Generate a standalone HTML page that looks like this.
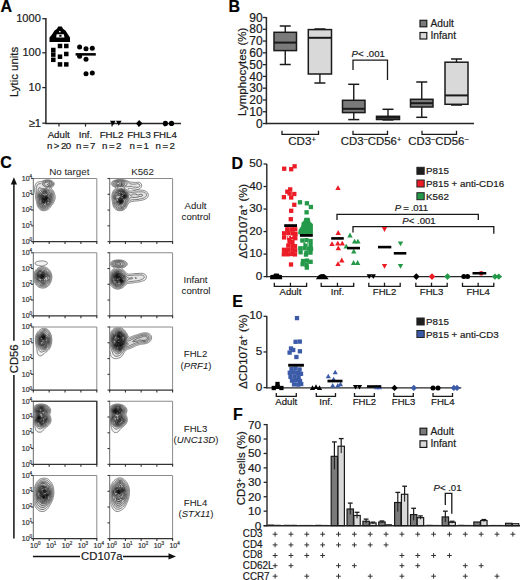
<!DOCTYPE html>
<html><head><meta charset="utf-8"><title>Figure</title>
<style>html,body{margin:0;padding:0;background:#fff;width:520px;height:580px;overflow:hidden}
svg{display:block;font-family:"Liberation Sans", sans-serif}</style></head>
<body><svg width="520" height="580" viewBox="0 0 520 580">
<rect width="520" height="580" fill="#fff"/>
<text x="0.6" y="12.4" font-size="16" text-anchor="start" font-weight="bold" stroke="#000" stroke-width="0.2" fill="#000">A</text>
<text x="228.4" y="12.3" font-size="16" text-anchor="start" font-weight="bold" stroke="#000" stroke-width="0.2" fill="#000">B</text>
<text x="0.2" y="168.4" font-size="16" text-anchor="start" font-weight="bold" stroke="#000" stroke-width="0.2" fill="#000">C</text>
<text x="231.5" y="168.5" font-size="16" text-anchor="start" font-weight="bold" stroke="#000" stroke-width="0.2" fill="#000">D</text>
<text x="232.3" y="306.5" font-size="16" text-anchor="start" font-weight="bold" stroke="#000" stroke-width="0.2" fill="#000">E</text>
<text x="233.0" y="420.0" font-size="16" text-anchor="start" font-weight="bold" stroke="#000" stroke-width="0.2" fill="#000">F</text>
<line x1="45.90" y1="18.00" x2="45.90" y2="124.10" stroke="#262626" stroke-width="1.5"/>
<line x1="45.20" y1="123.40" x2="181.00" y2="123.40" stroke="#262626" stroke-width="1.5"/>
<line x1="42.30" y1="18.70" x2="45.90" y2="18.70" stroke="#262626" stroke-width="1.3"/>
<text x="40.9" y="22.099999999999998" font-size="11.1" text-anchor="end" stroke="#1a1a1a" stroke-width="0.2" fill="#1a1a1a">1000</text>
<line x1="42.30" y1="52.80" x2="45.90" y2="52.80" stroke="#262626" stroke-width="1.3"/>
<text x="40.9" y="56.199999999999996" font-size="11.1" text-anchor="end" stroke="#1a1a1a" stroke-width="0.2" fill="#1a1a1a">100</text>
<line x1="42.30" y1="87.60" x2="45.90" y2="87.60" stroke="#262626" stroke-width="1.3"/>
<text x="40.9" y="91.0" font-size="11.1" text-anchor="end" stroke="#1a1a1a" stroke-width="0.2" fill="#1a1a1a">10</text>
<line x1="42.30" y1="123.20" x2="45.90" y2="123.20" stroke="#262626" stroke-width="1.3"/>
<text x="40.9" y="126.60000000000001" font-size="11.1" text-anchor="end" stroke="#1a1a1a" stroke-width="0.2" fill="#1a1a1a">≥1</text>
<line x1="59.00" y1="123.40" x2="59.00" y2="126.60" stroke="#262626" stroke-width="1.2"/>
<line x1="85.50" y1="123.40" x2="85.50" y2="126.60" stroke="#262626" stroke-width="1.2"/>
<line x1="112.00" y1="123.40" x2="112.00" y2="126.60" stroke="#262626" stroke-width="1.2"/>
<line x1="138.50" y1="123.40" x2="138.50" y2="126.60" stroke="#262626" stroke-width="1.2"/>
<line x1="165.00" y1="123.40" x2="165.00" y2="126.60" stroke="#262626" stroke-width="1.2"/>
<text transform="translate(17.8,72) rotate(-90)" font-size="11.4" text-anchor="middle" stroke="#1a1a1a" stroke-width="0.2" fill="#1a1a1a">Lytic units</text>
<text x="58.7" y="137.6" font-size="9.7" text-anchor="middle" stroke="#1a1a1a" stroke-width="0.2" fill="#1a1a1a">Adult</text>
<text x="58.7" y="149" font-size="9.7" text-anchor="middle" stroke="#1a1a1a" stroke-width="0.2" letter-spacing="-0.6" fill="#1a1a1a">n &gt; 20</text>
<text x="85.5" y="137.6" font-size="9.7" text-anchor="middle" stroke="#1a1a1a" stroke-width="0.2" fill="#1a1a1a">Inf.</text>
<text x="85.5" y="149" font-size="9.7" text-anchor="middle" stroke="#1a1a1a" stroke-width="0.2" letter-spacing="-0.6" fill="#1a1a1a">n = 7</text>
<text x="111.5" y="137.6" font-size="9.7" text-anchor="middle" stroke="#1a1a1a" stroke-width="0.2" fill="#1a1a1a">FHL2</text>
<text x="111.5" y="149" font-size="9.7" text-anchor="middle" stroke="#1a1a1a" stroke-width="0.2" letter-spacing="-0.6" fill="#1a1a1a">n = 2</text>
<text x="139" y="137.6" font-size="9.7" text-anchor="middle" stroke="#1a1a1a" stroke-width="0.2" fill="#1a1a1a">FHL3</text>
<text x="139" y="149" font-size="9.7" text-anchor="middle" stroke="#1a1a1a" stroke-width="0.2" letter-spacing="-0.6" fill="#1a1a1a">n = 1</text>
<text x="165" y="137.6" font-size="9.7" text-anchor="middle" stroke="#1a1a1a" stroke-width="0.2" fill="#1a1a1a">FHL4</text>
<text x="165" y="149" font-size="9.7" text-anchor="middle" stroke="#1a1a1a" stroke-width="0.2" letter-spacing="-0.6" fill="#1a1a1a">n = 2</text>
<polygon points="58.2,26.6 61.8,26.6 63.0,28.8 65.6,30.8 68.0,34.5 70,37.5 70,41.9 49.5,41.9 49.5,37.5 52.0,34.5 54.4,30.8 57.0,28.8" fill="#000"/>
<polygon points="56.6,34.3 63.9,34.3 64.4,37.4 56.2,37.4" fill="#fff"/>
<rect x="59.30" y="34.80" width="2.20" height="2.00" fill="#000" stroke="none" stroke-width="0"/>
<rect x="59.00" y="31.00" width="1.60" height="1.30" fill="#f0f0f0" stroke="none" stroke-width="0"/>
<rect x="57.75" y="43.75" width="4.50" height="4.50" fill="#000" stroke="none" stroke-width="0"/>
<rect x="64.05" y="43.75" width="4.50" height="4.50" fill="#000" stroke="none" stroke-width="0"/>
<rect x="51.05" y="47.75" width="4.50" height="4.50" fill="#000" stroke="none" stroke-width="0"/>
<rect x="51.05" y="52.35" width="4.50" height="4.50" fill="#000" stroke="none" stroke-width="0"/>
<rect x="64.05" y="51.75" width="4.50" height="4.50" fill="#000" stroke="none" stroke-width="0"/>
<rect x="57.75" y="54.45" width="4.50" height="4.50" fill="#000" stroke="none" stroke-width="0"/>
<rect x="51.05" y="57.55" width="4.50" height="4.50" fill="#000" stroke="none" stroke-width="0"/>
<rect x="57.75" y="62.15" width="4.50" height="4.50" fill="#000" stroke="none" stroke-width="0"/>
<rect x="64.05" y="62.15" width="4.50" height="4.50" fill="#000" stroke="none" stroke-width="0"/>
<circle cx="79.60" cy="47.10" r="2.5" fill="#000"/>
<circle cx="86.00" cy="48.80" r="2.5" fill="#000"/>
<circle cx="92.30" cy="48.30" r="2.5" fill="#000"/>
<circle cx="79.60" cy="56.30" r="2.5" fill="#000"/>
<circle cx="86.00" cy="59.20" r="2.5" fill="#000"/>
<circle cx="86.00" cy="73.70" r="2.5" fill="#000"/>
<circle cx="92.30" cy="73.10" r="2.5" fill="#000"/>
<rect x="75.60" y="53.10" width="20.20" height="2.50" fill="#000" stroke="none" stroke-width="0"/>
<polygon points="110.00,120.74 115.60,120.74 112.80,125.66" fill="#000"/>
<polygon points="116.00,120.74 121.60,120.74 118.80,125.66" fill="#000"/>
<polygon points="139.20,120.10 142.50,123.40 139.20,126.70 135.90,123.40" fill="#000"/>
<circle cx="165.40" cy="123.40" r="2.6" fill="#000"/>
<circle cx="171.50" cy="123.40" r="2.6" fill="#000"/>
<line x1="266.40" y1="17.00" x2="266.40" y2="124.20" stroke="#262626" stroke-width="1.5"/>
<line x1="265.70" y1="123.50" x2="474.00" y2="123.50" stroke="#262626" stroke-width="1.5"/>
<line x1="262.90" y1="17.50" x2="266.40" y2="17.50" stroke="#262626" stroke-width="1.3"/>
<text x="262.6" y="21.7" font-size="12" text-anchor="end" stroke="#1a1a1a" stroke-width="0.2" fill="#1a1a1a">90</text>
<line x1="262.90" y1="29.28" x2="266.40" y2="29.28" stroke="#262626" stroke-width="1.3"/>
<text x="262.6" y="33.480000000000004" font-size="12" text-anchor="end" stroke="#1a1a1a" stroke-width="0.2" fill="#1a1a1a">80</text>
<line x1="262.90" y1="41.06" x2="266.40" y2="41.06" stroke="#262626" stroke-width="1.3"/>
<text x="262.6" y="45.260000000000005" font-size="12" text-anchor="end" stroke="#1a1a1a" stroke-width="0.2" fill="#1a1a1a">70</text>
<line x1="262.90" y1="52.84" x2="266.40" y2="52.84" stroke="#262626" stroke-width="1.3"/>
<text x="262.6" y="57.04" font-size="12" text-anchor="end" stroke="#1a1a1a" stroke-width="0.2" fill="#1a1a1a">60</text>
<line x1="262.90" y1="64.62" x2="266.40" y2="64.62" stroke="#262626" stroke-width="1.3"/>
<text x="262.6" y="68.82000000000001" font-size="12" text-anchor="end" stroke="#1a1a1a" stroke-width="0.2" fill="#1a1a1a">50</text>
<line x1="262.90" y1="76.40" x2="266.40" y2="76.40" stroke="#262626" stroke-width="1.3"/>
<text x="262.6" y="80.60000000000001" font-size="12" text-anchor="end" stroke="#1a1a1a" stroke-width="0.2" fill="#1a1a1a">40</text>
<line x1="262.90" y1="88.18" x2="266.40" y2="88.18" stroke="#262626" stroke-width="1.3"/>
<text x="262.6" y="92.38" font-size="12" text-anchor="end" stroke="#1a1a1a" stroke-width="0.2" fill="#1a1a1a">30</text>
<line x1="262.90" y1="99.96" x2="266.40" y2="99.96" stroke="#262626" stroke-width="1.3"/>
<text x="262.6" y="104.16" font-size="12" text-anchor="end" stroke="#1a1a1a" stroke-width="0.2" fill="#1a1a1a">20</text>
<line x1="262.90" y1="111.74" x2="266.40" y2="111.74" stroke="#262626" stroke-width="1.3"/>
<text x="262.6" y="115.94" font-size="12" text-anchor="end" stroke="#1a1a1a" stroke-width="0.2" fill="#1a1a1a">10</text>
<line x1="262.90" y1="123.52" x2="266.40" y2="123.52" stroke="#262626" stroke-width="1.3"/>
<text x="262.6" y="127.72" font-size="12" text-anchor="end" stroke="#1a1a1a" stroke-width="0.2" fill="#1a1a1a">0</text>
<text transform="translate(246.3,71.8) rotate(-90)" font-size="11.5" text-anchor="middle" stroke="#1a1a1a" stroke-width="0.2" fill="#1a1a1a">Lymphocytes (%)</text>
<line x1="285.25" y1="26.00" x2="285.25" y2="32.30" stroke="#1a1a1a" stroke-width="1.4"/>
<line x1="285.25" y1="50.60" x2="285.25" y2="64.50" stroke="#1a1a1a" stroke-width="1.4"/>
<line x1="279.75" y1="26.00" x2="290.75" y2="26.00" stroke="#1a1a1a" stroke-width="1.5"/>
<line x1="279.75" y1="64.50" x2="290.75" y2="64.50" stroke="#1a1a1a" stroke-width="1.5"/>
<rect x="274.00" y="32.30" width="22.50" height="18.30" fill="#7a7a7a" stroke="#1a1a1a" stroke-width="1.5"/>
<line x1="274.00" y1="42.60" x2="296.50" y2="42.60" stroke="#1a1a1a" stroke-width="2.0"/>
<line x1="319.90" y1="29.00" x2="319.90" y2="29.60" stroke="#1a1a1a" stroke-width="1.4"/>
<line x1="319.90" y1="74.00" x2="319.90" y2="83.00" stroke="#1a1a1a" stroke-width="1.4"/>
<line x1="314.40" y1="29.00" x2="325.40" y2="29.00" stroke="#1a1a1a" stroke-width="1.5"/>
<line x1="314.40" y1="83.00" x2="325.40" y2="83.00" stroke="#1a1a1a" stroke-width="1.5"/>
<rect x="308.30" y="29.60" width="23.20" height="44.40" fill="#d9d9d9" stroke="#1a1a1a" stroke-width="1.5"/>
<line x1="308.30" y1="37.80" x2="331.50" y2="37.80" stroke="#1a1a1a" stroke-width="2.0"/>
<line x1="353.75" y1="84.30" x2="353.75" y2="100.30" stroke="#1a1a1a" stroke-width="1.4"/>
<line x1="353.75" y1="112.60" x2="353.75" y2="119.60" stroke="#1a1a1a" stroke-width="1.4"/>
<line x1="348.25" y1="84.30" x2="359.25" y2="84.30" stroke="#1a1a1a" stroke-width="1.5"/>
<line x1="348.25" y1="119.60" x2="359.25" y2="119.60" stroke="#1a1a1a" stroke-width="1.5"/>
<rect x="342.50" y="100.30" width="22.50" height="12.30" fill="#7a7a7a" stroke="#1a1a1a" stroke-width="1.5"/>
<line x1="342.50" y1="108.80" x2="365.00" y2="108.80" stroke="#1a1a1a" stroke-width="2.0"/>
<line x1="388.00" y1="109.30" x2="388.00" y2="116.30" stroke="#1a1a1a" stroke-width="1.4"/>
<line x1="388.00" y1="119.50" x2="388.00" y2="119.90" stroke="#1a1a1a" stroke-width="1.4"/>
<line x1="382.50" y1="109.30" x2="393.50" y2="109.30" stroke="#1a1a1a" stroke-width="1.5"/>
<line x1="382.50" y1="119.90" x2="393.50" y2="119.90" stroke="#1a1a1a" stroke-width="1.5"/>
<rect x="376.50" y="116.30" width="23.00" height="3.20" fill="#d9d9d9" stroke="#1a1a1a" stroke-width="1.5"/>
<line x1="376.50" y1="117.80" x2="399.50" y2="117.80" stroke="#1a1a1a" stroke-width="2.0"/>
<line x1="421.75" y1="82.00" x2="421.75" y2="99.30" stroke="#1a1a1a" stroke-width="1.4"/>
<line x1="421.75" y1="107.00" x2="421.75" y2="117.30" stroke="#1a1a1a" stroke-width="1.4"/>
<line x1="416.25" y1="82.00" x2="427.25" y2="82.00" stroke="#1a1a1a" stroke-width="1.5"/>
<line x1="416.25" y1="117.30" x2="427.25" y2="117.30" stroke="#1a1a1a" stroke-width="1.5"/>
<rect x="410.50" y="99.30" width="22.50" height="7.70" fill="#7a7a7a" stroke="#1a1a1a" stroke-width="1.5"/>
<line x1="410.50" y1="103.20" x2="433.00" y2="103.20" stroke="#1a1a1a" stroke-width="2.0"/>
<line x1="456.50" y1="59.00" x2="456.50" y2="62.20" stroke="#1a1a1a" stroke-width="1.4"/>
<line x1="456.50" y1="104.30" x2="456.50" y2="105.00" stroke="#1a1a1a" stroke-width="1.4"/>
<line x1="451.00" y1="59.00" x2="462.00" y2="59.00" stroke="#1a1a1a" stroke-width="1.5"/>
<line x1="451.00" y1="105.00" x2="462.00" y2="105.00" stroke="#1a1a1a" stroke-width="1.5"/>
<rect x="445.00" y="62.20" width="23.00" height="42.10" fill="#d9d9d9" stroke="#1a1a1a" stroke-width="1.5"/>
<line x1="445.00" y1="95.40" x2="468.00" y2="95.40" stroke="#1a1a1a" stroke-width="2.0"/>
<rect x="420.00" y="20.30" width="6.80" height="6.50" fill="#7a7a7a" stroke="#1a1a1a" stroke-width="1.2"/>
<text x="430.5" y="26.8" font-size="10.2" text-anchor="start" stroke="#1a1a1a" stroke-width="0.2" fill="#1a1a1a">Adult</text>
<rect x="420.00" y="32.50" width="6.80" height="6.50" fill="#d9d9d9" stroke="#1a1a1a" stroke-width="1.2"/>
<text x="430.5" y="39" font-size="10.2" text-anchor="start" stroke="#1a1a1a" stroke-width="0.2" fill="#1a1a1a">Infant</text>
<polyline points="353.00,70.00 353.00,60.20 387.50,60.20 387.50,80.00" fill="none" stroke="#1a1a1a" stroke-width="1.3"/>
<text x="351.5" y="56.9" font-size="9.6" text-anchor="start" stroke="#1a1a1a" stroke-width="0.2" fill="#1a1a1a"><tspan font-style="italic">P</tspan>&lt; .001</text>
<polyline points="282.00,130.80 282.00,134.30 318.50,134.30 318.50,130.80" fill="none" stroke="#1a1a1a" stroke-width="1.3"/>
<polyline points="353.00,130.80 353.00,134.30 387.50,134.30 387.50,130.80" fill="none" stroke="#1a1a1a" stroke-width="1.3"/>
<polyline points="422.00,130.80 422.00,134.30 456.50,134.30 456.50,130.80" fill="none" stroke="#1a1a1a" stroke-width="1.3"/>
<text x="302" y="145" font-size="11.6" text-anchor="middle" stroke="#1a1a1a" stroke-width="0.2" fill="#1a1a1a">CD3<tspan font-size="65%" baseline-shift="42%">+</tspan></text>
<text x="371" y="145" font-size="11.4" text-anchor="middle" stroke="#1a1a1a" stroke-width="0.2" fill="#1a1a1a">CD3<tspan font-size="65%" baseline-shift="42%">−</tspan>CD56<tspan font-size="65%" baseline-shift="42%">+</tspan></text>
<text x="438.5" y="145" font-size="11.4" text-anchor="middle" stroke="#1a1a1a" stroke-width="0.2" fill="#1a1a1a">CD3<tspan font-size="65%" baseline-shift="42%">−</tspan>CD56<tspan font-size="65%" baseline-shift="42%">−</tspan></text>
<path d="M33.30,178.50 H96.80 V241.60" fill="none" stroke="#8a8a8a" stroke-width="1"/>
<line x1="33.30" y1="178.00" x2="33.30" y2="242.20" stroke="#6a6a6a" stroke-width="1.0"/>
<line x1="32.80" y1="241.60" x2="97.30" y2="241.60" stroke="#333" stroke-width="1.2"/>
<line x1="31.10" y1="178.50" x2="33.30" y2="178.50" stroke="#333" stroke-width="1.1"/>
<line x1="33.30" y1="241.60" x2="33.30" y2="243.90" stroke="#333" stroke-width="1.1"/>
<text x="32.099999999999994" y="180.8" font-size="7" text-anchor="end" stroke="#333" stroke-width="0.2" fill="#333">10<tspan font-size="4.6" dy="-2.8">4</tspan></text>
<line x1="31.10" y1="194.28" x2="33.30" y2="194.28" stroke="#333" stroke-width="1.1"/>
<line x1="49.17" y1="241.60" x2="49.17" y2="243.90" stroke="#333" stroke-width="1.1"/>
<text x="32.099999999999994" y="196.57500000000002" font-size="7" text-anchor="end" stroke="#333" stroke-width="0.2" fill="#333">10<tspan font-size="4.6" dy="-2.8">3</tspan></text>
<line x1="31.10" y1="210.05" x2="33.30" y2="210.05" stroke="#333" stroke-width="1.1"/>
<line x1="65.05" y1="241.60" x2="65.05" y2="243.90" stroke="#333" stroke-width="1.1"/>
<text x="32.099999999999994" y="212.35000000000002" font-size="7" text-anchor="end" stroke="#333" stroke-width="0.2" fill="#333">10<tspan font-size="4.6" dy="-2.8">2</tspan></text>
<line x1="31.10" y1="225.82" x2="33.30" y2="225.82" stroke="#333" stroke-width="1.1"/>
<line x1="80.92" y1="241.60" x2="80.92" y2="243.90" stroke="#333" stroke-width="1.1"/>
<text x="32.099999999999994" y="228.125" font-size="7" text-anchor="end" stroke="#333" stroke-width="0.2" fill="#333">10<tspan font-size="4.6" dy="-2.8">1</tspan></text>
<line x1="31.10" y1="241.60" x2="33.30" y2="241.60" stroke="#333" stroke-width="1.1"/>
<line x1="96.80" y1="241.60" x2="96.80" y2="243.90" stroke="#333" stroke-width="1.1"/>
<text x="32.099999999999994" y="243.9" font-size="7" text-anchor="end" stroke="#333" stroke-width="0.2" fill="#333">10<tspan font-size="4.6" dy="-2.8">0</tspan></text>
<path d="M109.70,178.50 H172.60 V241.60" fill="none" stroke="#8a8a8a" stroke-width="1"/>
<line x1="109.70" y1="178.00" x2="109.70" y2="242.20" stroke="#6a6a6a" stroke-width="1.0"/>
<line x1="109.20" y1="241.60" x2="173.10" y2="241.60" stroke="#333" stroke-width="1.2"/>
<line x1="107.50" y1="178.50" x2="109.70" y2="178.50" stroke="#333" stroke-width="1.1"/>
<line x1="109.70" y1="241.60" x2="109.70" y2="243.90" stroke="#333" stroke-width="1.1"/>
<line x1="107.50" y1="194.28" x2="109.70" y2="194.28" stroke="#333" stroke-width="1.1"/>
<line x1="125.42" y1="241.60" x2="125.42" y2="243.90" stroke="#333" stroke-width="1.1"/>
<line x1="107.50" y1="210.05" x2="109.70" y2="210.05" stroke="#333" stroke-width="1.1"/>
<line x1="141.15" y1="241.60" x2="141.15" y2="243.90" stroke="#333" stroke-width="1.1"/>
<line x1="107.50" y1="225.82" x2="109.70" y2="225.82" stroke="#333" stroke-width="1.1"/>
<line x1="156.88" y1="241.60" x2="156.88" y2="243.90" stroke="#333" stroke-width="1.1"/>
<line x1="107.50" y1="241.60" x2="109.70" y2="241.60" stroke="#333" stroke-width="1.1"/>
<line x1="172.60" y1="241.60" x2="172.60" y2="243.90" stroke="#333" stroke-width="1.1"/>
<path d="M33.30,252.75 H96.80 V315.85" fill="none" stroke="#8a8a8a" stroke-width="1"/>
<line x1="33.30" y1="252.25" x2="33.30" y2="316.45" stroke="#6a6a6a" stroke-width="1.0"/>
<line x1="32.80" y1="315.85" x2="97.30" y2="315.85" stroke="#333" stroke-width="1.2"/>
<line x1="31.10" y1="252.75" x2="33.30" y2="252.75" stroke="#333" stroke-width="1.1"/>
<line x1="33.30" y1="315.85" x2="33.30" y2="318.15" stroke="#333" stroke-width="1.1"/>
<text x="32.099999999999994" y="255.05" font-size="7" text-anchor="end" stroke="#333" stroke-width="0.2" fill="#333">10<tspan font-size="4.6" dy="-2.8">4</tspan></text>
<line x1="31.10" y1="268.52" x2="33.30" y2="268.52" stroke="#333" stroke-width="1.1"/>
<line x1="49.17" y1="315.85" x2="49.17" y2="318.15" stroke="#333" stroke-width="1.1"/>
<text x="32.099999999999994" y="270.825" font-size="7" text-anchor="end" stroke="#333" stroke-width="0.2" fill="#333">10<tspan font-size="4.6" dy="-2.8">3</tspan></text>
<line x1="31.10" y1="284.30" x2="33.30" y2="284.30" stroke="#333" stroke-width="1.1"/>
<line x1="65.05" y1="315.85" x2="65.05" y2="318.15" stroke="#333" stroke-width="1.1"/>
<text x="32.099999999999994" y="286.6" font-size="7" text-anchor="end" stroke="#333" stroke-width="0.2" fill="#333">10<tspan font-size="4.6" dy="-2.8">2</tspan></text>
<line x1="31.10" y1="300.07" x2="33.30" y2="300.07" stroke="#333" stroke-width="1.1"/>
<line x1="80.92" y1="315.85" x2="80.92" y2="318.15" stroke="#333" stroke-width="1.1"/>
<text x="32.099999999999994" y="302.375" font-size="7" text-anchor="end" stroke="#333" stroke-width="0.2" fill="#333">10<tspan font-size="4.6" dy="-2.8">1</tspan></text>
<line x1="31.10" y1="315.85" x2="33.30" y2="315.85" stroke="#333" stroke-width="1.1"/>
<line x1="96.80" y1="315.85" x2="96.80" y2="318.15" stroke="#333" stroke-width="1.1"/>
<text x="32.099999999999994" y="318.15000000000003" font-size="7" text-anchor="end" stroke="#333" stroke-width="0.2" fill="#333">10<tspan font-size="4.6" dy="-2.8">0</tspan></text>
<path d="M109.70,252.75 H172.60 V315.85" fill="none" stroke="#8a8a8a" stroke-width="1"/>
<line x1="109.70" y1="252.25" x2="109.70" y2="316.45" stroke="#6a6a6a" stroke-width="1.0"/>
<line x1="109.20" y1="315.85" x2="173.10" y2="315.85" stroke="#333" stroke-width="1.2"/>
<line x1="107.50" y1="252.75" x2="109.70" y2="252.75" stroke="#333" stroke-width="1.1"/>
<line x1="109.70" y1="315.85" x2="109.70" y2="318.15" stroke="#333" stroke-width="1.1"/>
<line x1="107.50" y1="268.52" x2="109.70" y2="268.52" stroke="#333" stroke-width="1.1"/>
<line x1="125.42" y1="315.85" x2="125.42" y2="318.15" stroke="#333" stroke-width="1.1"/>
<line x1="107.50" y1="284.30" x2="109.70" y2="284.30" stroke="#333" stroke-width="1.1"/>
<line x1="141.15" y1="315.85" x2="141.15" y2="318.15" stroke="#333" stroke-width="1.1"/>
<line x1="107.50" y1="300.07" x2="109.70" y2="300.07" stroke="#333" stroke-width="1.1"/>
<line x1="156.88" y1="315.85" x2="156.88" y2="318.15" stroke="#333" stroke-width="1.1"/>
<line x1="107.50" y1="315.85" x2="109.70" y2="315.85" stroke="#333" stroke-width="1.1"/>
<line x1="172.60" y1="315.85" x2="172.60" y2="318.15" stroke="#333" stroke-width="1.1"/>
<path d="M33.30,327.00 H96.80 V390.10" fill="none" stroke="#8a8a8a" stroke-width="1"/>
<line x1="33.30" y1="326.50" x2="33.30" y2="390.70" stroke="#6a6a6a" stroke-width="1.0"/>
<line x1="32.80" y1="390.10" x2="97.30" y2="390.10" stroke="#333" stroke-width="1.2"/>
<line x1="31.10" y1="327.00" x2="33.30" y2="327.00" stroke="#333" stroke-width="1.1"/>
<line x1="33.30" y1="390.10" x2="33.30" y2="392.40" stroke="#333" stroke-width="1.1"/>
<text x="32.099999999999994" y="329.3" font-size="7" text-anchor="end" stroke="#333" stroke-width="0.2" fill="#333">10<tspan font-size="4.6" dy="-2.8">4</tspan></text>
<line x1="31.10" y1="342.77" x2="33.30" y2="342.77" stroke="#333" stroke-width="1.1"/>
<line x1="49.17" y1="390.10" x2="49.17" y2="392.40" stroke="#333" stroke-width="1.1"/>
<text x="32.099999999999994" y="345.075" font-size="7" text-anchor="end" stroke="#333" stroke-width="0.2" fill="#333">10<tspan font-size="4.6" dy="-2.8">3</tspan></text>
<line x1="31.10" y1="358.55" x2="33.30" y2="358.55" stroke="#333" stroke-width="1.1"/>
<line x1="65.05" y1="390.10" x2="65.05" y2="392.40" stroke="#333" stroke-width="1.1"/>
<text x="32.099999999999994" y="360.85" font-size="7" text-anchor="end" stroke="#333" stroke-width="0.2" fill="#333">10<tspan font-size="4.6" dy="-2.8">2</tspan></text>
<line x1="31.10" y1="374.32" x2="33.30" y2="374.32" stroke="#333" stroke-width="1.1"/>
<line x1="80.92" y1="390.10" x2="80.92" y2="392.40" stroke="#333" stroke-width="1.1"/>
<text x="32.099999999999994" y="376.625" font-size="7" text-anchor="end" stroke="#333" stroke-width="0.2" fill="#333">10<tspan font-size="4.6" dy="-2.8">1</tspan></text>
<line x1="31.10" y1="390.10" x2="33.30" y2="390.10" stroke="#333" stroke-width="1.1"/>
<line x1="96.80" y1="390.10" x2="96.80" y2="392.40" stroke="#333" stroke-width="1.1"/>
<text x="32.099999999999994" y="392.40000000000003" font-size="7" text-anchor="end" stroke="#333" stroke-width="0.2" fill="#333">10<tspan font-size="4.6" dy="-2.8">0</tspan></text>
<path d="M109.70,327.00 H172.60 V390.10" fill="none" stroke="#8a8a8a" stroke-width="1"/>
<line x1="109.70" y1="326.50" x2="109.70" y2="390.70" stroke="#6a6a6a" stroke-width="1.0"/>
<line x1="109.20" y1="390.10" x2="173.10" y2="390.10" stroke="#333" stroke-width="1.2"/>
<line x1="107.50" y1="327.00" x2="109.70" y2="327.00" stroke="#333" stroke-width="1.1"/>
<line x1="109.70" y1="390.10" x2="109.70" y2="392.40" stroke="#333" stroke-width="1.1"/>
<line x1="107.50" y1="342.77" x2="109.70" y2="342.77" stroke="#333" stroke-width="1.1"/>
<line x1="125.42" y1="390.10" x2="125.42" y2="392.40" stroke="#333" stroke-width="1.1"/>
<line x1="107.50" y1="358.55" x2="109.70" y2="358.55" stroke="#333" stroke-width="1.1"/>
<line x1="141.15" y1="390.10" x2="141.15" y2="392.40" stroke="#333" stroke-width="1.1"/>
<line x1="107.50" y1="374.32" x2="109.70" y2="374.32" stroke="#333" stroke-width="1.1"/>
<line x1="156.88" y1="390.10" x2="156.88" y2="392.40" stroke="#333" stroke-width="1.1"/>
<line x1="107.50" y1="390.10" x2="109.70" y2="390.10" stroke="#333" stroke-width="1.1"/>
<line x1="172.60" y1="390.10" x2="172.60" y2="392.40" stroke="#333" stroke-width="1.1"/>
<path d="M33.30,401.25 H96.80 V464.35" fill="none" stroke="#8a8a8a" stroke-width="1"/>
<line x1="33.30" y1="400.75" x2="33.30" y2="464.95" stroke="#6a6a6a" stroke-width="1.0"/>
<line x1="32.80" y1="464.35" x2="97.30" y2="464.35" stroke="#333" stroke-width="1.2"/>
<line x1="31.10" y1="401.25" x2="33.30" y2="401.25" stroke="#333" stroke-width="1.1"/>
<line x1="33.30" y1="464.35" x2="33.30" y2="466.65" stroke="#333" stroke-width="1.1"/>
<text x="32.099999999999994" y="403.55" font-size="7" text-anchor="end" stroke="#333" stroke-width="0.2" fill="#333">10<tspan font-size="4.6" dy="-2.8">4</tspan></text>
<line x1="31.10" y1="417.02" x2="33.30" y2="417.02" stroke="#333" stroke-width="1.1"/>
<line x1="49.17" y1="464.35" x2="49.17" y2="466.65" stroke="#333" stroke-width="1.1"/>
<text x="32.099999999999994" y="419.325" font-size="7" text-anchor="end" stroke="#333" stroke-width="0.2" fill="#333">10<tspan font-size="4.6" dy="-2.8">3</tspan></text>
<line x1="31.10" y1="432.80" x2="33.30" y2="432.80" stroke="#333" stroke-width="1.1"/>
<line x1="65.05" y1="464.35" x2="65.05" y2="466.65" stroke="#333" stroke-width="1.1"/>
<text x="32.099999999999994" y="435.1" font-size="7" text-anchor="end" stroke="#333" stroke-width="0.2" fill="#333">10<tspan font-size="4.6" dy="-2.8">2</tspan></text>
<line x1="31.10" y1="448.57" x2="33.30" y2="448.57" stroke="#333" stroke-width="1.1"/>
<line x1="80.92" y1="464.35" x2="80.92" y2="466.65" stroke="#333" stroke-width="1.1"/>
<text x="32.099999999999994" y="450.875" font-size="7" text-anchor="end" stroke="#333" stroke-width="0.2" fill="#333">10<tspan font-size="4.6" dy="-2.8">1</tspan></text>
<line x1="31.10" y1="464.35" x2="33.30" y2="464.35" stroke="#333" stroke-width="1.1"/>
<line x1="96.80" y1="464.35" x2="96.80" y2="466.65" stroke="#333" stroke-width="1.1"/>
<text x="32.099999999999994" y="466.65000000000003" font-size="7" text-anchor="end" stroke="#333" stroke-width="0.2" fill="#333">10<tspan font-size="4.6" dy="-2.8">0</tspan></text>
<path d="M33.30,401.25 H96.80 V464.35" fill="none" stroke="#2a2a2a" stroke-width="1.2"/>
<path d="M109.70,401.25 H172.60 V464.35" fill="none" stroke="#8a8a8a" stroke-width="1"/>
<line x1="109.70" y1="400.75" x2="109.70" y2="464.95" stroke="#6a6a6a" stroke-width="1.0"/>
<line x1="109.20" y1="464.35" x2="173.10" y2="464.35" stroke="#333" stroke-width="1.2"/>
<line x1="107.50" y1="401.25" x2="109.70" y2="401.25" stroke="#333" stroke-width="1.1"/>
<line x1="109.70" y1="464.35" x2="109.70" y2="466.65" stroke="#333" stroke-width="1.1"/>
<line x1="107.50" y1="417.02" x2="109.70" y2="417.02" stroke="#333" stroke-width="1.1"/>
<line x1="125.42" y1="464.35" x2="125.42" y2="466.65" stroke="#333" stroke-width="1.1"/>
<line x1="107.50" y1="432.80" x2="109.70" y2="432.80" stroke="#333" stroke-width="1.1"/>
<line x1="141.15" y1="464.35" x2="141.15" y2="466.65" stroke="#333" stroke-width="1.1"/>
<line x1="107.50" y1="448.57" x2="109.70" y2="448.57" stroke="#333" stroke-width="1.1"/>
<line x1="156.88" y1="464.35" x2="156.88" y2="466.65" stroke="#333" stroke-width="1.1"/>
<line x1="107.50" y1="464.35" x2="109.70" y2="464.35" stroke="#333" stroke-width="1.1"/>
<line x1="172.60" y1="464.35" x2="172.60" y2="466.65" stroke="#333" stroke-width="1.1"/>
<path d="M33.30,475.50 H96.80 V538.60" fill="none" stroke="#8a8a8a" stroke-width="1"/>
<line x1="33.30" y1="475.00" x2="33.30" y2="539.20" stroke="#6a6a6a" stroke-width="1.0"/>
<line x1="32.80" y1="538.60" x2="97.30" y2="538.60" stroke="#333" stroke-width="1.2"/>
<line x1="31.10" y1="475.50" x2="33.30" y2="475.50" stroke="#333" stroke-width="1.1"/>
<line x1="33.30" y1="538.60" x2="33.30" y2="540.90" stroke="#333" stroke-width="1.1"/>
<text x="32.099999999999994" y="477.8" font-size="7" text-anchor="end" stroke="#333" stroke-width="0.2" fill="#333">10<tspan font-size="4.6" dy="-2.8">4</tspan></text>
<text x="35.3" y="547.8000000000001" font-size="7" text-anchor="middle" stroke="#333" stroke-width="0.2" fill="#333">10<tspan font-size="4.6" dy="-2.8">0</tspan></text>
<line x1="31.10" y1="491.27" x2="33.30" y2="491.27" stroke="#333" stroke-width="1.1"/>
<line x1="49.17" y1="538.60" x2="49.17" y2="540.90" stroke="#333" stroke-width="1.1"/>
<text x="32.099999999999994" y="493.575" font-size="7" text-anchor="end" stroke="#333" stroke-width="0.2" fill="#333">10<tspan font-size="4.6" dy="-2.8">3</tspan></text>
<text x="51.175" y="547.8000000000001" font-size="7" text-anchor="middle" stroke="#333" stroke-width="0.2" fill="#333">10<tspan font-size="4.6" dy="-2.8">1</tspan></text>
<line x1="31.10" y1="507.05" x2="33.30" y2="507.05" stroke="#333" stroke-width="1.1"/>
<line x1="65.05" y1="538.60" x2="65.05" y2="540.90" stroke="#333" stroke-width="1.1"/>
<text x="32.099999999999994" y="509.35" font-size="7" text-anchor="end" stroke="#333" stroke-width="0.2" fill="#333">10<tspan font-size="4.6" dy="-2.8">2</tspan></text>
<text x="67.05" y="547.8000000000001" font-size="7" text-anchor="middle" stroke="#333" stroke-width="0.2" fill="#333">10<tspan font-size="4.6" dy="-2.8">2</tspan></text>
<line x1="31.10" y1="522.83" x2="33.30" y2="522.83" stroke="#333" stroke-width="1.1"/>
<line x1="80.92" y1="538.60" x2="80.92" y2="540.90" stroke="#333" stroke-width="1.1"/>
<text x="32.099999999999994" y="525.125" font-size="7" text-anchor="end" stroke="#333" stroke-width="0.2" fill="#333">10<tspan font-size="4.6" dy="-2.8">1</tspan></text>
<text x="82.925" y="547.8000000000001" font-size="7" text-anchor="middle" stroke="#333" stroke-width="0.2" fill="#333">10<tspan font-size="4.6" dy="-2.8">3</tspan></text>
<line x1="31.10" y1="538.60" x2="33.30" y2="538.60" stroke="#333" stroke-width="1.1"/>
<line x1="96.80" y1="538.60" x2="96.80" y2="540.90" stroke="#333" stroke-width="1.1"/>
<text x="32.099999999999994" y="540.9" font-size="7" text-anchor="end" stroke="#333" stroke-width="0.2" fill="#333">10<tspan font-size="4.6" dy="-2.8">0</tspan></text>
<text x="98.8" y="547.8000000000001" font-size="7" text-anchor="middle" stroke="#333" stroke-width="0.2" fill="#333">10<tspan font-size="4.6" dy="-2.8">4</tspan></text>
<path d="M109.70,475.50 H172.60 V538.60" fill="none" stroke="#8a8a8a" stroke-width="1"/>
<line x1="109.70" y1="475.00" x2="109.70" y2="539.20" stroke="#6a6a6a" stroke-width="1.0"/>
<line x1="109.20" y1="538.60" x2="173.10" y2="538.60" stroke="#333" stroke-width="1.2"/>
<line x1="107.50" y1="475.50" x2="109.70" y2="475.50" stroke="#333" stroke-width="1.1"/>
<line x1="109.70" y1="538.60" x2="109.70" y2="540.90" stroke="#333" stroke-width="1.1"/>
<text x="111.7" y="547.8000000000001" font-size="7" text-anchor="middle" stroke="#333" stroke-width="0.2" fill="#333">10<tspan font-size="4.6" dy="-2.8">0</tspan></text>
<line x1="107.50" y1="491.27" x2="109.70" y2="491.27" stroke="#333" stroke-width="1.1"/>
<line x1="125.42" y1="538.60" x2="125.42" y2="540.90" stroke="#333" stroke-width="1.1"/>
<text x="127.425" y="547.8000000000001" font-size="7" text-anchor="middle" stroke="#333" stroke-width="0.2" fill="#333">10<tspan font-size="4.6" dy="-2.8">1</tspan></text>
<line x1="107.50" y1="507.05" x2="109.70" y2="507.05" stroke="#333" stroke-width="1.1"/>
<line x1="141.15" y1="538.60" x2="141.15" y2="540.90" stroke="#333" stroke-width="1.1"/>
<text x="143.15" y="547.8000000000001" font-size="7" text-anchor="middle" stroke="#333" stroke-width="0.2" fill="#333">10<tspan font-size="4.6" dy="-2.8">2</tspan></text>
<line x1="107.50" y1="522.83" x2="109.70" y2="522.83" stroke="#333" stroke-width="1.1"/>
<line x1="156.88" y1="538.60" x2="156.88" y2="540.90" stroke="#333" stroke-width="1.1"/>
<text x="158.875" y="547.8000000000001" font-size="7" text-anchor="middle" stroke="#333" stroke-width="0.2" fill="#333">10<tspan font-size="4.6" dy="-2.8">3</tspan></text>
<line x1="107.50" y1="538.60" x2="109.70" y2="538.60" stroke="#333" stroke-width="1.1"/>
<line x1="172.60" y1="538.60" x2="172.60" y2="540.90" stroke="#333" stroke-width="1.1"/>
<text x="174.6" y="547.8000000000001" font-size="7" text-anchor="middle" stroke="#333" stroke-width="0.2" fill="#333">10<tspan font-size="4.6" dy="-2.8">4</tspan></text>
<text x="69.3" y="175.4" font-size="9.8" text-anchor="middle" fill="#1a1a1a">No target</text>
<text x="142.6" y="175.4" font-size="9.8" text-anchor="middle" fill="#1a1a1a">K562</text>
<text x="195.5" y="208.8" font-size="9.6" text-anchor="middle" stroke="#1a1a1a" stroke-width="0.05" fill="#1a1a1a">Adult</text>
<text x="196" y="220.05" font-size="9.6" text-anchor="middle" stroke="#1a1a1a" stroke-width="0.05" fill="#1a1a1a">control</text>
<text x="195.5" y="283.05" font-size="9.6" text-anchor="middle" stroke="#1a1a1a" stroke-width="0.05" fill="#1a1a1a">Infant</text>
<text x="196" y="294.3" font-size="9.6" text-anchor="middle" stroke="#1a1a1a" stroke-width="0.05" fill="#1a1a1a">control</text>
<text x="195.5" y="357.3" font-size="9.6" text-anchor="middle" stroke="#1a1a1a" stroke-width="0.05" fill="#1a1a1a">FHL2</text>
<text x="196" y="368.55" font-size="9.6" text-anchor="middle" stroke="#1a1a1a" stroke-width="0.05" fill="#1a1a1a">(<tspan font-style="italic">PRF1</tspan>)</text>
<text x="195.5" y="431.55" font-size="9.6" text-anchor="middle" stroke="#1a1a1a" stroke-width="0.05" fill="#1a1a1a">FHL3</text>
<text x="196" y="442.8" font-size="9.6" text-anchor="middle" stroke="#1a1a1a" stroke-width="0.05" fill="#1a1a1a">(<tspan font-style="italic">UNC13D</tspan>)</text>
<text x="195.5" y="505.8" font-size="9.6" text-anchor="middle" stroke="#1a1a1a" stroke-width="0.05" fill="#1a1a1a">FHL4</text>
<text x="196" y="517.05" font-size="9.6" text-anchor="middle" stroke="#1a1a1a" stroke-width="0.05" fill="#1a1a1a">(<tspan font-style="italic">STX11</tspan>)</text>
<line x1="13.90" y1="184.00" x2="13.90" y2="340.70" stroke="#111" stroke-width="1.5"/>
<line x1="13.90" y1="375.00" x2="13.90" y2="538.60" stroke="#111" stroke-width="1.5"/>
<polygon points="13.9,177.2 10.8,184.6 17,184.6" fill="#111"/>
<text transform="translate(17.9,358.8) rotate(-90)" font-size="11.3" text-anchor="middle" stroke="#1a1a1a" stroke-width="0.2" fill="#1a1a1a">CD56</text>
<line x1="32.90" y1="556.40" x2="80.00" y2="556.40" stroke="#111" stroke-width="1.5"/>
<line x1="123.00" y1="556.40" x2="170.00" y2="556.40" stroke="#111" stroke-width="1.5"/>
<polygon points="176,556.4 168.5,553.3 168.5,559.5" fill="#111"/>
<text x="101.8" y="560.1" font-size="11.3" text-anchor="middle" stroke="#1a1a1a" stroke-width="0.2" fill="#1a1a1a">CD107a</text>
<defs><clipPath id="cb00"><rect x="33.8" y="179.0" width="62.5" height="62.1"/></clipPath><clipPath id="cb01"><rect x="110.2" y="179.0" width="61.89999999999999" height="62.1"/></clipPath><clipPath id="cb10"><rect x="33.8" y="253.25" width="62.5" height="62.1"/></clipPath><clipPath id="cb11"><rect x="110.2" y="253.25" width="61.89999999999999" height="62.1"/></clipPath><clipPath id="cb20"><rect x="33.8" y="327.5" width="62.5" height="62.1"/></clipPath><clipPath id="cb21"><rect x="110.2" y="327.5" width="61.89999999999999" height="62.1"/></clipPath><clipPath id="cb30"><rect x="33.8" y="401.75" width="62.5" height="62.1"/></clipPath><clipPath id="cb31"><rect x="110.2" y="401.75" width="61.89999999999999" height="62.1"/></clipPath><clipPath id="cb40"><rect x="33.8" y="476.0" width="62.5" height="62.1"/></clipPath><clipPath id="cb41"><rect x="110.2" y="476.0" width="61.89999999999999" height="62.1"/></clipPath></defs>
<g clip-path="url(#cb00)" fill="none" stroke-width="0.8">
<path d="M45.3,210.5 L44.3,210.7 L43.3,210.7 L42.3,210.6 L41.6,210.4 L41.0,210.1 L40.3,209.8 L39.6,209.2 L39.2,208.8 L38.7,208.2 L38.3,207.6 L38.0,207.1 L37.6,206.4 L37.3,205.5 L37.1,204.8 L37.0,204.0 L36.8,203.2 L36.6,202.2 L36.5,201.5 L36.3,200.8 L36.1,199.8 L35.9,199.2 L35.7,198.2 L35.6,197.2 L35.6,196.5 L35.5,195.5 L35.4,194.5 L35.2,193.8 L35.0,192.8 L34.8,192.2 L34.6,191.2 L34.5,190.5 L34.5,189.5 L34.6,188.5 L34.6,187.8 L34.8,186.8 L35.0,186.2 L35.2,185.2 L35.5,184.5 L35.8,183.8 L36.2,183.2 L36.6,182.8 L37.3,182.3 L38.0,182.0 L38.6,181.8 L39.6,181.7 L40.6,181.6 L41.3,181.5 L42.1,181.2 L42.8,180.8 L43.6,180.5 L44.3,180.3 L45.0,180.1 L46.0,179.9 L47.0,179.8 L47.6,179.8 L48.3,179.8 L49.3,179.9 L50.2,180.2 L51.0,180.4 L51.6,180.7 L52.3,181.1 L52.9,181.5 L53.3,181.9 L53.8,182.5 L54.1,183.2 L54.2,184.2 L54.0,185.0 L53.6,185.7 L53.3,186.2 L52.6,186.8 L52.2,187.2 L51.6,187.7 L51.5,188.5 L52.0,189.1 L52.3,189.5 L52.9,190.2 L53.3,190.8 L53.6,191.4 L54.0,192.1 L54.2,192.8 L54.5,193.5 L54.7,194.2 L54.9,195.2 L55.1,195.8 L55.2,196.8 L55.2,197.8 L55.0,198.8 L54.9,199.5 L54.6,200.3 L54.3,201.2 L54.0,201.8 L53.7,202.5 L53.3,203.1 L53.0,203.7 L52.6,204.2 L52.1,204.8 L51.6,205.4 L51.3,205.9 L50.8,206.5 L50.3,207.2 L50.0,207.6 L49.5,208.2 L49.0,208.7 L48.4,209.2 L47.9,209.5 L47.3,209.8 L46.5,210.2 L45.6,210.5Z" stroke="#666" fill="#000" fill-opacity="0.05"/>
<path d="M45.3,209.6 L44.3,209.8 L43.3,209.8 L42.3,209.7 L41.6,209.4 L41.0,209.1 L40.3,208.6 L39.8,208.2 L39.3,207.6 L39.0,207.1 L38.6,206.5 L38.3,205.8 L38.0,204.8 L37.8,204.2 L37.7,203.2 L37.5,202.5 L37.4,201.5 L37.2,200.8 L37.0,199.8 L36.9,199.2 L36.8,198.2 L36.7,197.2 L36.6,196.2 L36.6,195.5 L36.6,194.5 L36.5,193.5 L36.4,192.5 L36.3,191.8 L36.2,190.8 L36.2,189.8 L36.2,188.8 L36.3,188.2 L36.5,187.2 L36.7,186.5 L37.0,185.6 L37.3,184.9 L37.6,184.5 L38.3,184.0 L39.0,183.8 L40.0,183.7 L40.8,183.5 L41.3,183.1 L41.9,182.5 L42.3,182.2 L43.0,181.7 L43.6,181.3 L44.3,181.0 L45.0,180.8 L46.0,180.6 L46.6,180.5 L47.6,180.4 L48.6,180.5 L49.3,180.6 L50.1,180.8 L51.0,181.1 L51.6,181.5 L52.1,181.8 L52.6,182.3 L53.0,182.8 L53.3,183.8 L53.3,184.2 L53.0,185.2 L52.6,185.7 L52.2,186.2 L51.6,186.7 L51.0,187.2 L50.4,187.5 L49.8,187.8 L49.6,188.5 L50.0,188.8 L50.6,189.3 L51.3,189.8 L51.6,190.2 L52.2,190.8 L52.6,191.5 L52.9,192.2 L53.2,192.8 L53.4,193.5 L53.6,194.5 L53.8,195.2 L53.9,196.2 L54.0,196.8 L54.0,197.8 L53.9,198.5 L53.7,199.5 L53.5,200.2 L53.3,200.9 L53.0,201.7 L52.6,202.4 L52.3,203.0 L52.0,203.5 L51.5,204.2 L51.0,204.8 L50.6,205.3 L50.3,205.8 L49.8,206.5 L49.3,207.1 L48.9,207.5 L48.3,208.1 L47.7,208.5 L47.1,208.8 L46.5,209.2 L45.6,209.5Z" stroke="#5a5a5a" fill="#000" fill-opacity="0.05"/>
<path d="M46.4,201.5 L46.3,201.2 L46.4,201.5Z" stroke="#5a5a5a" fill="#000" fill-opacity="0.05"/>
<path d="M48.6,187.2 L47.6,187.3 L46.6,187.4 L45.8,187.2 L45.0,186.8 L44.4,186.5 L43.9,186.2 L43.3,185.7 L42.8,185.2 L42.5,184.5 L42.6,183.6 L43.0,183.0 L43.4,182.5 L44.0,182.0 L44.6,181.7 L45.3,181.4 L46.3,181.3 L47.3,181.2 L48.0,181.1 L48.6,181.2 L49.6,181.4 L50.3,181.7 L51.0,182.0 L51.6,182.5 L52.0,182.8 L52.4,183.5 L52.3,184.5 L52.0,185.2 L51.6,185.7 L51.1,186.2 L50.6,186.5 L49.9,186.8 L49.0,187.1Z" stroke="#4e4e4e" fill="#000" fill-opacity="0.05"/>
<path d="M45.3,208.6 L44.3,208.8 L43.3,208.8 L42.3,208.7 L41.6,208.4 L41.0,208.0 L40.4,207.5 L40.0,207.0 L39.6,206.5 L39.3,205.8 L39.0,205.1 L38.7,204.2 L38.6,203.5 L38.4,202.5 L38.3,201.8 L38.1,200.8 L38.0,199.8 L37.9,199.2 L37.7,198.2 L37.6,197.2 L37.6,196.5 L37.6,195.8 L37.7,194.8 L37.7,193.8 L37.8,192.8 L37.9,191.8 L38.0,191.2 L38.1,190.2 L38.3,189.4 L38.6,188.5 L39.0,187.9 L39.6,187.7 L40.3,188.0 L41.0,188.3 L41.6,188.5 L42.6,188.6 L43.6,188.6 L44.6,188.6 L45.6,188.5 L46.6,188.7 L47.3,188.9 L48.0,189.2 L48.7,189.5 L49.4,189.8 L50.0,190.2 L50.6,190.7 L51.1,191.2 L51.6,191.8 L52.0,192.5 L52.2,193.2 L52.4,193.8 L52.6,194.8 L52.8,195.5 L52.9,196.5 L52.8,197.5 L52.7,198.5 L52.6,199.2 L52.5,200.2 L52.3,200.8 L52.0,201.6 L51.6,202.3 L51.3,203.0 L51.0,203.5 L50.5,204.2 L50.0,204.8 L49.6,205.3 L49.2,205.8 L48.6,206.5 L48.3,206.8 L47.6,207.4 L47.0,207.8 L46.3,208.2 L45.6,208.4Z" stroke="#4e4e4e" fill="#000" fill-opacity="0.05"/>
<path d="M46.8,201.5 L46.3,201.0 L45.9,201.5 L46.6,201.7Z" stroke="#4e4e4e" fill="#000" fill-opacity="0.05"/>
<path d="M49.6,186.2 L48.6,186.4 L47.6,186.5 L46.6,186.4 L46.0,186.1 L45.3,185.7 L44.6,185.2 L44.2,184.8 L43.8,184.2 L44.0,183.3 L44.4,182.8 L45.0,182.5 L46.0,182.2 L46.6,182.1 L47.6,182.0 L48.6,182.0 L49.5,182.2 L50.2,182.5 L50.7,182.8 L51.3,183.5 L51.4,184.2 L51.2,184.8 L50.7,185.5 L50.3,185.9 L49.6,186.2Z" stroke="#444" fill="#000" fill-opacity="0.05"/>
<path d="M43.6,207.9 L42.9,207.8 L42.0,207.6 L41.3,207.3 L40.9,206.8 L40.4,206.2 L40.0,205.5 L39.7,204.8 L39.5,204.2 L39.3,203.4 L39.2,202.5 L39.0,201.5 L38.9,200.8 L38.8,199.8 L38.7,198.8 L38.6,198.2 L38.4,197.2 L38.4,196.2 L38.5,195.2 L38.6,194.2 L38.7,193.5 L39.0,192.7 L39.2,191.8 L39.5,191.2 L40.0,190.5 L40.5,190.2 L41.3,190.0 L42.3,189.9 L43.0,189.8 L44.0,189.6 L45.0,189.6 L46.0,189.6 L47.0,189.8 L47.6,190.1 L48.3,190.4 L49.0,190.8 L49.5,191.2 L50.0,191.5 L50.6,192.1 L51.0,192.5 L51.3,193.2 L51.6,194.2 L51.7,194.8 L51.9,195.8 L52.0,196.8 L51.9,197.8 L51.7,198.8 L51.6,199.5 L51.5,200.5 L51.3,201.2 L51.0,202.0 L50.6,202.7 L50.3,203.2 L49.9,203.8 L49.4,204.5 L49.0,205.1 L48.5,205.5 L48.0,206.0 L47.3,206.5 L46.8,206.8 L46.2,207.2 L45.4,207.5 L44.6,207.7 L43.9,207.8Z" stroke="#444" fill="#000" fill-opacity="0.05"/>
<path d="M46.9,201.8 L47.1,201.2 L46.6,200.8 L46.0,200.9 L45.9,201.8 L46.6,202.0Z" stroke="#444" fill="#000" fill-opacity="0.05"/>
<path d="M49.6,185.2 L48.6,185.4 L48.0,185.2 L47.6,184.5 L48.1,184.2 L48.6,183.7 L49.6,183.6 L50.1,184.2 L50.0,184.9Z" stroke="#3a3a3a" fill="#000" fill-opacity="0.05"/>
<path d="M43.3,206.9 L42.3,206.8 L41.7,206.5 L41.3,206.0 L41.0,205.4 L40.6,204.7 L40.3,204.1 L40.0,203.2 L40.0,202.2 L39.9,201.5 L39.6,200.5 L39.6,199.8 L39.5,198.8 L39.3,197.8 L39.2,197.2 L39.1,196.2 L39.2,195.2 L39.3,194.4 L39.6,193.5 L40.0,193.1 L40.5,192.5 L41.0,191.9 L41.4,191.5 L42.0,191.2 L42.9,190.8 L43.6,190.6 L44.6,190.5 L45.3,190.5 L46.0,190.5 L47.0,190.8 L47.6,191.2 L48.1,191.5 L48.6,191.9 L49.3,192.3 L50.0,192.8 L50.3,193.2 L50.7,193.8 L50.9,194.8 L51.0,195.5 L51.2,196.5 L51.2,197.5 L51.0,198.4 L50.8,199.2 L50.7,200.2 L50.6,200.8 L50.4,201.8 L50.0,202.5 L49.6,203.1 L49.3,203.6 L48.9,204.2 L48.3,204.8 L47.8,205.2 L47.1,205.5 L46.5,205.8 L45.8,206.2 L45.0,206.5 L44.3,206.6 L43.5,206.8Z" stroke="#3a3a3a" fill="#000" fill-opacity="0.05"/>
<path d="M46.8,202.2 L47.3,201.8 L47.3,201.0 L46.6,200.6 L45.7,200.8 L45.4,201.5 L45.9,202.2 L46.6,202.2Z" stroke="#3a3a3a" fill="#000" fill-opacity="0.05"/>
<path d="M43.0,205.9 L42.3,205.6 L42.0,205.2 L41.6,204.5 L41.2,203.8 L41.0,202.8 L41.3,202.2 L41.3,201.2 L40.9,200.8 L40.3,200.2 L40.2,199.5 L40.1,198.5 L40.0,197.8 L39.8,196.8 L39.7,195.8 L39.9,194.8 L40.2,194.2 L40.6,193.8 L41.6,193.6 L42.0,193.2 L42.3,192.4 L42.7,191.8 L43.3,191.5 L44.3,191.2 L45.3,191.2 L46.3,191.4 L47.0,191.7 L47.4,192.2 L47.9,192.8 L48.3,193.3 L49.0,193.6 L49.6,194.0 L50.0,194.5 L50.3,195.5 L50.4,196.2 L50.4,197.2 L50.3,197.8 L50.1,198.8 L50.1,199.8 L50.0,200.8 L49.8,201.5 L49.6,202.2 L49.1,202.8 L48.6,203.5 L48.3,203.9 L47.6,204.4 L47.0,204.7 L46.0,204.8 L45.3,205.1 L44.6,205.5 L44.0,205.7 L43.3,205.8Z" stroke="#333" fill="#000" fill-opacity="0.05"/>
<path d="M46.9,202.5 L47.5,202.2 L47.8,201.5 L47.5,200.8 L47.0,200.4 L46.0,200.5 L45.4,200.8 L45.2,201.5 L45.5,202.2 L46.0,202.5 L46.9,202.5Z" stroke="#333" fill="#000" fill-opacity="0.05"/>
<path d="M43.3,204.5 L42.6,204.3 L42.1,203.8 L41.8,203.2 L42.0,202.2 L42.0,201.5 L41.8,200.8 L41.3,200.2 L41.0,199.6 L40.9,198.8 L40.7,197.8 L40.4,197.2 L40.2,196.5 L40.3,195.5 L40.6,194.9 L41.3,194.5 L42.0,194.3 L42.5,193.8 L42.8,193.2 L43.0,192.5 L43.6,191.9 L44.3,191.7 L45.3,191.8 L46.0,191.9 L46.6,192.3 L47.0,192.8 L47.1,193.8 L47.3,194.6 L48.3,194.8 L49.0,194.9 L49.4,195.5 L49.4,196.5 L49.2,197.2 L49.3,198.1 L49.5,198.8 L49.5,199.8 L49.3,200.8 L49.1,201.5 L48.6,202.1 L48.3,201.5 L48.0,200.8 L47.3,200.2 L46.6,200.1 L46.0,200.3 L45.3,200.7 L45.0,201.5 L45.2,202.5 L45.3,202.9 L44.7,203.5 L44.3,203.8 L43.6,204.4Z" stroke="#2c2c2c" fill="#000" fill-opacity="0.05"/>
<path d="M47.0,203.9 L46.2,203.8 L46.0,203.2 L46.6,203.0 L47.5,203.2 L47.1,203.8Z" stroke="#2c2c2c" fill="#000" fill-opacity="0.05"/>
<path d="M46.0,194.0 L45.0,193.9 L44.0,193.9 L43.5,193.5 L43.6,192.8 L44.3,192.3 L45.3,192.3 L46.0,192.5 L46.4,193.2 L46.2,193.8Z" stroke="#262626" fill="#000" fill-opacity="0.05"/>
<path d="M43.3,203.5 L42.6,203.3 L42.4,202.5 L42.4,201.5 L42.3,200.8 L41.9,200.2 L41.7,199.2 L41.7,198.2 L41.3,197.5 L41.0,197.0 L40.8,196.2 L41.0,195.5 L41.6,195.1 L42.6,194.8 L43.0,194.8 L43.6,195.3 L44.3,195.7 L45.0,196.0 L45.6,195.7 L46.3,195.4 L47.0,195.5 L47.8,195.8 L48.1,196.5 L48.2,197.5 L48.4,198.2 L48.7,198.8 L48.9,199.8 L48.3,200.3 L47.6,199.9 L46.6,199.9 L45.8,200.2 L45.2,200.5 L44.7,201.2 L44.8,202.2 L44.6,202.9 L44.0,203.3 L43.3,203.5Z" stroke="#262626" fill="#000" fill-opacity="0.05"/>
<path d="M44.0,202.9 L43.0,202.9 L42.7,202.2 L42.7,201.2 L42.5,200.5 L42.2,199.8 L42.1,198.8 L42.1,197.8 L41.7,197.2 L41.3,196.5 L41.3,196.1 L41.9,195.5 L42.6,195.4 L43.3,195.7 L44.0,196.0 L44.6,196.5 L45.3,196.6 L46.0,196.2 L46.6,196.1 L47.3,196.4 L47.6,197.0 L47.8,197.8 L47.8,198.8 L47.3,199.4 L46.6,199.7 L46.0,199.9 L45.3,200.2 L44.6,200.8 L44.5,201.5 L44.4,202.5 L44.0,202.9Z" stroke="#222" fill="#000" fill-opacity="0.05"/>
<path d="M43.6,202.6 L43.1,202.2 L43.0,201.2 L42.8,200.5 L42.5,199.8 L42.4,198.8 L42.5,197.8 L42.3,197.2 L42.1,196.2 L43.0,196.1 L43.6,196.3 L44.3,196.8 L44.6,197.2 L45.3,197.0 L46.0,196.6 L47.0,196.7 L47.3,197.2 L47.5,198.2 L47.3,198.8 L46.6,199.5 L46.0,199.8 L45.3,200.0 L44.6,200.4 L44.3,200.8 L44.2,201.8 L43.9,202.5Z" stroke="#1e1e1e" fill="#000" fill-opacity="0.05"/>
<path d="M43.6,201.1 L43.2,200.5 L42.8,199.8 L42.7,198.8 L42.9,197.8 L42.8,196.8 L43.6,196.8 L44.0,197.2 L44.6,197.7 L45.3,197.4 L46.0,197.0 L46.9,197.2 L47.2,197.8 L47.0,198.8 L46.6,199.2 L46.0,199.6 L45.3,199.9 L44.6,200.2 L44.0,200.7Z" stroke="#1a1a1a" fill="#000" fill-opacity="0.05"/>
<path d="M43.6,201.9 L43.6,201.3 L43.6,201.9Z" stroke="#1a1a1a" fill="#000" fill-opacity="0.05"/>
<path d="M44.0,200.2 L43.3,200.0 L43.0,199.2 L43.0,198.8 L43.3,197.9 L43.9,197.8 L44.6,198.0 L45.3,197.7 L46.0,197.3 L46.8,197.5 L47.0,198.2 L46.7,198.8 L46.3,199.2 L45.6,199.6 L44.9,199.8 L44.0,200.2Z" stroke="#161616" fill="#000" fill-opacity="0.05"/>
<path d="M44.3,199.8 L43.6,199.8 L43.2,199.2 L43.4,198.5 L44.3,198.3 L45.0,198.2 L45.6,197.7 L46.3,197.4 L46.7,197.8 L46.6,198.7 L46.1,199.2 L45.4,199.5 L44.6,199.7Z" stroke="#141414" fill="#000" fill-opacity="0.05"/>
<path d="M44.6,199.6 L43.7,199.5 L43.5,198.8 L44.3,198.6 L45.0,198.5 L45.6,198.0 L46.3,197.7 L46.5,198.5 L46.0,199.1 L45.3,199.3 L44.6,199.6Z" stroke="#121212" fill="#000" fill-opacity="0.05"/>
<path d="M45.3,199.2 L44.3,199.3 L44.0,199.0 L44.6,198.8 L45.3,198.5 L46.0,198.0 L46.3,198.5 L46.0,198.9 L45.3,199.2Z" stroke="#101010" fill="#000" fill-opacity="0.05"/>
</g>
<g clip-path="url(#cb01)" fill="none" stroke-width="0.8">
<path d="M121.7,210.6 L120.7,210.7 L119.7,210.7 L118.7,210.7 L117.9,210.5 L117.0,210.2 L116.4,209.8 L115.8,209.5 L115.4,209.1 L114.7,208.5 L114.4,208.1 L114.0,207.5 L113.6,206.8 L113.3,206.2 L113.0,205.4 L112.8,204.5 L112.7,203.8 L112.6,202.8 L112.4,201.8 L112.3,201.2 L112.1,200.2 L112.0,199.5 L111.8,198.5 L111.8,197.5 L111.8,196.5 L111.8,195.5 L112.0,194.5 L112.1,193.8 L112.4,192.9 L112.6,192.2 L112.9,191.5 L113.3,190.8 L113.7,190.3 L114.0,189.8 L114.7,189.2 L115.0,188.8 L115.7,188.2 L115.7,187.6 L115.0,187.2 L114.4,186.9 L113.7,186.5 L113.0,186.2 L112.5,185.8 L112.0,185.5 L111.5,184.8 L111.1,184.2 L111.0,183.5 L111.1,182.8 L111.5,182.2 L112.0,181.6 L112.7,181.2 L113.3,180.8 L114.0,180.5 L114.7,180.3 L115.4,180.1 L116.3,179.8 L117.0,179.7 L118.0,179.5 L118.7,179.4 L119.7,179.4 L120.7,179.4 L121.7,179.4 L122.4,179.5 L123.4,179.7 L124.0,179.8 L125.0,180.1 L125.7,180.3 L126.4,180.5 L127.2,180.8 L128.0,181.2 L128.7,181.4 L129.4,181.7 L130.0,181.9 L131.0,182.1 L131.7,182.2 L132.7,182.3 L133.7,182.3 L134.7,182.4 L135.7,182.4 L136.7,182.3 L137.7,182.2 L138.7,182.3 L139.5,182.5 L140.2,182.8 L140.7,183.2 L141.2,183.8 L141.5,184.5 L141.7,185.5 L141.5,186.5 L141.1,187.2 L140.7,187.8 L140.3,188.2 L139.7,188.7 L139.0,189.1 L138.4,189.4 L137.4,189.5 L136.4,189.3 L135.7,189.1 L134.7,189.1 L133.7,189.1 L132.7,189.0 L132.0,188.8 L131.0,188.6 L130.4,188.4 L129.4,188.4 L128.6,188.5 L128.0,188.8 L128.1,189.5 L128.6,190.2 L129.0,190.6 L129.7,191.0 L130.7,191.1 L131.7,191.0 L132.4,190.8 L133.4,190.6 L134.1,190.5 L135.0,190.4 L136.0,190.2 L136.7,190.0 L137.7,189.9 L138.7,189.9 L139.7,190.0 L140.7,190.1 L141.7,190.2 L142.4,190.2 L143.4,190.4 L144.0,190.6 L144.9,190.8 L145.6,191.2 L146.2,191.5 L146.7,191.9 L147.4,192.5 L147.7,192.9 L148.0,193.5 L148.3,194.5 L148.3,195.5 L148.0,196.5 L147.7,197.2 L147.4,197.6 L146.8,198.2 L146.4,198.5 L145.7,198.9 L145.0,199.2 L144.3,199.5 L143.4,199.8 L142.7,200.0 L142.0,200.2 L141.0,200.4 L140.4,200.5 L139.4,200.7 L138.4,200.8 L137.7,200.9 L136.7,200.9 L135.7,201.0 L134.7,201.1 L133.8,201.2 L133.0,201.3 L132.0,201.4 L131.4,201.6 L130.7,201.8 L130.0,202.2 L129.4,202.7 L128.8,203.2 L128.4,203.7 L128.0,204.2 L127.6,204.8 L127.3,205.5 L127.0,206.2 L126.6,206.8 L126.3,207.5 L125.8,208.2 L125.4,208.7 L124.9,209.2 L124.4,209.5 L123.7,209.9 L123.0,210.2 L122.0,210.5Z" stroke="#666" fill="#000" fill-opacity="0.05"/>
<path d="M120.4,209.8 L119.4,209.8 L118.7,209.8 L117.8,209.5 L117.1,209.2 L116.5,208.8 L116.0,208.5 L115.4,207.8 L115.0,207.4 L114.6,206.8 L114.3,206.2 L114.0,205.4 L113.8,204.5 L113.6,203.8 L113.5,202.8 L113.4,202.0 L113.2,201.2 L113.0,200.2 L112.9,199.5 L112.8,198.5 L112.7,197.8 L112.7,196.8 L112.7,196.2 L112.8,195.2 L113.0,194.2 L113.2,193.5 L113.4,192.8 L113.7,192.1 L114.0,191.5 L114.5,190.8 L115.0,190.2 L115.4,189.8 L116.0,189.2 L116.6,188.8 L117.1,188.5 L117.8,188.2 L118.2,187.5 L117.4,187.2 L116.7,187.0 L116.0,186.8 L115.3,186.5 L114.5,186.2 L114.0,185.8 L113.4,185.4 L112.8,184.8 L112.4,184.2 L112.2,183.5 L112.4,182.8 L112.9,182.2 L113.4,181.7 L114.0,181.3 L114.7,181.0 L115.4,180.7 L116.2,180.5 L117.0,180.3 L117.7,180.2 L118.7,180.0 L119.7,179.9 L120.7,179.9 L121.7,180.0 L122.7,180.1 L123.4,180.3 L124.2,180.5 L125.0,180.8 L125.7,181.1 L126.4,181.4 L127.0,181.8 L127.7,182.1 L128.3,182.5 L128.8,182.8 L129.4,183.2 L130.0,183.6 L130.7,183.9 L131.7,184.1 L132.7,184.1 L133.7,184.1 L134.7,184.1 L135.7,184.0 L136.5,183.8 L137.4,183.7 L138.3,183.8 L139.0,184.1 L139.5,184.5 L139.9,185.2 L139.8,186.2 L139.4,186.7 L138.7,187.1 L138.0,187.4 L137.0,187.4 L136.0,187.2 L135.4,187.1 L134.4,187.1 L133.4,187.1 L132.4,186.9 L131.7,186.6 L131.0,186.4 L130.0,186.3 L129.0,186.5 L128.4,186.6 L127.4,186.7 L126.4,186.8 L125.4,186.8 L124.7,187.0 L124.0,187.2 L123.7,187.8 L124.2,188.2 L124.8,188.5 L125.4,188.9 L126.0,189.3 L126.6,189.8 L127.0,190.2 L127.7,190.8 L128.0,191.2 L128.7,191.8 L129.1,192.2 L129.7,192.5 L130.7,192.7 L131.7,192.5 L132.4,192.4 L133.4,192.2 L134.0,192.1 L135.0,192.0 L136.0,192.0 L137.0,191.9 L138.0,191.9 L139.0,191.9 L140.0,191.9 L140.7,191.8 L141.7,191.8 L142.4,191.9 L143.4,192.0 L144.0,192.2 L144.7,192.5 L145.4,192.9 L146.0,193.5 L146.4,194.1 L146.5,194.8 L146.4,195.6 L146.0,196.3 L145.6,196.8 L145.0,197.3 L144.4,197.7 L143.7,198.0 L143.0,198.2 L142.1,198.5 L141.4,198.7 L140.7,198.8 L139.7,199.1 L139.0,199.3 L138.0,199.4 L137.0,199.5 L136.2,199.5 L135.4,199.6 L134.4,199.6 L133.4,199.7 L132.4,199.7 L131.7,199.8 L130.7,200.2 L130.1,200.5 L129.6,200.8 L129.0,201.4 L128.6,201.8 L128.0,202.5 L127.7,202.9 L127.3,203.5 L126.9,204.2 L126.6,204.8 L126.3,205.5 L126.0,206.2 L125.6,206.8 L125.2,207.5 L124.7,208.1 L124.3,208.5 L123.7,208.9 L123.0,209.3 L122.4,209.5 L121.4,209.8 L120.6,209.8Z" stroke="#5a5a5a" fill="#000" fill-opacity="0.05"/>
<path d="M122.7,186.6 L121.7,186.7 L120.7,186.7 L119.7,186.7 L118.7,186.5 L118.0,186.4 L117.0,186.3 L116.4,186.1 L115.6,185.8 L114.9,185.5 L114.4,185.1 L113.8,184.5 L113.5,183.8 L113.7,182.9 L114.0,182.4 L114.7,181.8 L115.3,181.5 L116.0,181.2 L116.7,181.0 L117.6,180.8 L118.4,180.7 L119.4,180.6 L120.4,180.6 L121.4,180.6 L122.4,180.7 L123.0,180.8 L124.0,181.2 L124.6,181.5 L125.2,181.8 L125.7,182.2 L126.4,182.7 L126.9,183.2 L127.2,183.8 L127.0,184.6 L126.4,185.2 L125.8,185.5 L125.0,185.8 L124.4,186.1 L123.7,186.3 L122.9,186.5Z" stroke="#4e4e4e" fill="#000" fill-opacity="0.05"/>
<path d="M121.4,208.9 L120.4,209.0 L119.4,208.9 L118.7,208.8 L118.0,208.5 L117.4,208.1 L116.7,207.7 L116.1,207.2 L115.7,206.6 L115.4,205.9 L115.0,205.2 L114.7,204.5 L114.5,203.8 L114.4,202.9 L114.3,202.2 L114.2,201.2 L114.0,200.4 L113.8,199.5 L113.7,198.8 L113.6,197.8 L113.5,196.8 L113.6,195.8 L113.8,195.2 L114.0,194.2 L114.2,193.5 L114.5,192.8 L114.8,192.2 L115.2,191.5 L115.6,190.8 L116.0,190.4 L116.7,189.8 L117.3,189.5 L118.0,189.2 L118.7,189.0 L119.4,188.8 L120.4,188.6 L121.4,188.5 L122.4,188.7 L123.0,188.9 L123.8,189.2 L124.5,189.5 L125.0,189.8 L125.7,190.3 L126.4,190.8 L126.7,191.2 L127.4,191.8 L127.7,192.2 L128.2,192.8 L128.7,193.5 L129.0,194.0 L129.4,194.5 L130.0,195.2 L130.7,195.4 L131.4,195.0 L132.0,194.6 L132.7,194.2 L133.4,194.0 L134.4,193.9 L135.4,194.1 L136.0,194.2 L137.0,194.5 L137.6,194.8 L138.4,195.0 L139.0,194.7 L139.7,194.4 L140.7,194.3 L141.7,194.4 L142.4,194.7 L142.6,195.5 L142.0,196.0 L141.4,196.3 L140.4,196.5 L139.7,196.5 L138.7,196.7 L138.0,197.0 L137.3,197.2 L136.4,197.3 L135.4,197.5 L134.7,197.5 L134.0,197.5 L133.0,197.3 L132.3,197.2 L131.4,197.2 L130.7,197.5 L130.3,197.8 L129.7,198.5 L129.4,198.9 L129.0,199.5 L128.6,200.2 L128.1,200.8 L127.7,201.3 L127.3,201.8 L126.8,202.5 L126.4,203.2 L126.1,203.8 L125.8,204.5 L125.5,205.2 L125.2,205.8 L124.9,206.5 L124.4,207.2 L124.0,207.6 L123.4,208.1 L122.7,208.5 L122.0,208.7 L121.4,208.9Z" stroke="#4e4e4e" fill="#000" fill-opacity="0.05"/>
<path d="M122.7,185.9 L121.7,186.1 L120.7,186.1 L119.7,185.9 L119.0,185.7 L118.0,185.7 L117.0,185.6 L116.4,185.4 L115.7,185.0 L115.2,184.5 L114.9,183.8 L115.0,182.8 L115.4,182.4 L116.0,182.0 L116.7,181.8 L117.6,181.5 L118.4,181.4 L119.4,181.4 L120.4,181.4 L121.4,181.3 L122.4,181.4 L123.0,181.6 L123.7,182.0 L124.2,182.5 L124.6,183.2 L124.8,183.8 L124.5,184.5 L124.0,185.0 L123.5,185.5 L122.8,185.8Z" stroke="#444" fill="#000" fill-opacity="0.05"/>
<path d="M122.0,207.9 L121.0,208.0 L120.0,208.0 L119.2,207.8 L118.6,207.5 L118.0,207.2 L117.4,206.8 L116.8,206.2 L116.4,205.5 L116.1,204.8 L115.7,204.2 L115.4,203.5 L115.2,202.8 L115.3,201.8 L115.4,201.2 L115.1,200.5 L114.8,199.8 L114.5,199.2 L114.4,198.5 L114.3,197.5 L114.3,196.5 L114.4,195.8 L114.7,194.8 L114.9,194.2 L115.2,193.5 L115.5,192.8 L115.7,192.2 L116.1,191.5 L116.7,190.8 L117.1,190.5 L117.7,190.1 L118.6,189.8 L119.4,189.6 L120.1,189.5 L121.0,189.4 L122.0,189.4 L122.7,189.5 L123.6,189.8 L124.3,190.2 L124.8,190.5 L125.4,190.9 L126.0,191.5 L126.4,191.8 L127.0,192.5 L127.4,193.1 L127.7,193.7 L128.0,194.4 L128.3,195.2 L128.4,196.2 L128.3,197.2 L128.2,198.2 L128.0,198.8 L127.7,199.6 L127.4,200.2 L126.9,200.8 L126.4,201.5 L126.0,202.1 L125.7,202.8 L125.4,203.5 L125.1,204.2 L124.8,204.8 L124.6,205.5 L124.2,206.2 L123.7,206.8 L123.4,207.2 L122.7,207.7 L122.0,207.9Z" stroke="#444" fill="#000" fill-opacity="0.05"/>
<path d="M123.4,199.8 L123.1,199.5 L123.4,199.8Z" stroke="#444" fill="#000" fill-opacity="0.05"/>
<path d="M122.4,185.2 L121.4,185.5 L120.4,185.3 L119.7,184.9 L119.0,184.6 L118.0,184.8 L117.4,184.8 L116.7,184.5 L116.4,183.9 L116.4,183.4 L116.7,182.8 L117.4,182.4 L118.4,182.3 L119.0,182.7 L119.7,183.2 L120.0,183.1 L120.7,182.8 L121.4,182.4 L122.4,182.3 L122.9,182.8 L123.2,183.5 L123.1,184.5 L122.7,185.0Z" stroke="#3a3a3a" fill="#000" fill-opacity="0.05"/>
<path d="M122.4,206.9 L121.4,207.0 L120.7,206.8 L120.0,206.4 L119.4,205.9 L118.7,205.7 L117.9,205.5 L117.4,204.8 L117.0,204.2 L116.7,203.5 L116.5,202.8 L116.6,201.8 L116.7,201.1 L116.9,200.2 L116.0,199.9 L115.5,199.5 L115.1,198.8 L114.9,198.2 L115.0,197.2 L115.1,196.5 L115.3,195.5 L115.6,194.8 L116.0,194.2 L116.3,193.5 L116.4,192.8 L116.7,191.9 L117.0,191.5 L117.7,190.9 L118.4,190.6 L119.0,190.5 L120.0,190.3 L121.0,190.2 L121.7,190.1 L122.7,190.1 L123.4,190.3 L124.0,190.6 L124.7,191.1 L125.2,191.5 L125.7,192.0 L126.1,192.5 L126.6,193.2 L126.9,193.8 L127.2,194.5 L127.4,195.2 L127.5,196.2 L127.4,196.8 L127.2,197.8 L127.0,198.5 L126.7,199.2 L126.3,199.8 L125.7,200.5 L125.4,201.2 L125.1,201.8 L124.9,202.5 L124.4,203.2 L124.0,203.8 L123.9,204.5 L123.7,205.3 L123.4,206.0 L122.9,206.5 L122.4,206.9Z" stroke="#3a3a3a" fill="#000" fill-opacity="0.05"/>
<path d="M124.1,200.5 L124.4,199.8 L124.2,199.2 L123.7,198.8 L123.0,198.8 L122.6,199.5 L123.0,200.2 L123.5,200.5 L124.1,200.5Z" stroke="#3a3a3a" fill="#000" fill-opacity="0.05"/>
<path d="M122.0,184.5 L121.0,184.6 L121.0,183.8 L121.5,183.5 L122.1,183.5 L122.1,184.5Z" stroke="#333" fill="#000" fill-opacity="0.05"/>
<path d="M121.4,205.2 L120.7,205.1 L120.0,204.7 L119.4,204.4 L118.4,204.3 L117.9,203.8 L117.6,203.2 L117.4,202.2 L117.4,201.7 L117.7,200.9 L118.1,200.5 L118.4,199.8 L118.2,199.2 L117.7,198.7 L117.0,199.0 L116.0,199.0 L115.6,198.5 L115.6,197.5 L115.9,196.8 L116.1,196.2 L116.4,195.5 L117.0,195.0 L118.0,195.2 L118.6,195.5 L119.4,195.6 L120.0,195.2 L120.1,194.5 L119.7,194.1 L119.0,194.2 L118.2,194.5 L117.7,194.5 L117.4,193.8 L117.2,192.8 L117.4,192.2 L118.0,191.5 L118.7,191.2 L119.4,191.0 L120.4,190.9 L121.2,190.8 L122.0,190.7 L123.0,190.7 L123.7,190.9 L124.4,191.4 L124.9,191.8 L125.4,192.4 L125.7,192.9 L126.1,193.5 L126.4,194.2 L126.7,195.0 L126.9,195.8 L126.8,196.8 L126.6,197.5 L126.4,198.2 L125.9,198.8 L125.0,199.1 L124.4,198.7 L123.7,198.4 L122.9,198.5 L122.4,199.1 L122.4,199.7 L122.7,200.3 L123.1,200.8 L123.6,201.5 L123.4,202.5 L123.0,202.9 L122.5,203.5 L122.2,204.2 L121.9,204.8 L121.4,205.2Z" stroke="#333" fill="#000" fill-opacity="0.05"/>
<path d="M121.4,204.0 L120.4,204.1 L119.7,203.8 L118.9,203.5 L118.4,203.1 L118.0,202.4 L118.0,201.5 L118.4,201.0 L118.7,200.5 L118.8,199.5 L118.7,198.8 L118.8,198.2 L119.4,197.6 L119.9,197.2 L120.4,196.7 L120.6,195.8 L120.6,194.8 L120.5,193.8 L120.0,193.4 L119.0,193.4 L118.2,193.2 L118.3,192.2 L118.9,191.8 L119.7,191.6 L120.4,191.5 L121.4,191.4 L122.3,191.2 L123.0,191.1 L123.7,191.4 L124.3,191.8 L124.7,192.3 L125.1,192.8 L125.5,193.5 L125.8,194.2 L126.1,194.8 L126.4,195.5 L126.4,196.5 L126.3,197.2 L126.0,197.8 L125.4,198.4 L124.4,198.3 L123.7,198.1 L122.8,198.2 L122.4,198.6 L122.1,199.5 L122.4,200.2 L122.8,200.8 L123.0,201.8 L122.7,202.6 L122.2,203.2 L121.7,203.7Z" stroke="#2c2c2c" fill="#000" fill-opacity="0.05"/>
<path d="M121.0,203.6 L120.2,203.5 L119.4,203.2 L118.9,202.8 L118.6,202.2 L118.7,201.3 L119.0,200.6 L119.2,199.8 L119.1,198.8 L119.5,198.2 L120.0,197.7 L120.7,197.3 L121.4,196.8 L121.5,196.2 L121.1,195.5 L121.0,194.8 L121.0,193.8 L120.7,192.8 L120.3,192.5 L121.0,192.2 L121.7,192.0 L122.4,191.7 L123.4,191.7 L124.0,192.1 L124.4,192.5 L124.7,193.2 L125.0,194.0 L125.4,194.5 L125.8,195.2 L126.0,196.1 L126.0,196.5 L125.7,197.5 L125.3,197.8 L124.4,197.9 L123.7,197.8 L122.7,197.8 L122.2,198.2 L121.9,198.8 L121.9,199.8 L122.3,200.5 L122.6,201.2 L122.5,202.2 L122.1,202.8 L121.7,203.2 L121.0,203.6Z" stroke="#262626" fill="#000" fill-opacity="0.05"/>
<path d="M125.0,197.6 L124.0,197.6 L123.4,197.4 L122.7,197.1 L122.5,196.2 L122.0,195.6 L121.4,195.2 L121.2,194.5 L121.4,193.6 L121.7,193.0 L122.3,192.5 L123.0,192.2 L123.4,192.2 L124.0,192.8 L123.5,193.5 L123.0,193.9 L122.9,194.8 L123.7,194.9 L124.4,194.6 L125.2,194.8 L125.6,195.5 L125.8,196.2 L125.7,196.8 L125.2,197.5Z" stroke="#222" fill="#000" fill-opacity="0.05"/>
<path d="M121.0,203.2 L120.2,203.2 L119.5,202.8 L119.0,202.2 L119.0,201.5 L119.2,200.8 L119.4,200.2 L119.4,199.2 L119.7,198.5 L120.4,198.0 L121.0,197.7 L121.8,197.8 L121.6,198.5 L121.5,199.5 L121.8,200.2 L122.2,200.8 L122.4,201.5 L122.2,202.2 L121.7,202.8 L121.2,203.2Z" stroke="#222" fill="#000" fill-opacity="0.05"/>
<path d="M122.0,194.9 L121.6,194.5 L121.8,193.8 L122.4,193.8 L122.4,194.5Z" stroke="#1e1e1e" fill="#000" fill-opacity="0.05"/>
<path d="M125.0,197.2 L124.0,197.3 L123.4,197.1 L123.0,196.5 L123.1,195.8 L123.7,195.2 L124.4,195.0 L125.1,195.2 L125.5,195.8 L125.4,196.8 L125.0,197.2Z" stroke="#1e1e1e" fill="#000" fill-opacity="0.05"/>
<path d="M121.0,202.9 L120.1,202.8 L119.6,202.5 L119.3,201.8 L119.4,201.2 L119.7,200.3 L119.8,199.5 L120.0,198.7 L120.7,198.4 L121.1,198.8 L121.3,199.8 L121.7,200.3 L122.0,200.9 L122.1,201.8 L121.7,202.5 L121.2,202.8Z" stroke="#1e1e1e" fill="#000" fill-opacity="0.05"/>
<path d="M125.0,196.9 L124.0,197.1 L123.4,196.6 L123.4,195.9 L123.7,195.5 L124.7,195.3 L125.2,195.8 L125.1,196.8Z" stroke="#1a1a1a" fill="#000" fill-opacity="0.05"/>
<path d="M121.4,202.5 L120.4,202.7 L119.7,202.2 L119.6,201.5 L119.8,200.8 L120.0,200.1 L120.7,199.6 L121.3,200.2 L121.7,200.6 L122.0,201.5 L121.7,202.2Z" stroke="#1a1a1a" fill="#000" fill-opacity="0.05"/>
<path d="M124.4,196.9 L123.7,196.6 L123.7,195.8 L124.1,195.5 L124.7,195.5 L125.0,196.5 L124.4,196.9Z" stroke="#161616" fill="#000" fill-opacity="0.05"/>
<path d="M121.4,202.2 L120.4,202.4 L119.9,201.8 L120.0,200.8 L120.4,200.2 L120.9,200.2 L121.4,200.5 L121.8,201.2 L121.7,201.8Z" stroke="#161616" fill="#000" fill-opacity="0.05"/>
<path d="M124.4,196.7 L123.8,196.2 L124.4,195.7 L124.8,196.2 L124.4,196.7Z" stroke="#141414" fill="#000" fill-opacity="0.05"/>
<path d="M121.0,202.2 L120.4,202.2 L120.0,201.5 L120.2,200.8 L120.7,200.4 L121.4,200.7 L121.6,201.5 L121.1,202.2Z" stroke="#141414" fill="#000" fill-opacity="0.05"/>
<path d="M121.0,202.0 L120.3,201.8 L120.4,200.9 L121.0,200.7 L121.4,201.2 L121.3,201.8Z" stroke="#121212" fill="#000" fill-opacity="0.05"/>
<path d="M121.0,201.8 L120.4,201.5 L121.0,200.9 L121.0,201.8Z" stroke="#101010" fill="#000" fill-opacity="0.05"/>
</g>
<g clip-path="url(#cb10)" fill="none" stroke-width="0.8">
<path d="M41.6,266.3 L41.0,266.0 L40.0,265.8 L39.3,265.7 L38.3,265.5 L37.6,265.3 L37.0,265.1 L36.3,264.8 L35.6,264.4 L35.1,263.8 L35.3,262.8 L35.6,262.4 L36.3,261.9 L37.0,261.6 L37.7,261.4 L38.6,261.2 L39.4,261.1 L40.3,261.0 L41.3,260.9 L42.3,260.9 L43.3,261.0 L44.1,261.1 L45.0,261.3 L45.6,261.5 L46.3,261.8 L47.0,262.3 L47.3,262.8 L47.3,263.8 L47.0,264.2 L46.3,264.6 L45.6,265.0 L45.0,265.2 L44.3,265.4 L43.3,265.7 L42.6,266.0 L41.9,266.1Z" stroke="#666" fill="#000" fill-opacity="0.05"/>
<path d="M43.3,288.1 L42.3,288.1 L41.6,288.0 L40.6,287.8 L40.0,287.6 L39.3,287.4 L38.6,287.0 L38.0,286.6 L37.3,286.1 L37.0,285.7 L36.4,285.1 L36.0,284.6 L35.6,284.1 L35.2,283.4 L34.9,282.8 L34.6,282.1 L34.3,281.2 L34.0,280.4 L33.9,279.8 L33.7,278.8 L33.5,278.1 L33.4,277.1 L33.4,276.1 L33.5,275.1 L33.6,274.3 L33.9,273.4 L34.1,272.8 L34.4,272.1 L34.8,271.4 L35.2,270.8 L35.6,270.1 L36.0,269.7 L36.6,269.1 L37.0,268.7 L37.6,268.2 L38.3,267.8 L38.9,267.4 L39.6,267.1 L40.3,266.8 L41.0,266.5 L41.8,266.4 L42.3,266.4 L43.3,266.6 L44.0,266.8 L44.9,267.1 L45.6,267.3 L46.3,267.6 L47.0,267.9 L47.6,268.3 L48.2,268.8 L48.6,269.1 L49.2,269.8 L49.6,270.3 L50.0,270.8 L50.4,271.4 L50.7,272.1 L51.0,272.8 L51.3,273.5 L51.6,274.4 L51.7,275.1 L51.8,276.1 L51.9,277.1 L51.8,278.1 L51.7,279.1 L51.5,279.8 L51.3,280.6 L51.1,281.4 L50.8,282.1 L50.5,282.8 L50.2,283.4 L49.8,284.1 L49.4,284.8 L49.0,285.2 L48.5,285.8 L48.0,286.2 L47.3,286.7 L46.7,287.1 L46.0,287.4 L45.3,287.7 L44.6,287.9 L43.6,288.1Z" stroke="#666" fill="#000" fill-opacity="0.05"/>
<path d="M44.6,286.8 L43.6,287.0 L42.6,287.0 L41.6,286.9 L40.8,286.8 L40.0,286.5 L39.3,286.2 L38.6,285.8 L38.1,285.4 L37.6,285.0 L37.1,284.4 L36.6,283.9 L36.3,283.3 L36.0,282.8 L35.6,282.1 L35.3,281.3 L35.0,280.4 L34.9,279.8 L34.6,278.8 L34.5,278.1 L34.3,277.1 L34.3,276.4 L34.3,275.6 L34.4,274.8 L34.6,273.9 L34.9,273.1 L35.2,272.4 L35.6,271.8 L36.0,271.2 L36.3,270.8 L36.9,270.1 L37.3,269.7 L38.0,269.1 L38.5,268.8 L39.2,268.4 L40.0,268.1 L40.6,267.9 L41.3,267.7 L42.3,267.7 L43.0,267.8 L44.0,267.9 L44.6,268.1 L45.5,268.4 L46.2,268.8 L46.8,269.1 L47.4,269.4 L48.0,269.9 L48.5,270.4 L49.0,271.0 L49.3,271.5 L49.7,272.1 L50.1,272.8 L50.4,273.4 L50.6,274.2 L50.9,275.1 L51.0,276.1 L51.0,276.8 L51.0,277.5 L50.9,278.4 L50.7,279.4 L50.5,280.1 L50.3,280.9 L50.0,281.8 L49.7,282.4 L49.3,283.1 L49.0,283.6 L48.6,284.1 L48.1,284.8 L47.6,285.2 L47.0,285.8 L46.4,286.1 L45.8,286.4 L45.0,286.7Z" stroke="#5a5a5a" fill="#000" fill-opacity="0.05"/>
<path d="M44.0,285.9 L43.0,286.0 L42.0,285.9 L41.0,285.8 L40.3,285.6 L39.6,285.3 L39.0,284.8 L38.5,284.4 L38.0,283.9 L37.6,283.4 L37.1,282.8 L36.7,282.1 L36.4,281.4 L36.2,280.8 L36.0,280.0 L35.7,279.1 L35.5,278.4 L35.3,277.5 L35.2,276.8 L35.2,275.8 L35.3,274.8 L35.5,274.1 L35.7,273.4 L36.0,272.8 L36.4,272.1 L36.8,271.4 L37.3,270.9 L37.7,270.4 L38.3,269.9 L39.0,269.5 L39.6,269.2 L40.3,269.0 L41.3,268.8 L42.3,268.8 L43.3,268.9 L44.0,269.1 L44.9,269.4 L45.6,269.7 L46.3,270.0 L46.8,270.4 L47.3,270.8 L47.9,271.4 L48.3,271.8 L48.7,272.4 L49.1,273.1 L49.5,273.8 L49.8,274.4 L50.0,275.1 L50.1,276.1 L50.1,277.1 L50.0,278.1 L49.9,278.8 L49.6,279.8 L49.5,280.4 L49.3,281.1 L49.0,281.8 L48.6,282.4 L48.1,283.1 L47.6,283.7 L47.3,284.1 L46.6,284.7 L46.0,285.1 L45.3,285.4 L44.6,285.6 L44.0,285.9Z" stroke="#4e4e4e" fill="#000" fill-opacity="0.05"/>
<path d="M44.0,284.8 L43.0,285.0 L42.0,285.0 L41.0,284.8 L40.3,284.5 L39.8,284.1 L39.3,283.5 L38.9,283.1 L38.3,282.5 L38.0,282.1 L37.5,281.4 L37.2,280.8 L36.9,280.1 L36.6,279.4 L36.3,278.4 L36.1,277.8 L36.0,276.8 L36.0,275.8 L36.1,274.8 L36.3,274.1 L36.6,273.3 L37.0,272.6 L37.3,272.0 L37.7,271.4 L38.3,270.8 L38.8,270.4 L39.6,270.1 L40.3,269.9 L41.3,269.8 L42.3,270.0 L43.0,270.4 L43.6,270.5 L44.6,270.6 L45.3,270.8 L46.0,271.1 L46.6,271.5 L47.3,272.0 L47.7,272.4 L48.1,273.1 L48.4,273.8 L48.8,274.4 L49.1,275.1 L49.3,276.1 L49.2,277.1 L49.2,278.1 L49.0,279.1 L48.8,279.8 L48.6,280.4 L48.3,281.2 L48.0,281.8 L47.3,282.4 L46.8,282.8 L46.3,283.4 L46.0,283.8 L45.3,284.3 L44.6,284.5 L44.0,284.8Z" stroke="#444" fill="#000" fill-opacity="0.05"/>
<path d="M43.3,284.1 L42.6,284.1 L41.7,283.8 L41.2,283.4 L40.6,283.0 L40.0,282.5 L39.4,282.1 L39.0,281.7 L38.3,281.1 L38.0,280.6 L37.6,280.1 L37.3,279.4 L37.0,278.4 L36.9,277.8 L36.9,276.8 L36.8,275.8 L36.8,274.8 L37.0,274.1 L37.3,273.3 L37.6,272.6 L38.0,272.1 L38.5,271.4 L39.0,271.0 L39.7,270.8 L40.6,270.6 L41.4,270.8 L42.0,271.1 L42.6,271.6 L43.6,271.5 L44.6,271.6 L45.3,271.9 L46.0,272.2 L46.6,272.5 L47.2,273.1 L47.6,273.8 L47.9,274.4 L48.3,275.1 L48.5,275.8 L48.3,276.8 L48.0,277.2 L47.3,277.8 L47.6,278.5 L48.0,279.2 L47.9,279.8 L47.6,280.6 L47.3,281.1 L46.6,281.5 L46.0,282.1 L45.6,282.7 L45.3,283.2 L44.6,283.6 L44.0,283.9 L43.3,284.1Z" stroke="#3a3a3a" fill="#000" fill-opacity="0.05"/>
<path d="M44.0,283.2 L43.0,283.4 L42.3,283.1 L41.6,282.6 L41.0,282.1 L40.3,281.8 L39.8,281.4 L39.3,281.1 L38.6,280.5 L38.3,280.1 L37.9,279.4 L37.6,278.4 L37.6,277.8 L37.5,276.8 L37.4,275.8 L37.3,274.8 L37.6,273.8 L38.0,273.1 L38.3,272.5 L38.6,272.0 L39.3,271.5 L40.0,271.3 L41.0,271.4 L41.6,271.8 L42.2,272.1 L43.0,272.2 L44.0,272.2 L44.7,272.4 L45.3,272.9 L46.0,273.3 L46.6,273.6 L47.0,274.1 L47.4,274.8 L47.7,275.4 L47.6,276.2 L47.0,276.6 L46.0,276.6 L45.2,276.8 L45.1,277.8 L44.8,278.4 L44.2,278.8 L43.6,279.2 L43.4,280.1 L43.6,280.9 L44.3,281.2 L44.8,280.8 L45.1,280.1 L45.6,279.7 L46.1,280.1 L46.0,280.8 L45.5,281.4 L45.1,282.1 L44.7,282.8 L44.2,283.1Z" stroke="#333" fill="#000" fill-opacity="0.05"/>
<path d="M43.3,282.5 L42.4,282.4 L41.9,282.1 L41.3,281.7 L40.6,281.2 L40.0,280.8 L39.4,280.4 L39.0,280.0 L38.6,279.4 L38.3,278.6 L38.2,277.8 L38.0,276.8 L37.9,276.1 L37.7,275.1 L37.9,274.1 L38.3,273.5 L38.6,273.0 L39.1,272.4 L39.6,272.0 L40.6,272.0 L41.3,272.3 L42.0,272.6 L43.0,272.7 L43.6,272.8 L44.6,273.1 L45.0,273.4 L45.6,274.0 L46.3,274.3 L46.8,274.8 L47.1,275.4 L46.6,275.9 L45.6,275.9 L45.0,276.1 L44.6,276.8 L44.3,277.7 L44.0,278.1 L43.3,278.8 L43.0,279.1 L42.8,280.1 L43.0,280.8 L43.3,281.4 L43.5,282.4Z" stroke="#2c2c2c" fill="#000" fill-opacity="0.05"/>
<path d="M42.3,278.9 L41.3,279.0 L40.6,278.6 L40.0,278.3 L39.3,278.1 L38.7,277.4 L38.5,276.8 L38.3,275.9 L38.2,275.1 L38.3,274.4 L39.0,273.8 L40.0,273.9 L40.7,273.8 L41.3,273.3 L42.3,273.3 L43.3,273.3 L44.0,273.4 L44.6,273.8 L45.2,274.4 L45.4,275.1 L45.0,275.4 L44.5,276.1 L44.2,276.8 L43.9,277.4 L43.4,278.1 L43.0,278.5 L42.3,278.9Z" stroke="#262626" fill="#000" fill-opacity="0.05"/>
<path d="M42.3,281.1 L41.6,281.0 L41.2,280.4 L42.0,280.2 L42.3,280.8Z" stroke="#262626" fill="#000" fill-opacity="0.05"/>
<path d="M42.0,278.5 L41.3,278.4 L40.6,278.0 L40.0,277.7 L39.3,277.3 L39.0,276.8 L38.7,275.8 L38.6,275.3 L39.0,274.7 L40.0,274.7 L40.9,274.4 L41.5,274.1 L42.3,273.9 L43.3,273.8 L44.3,274.0 L44.7,274.4 L44.6,275.2 L44.3,275.8 L44.0,276.5 L43.6,277.3 L43.3,277.8 L42.6,278.3 L42.0,278.5Z" stroke="#222" fill="#000" fill-opacity="0.05"/>
<path d="M42.0,278.1 L41.3,278.0 L40.6,277.6 L40.0,277.1 L39.6,276.8 L39.3,275.8 L40.0,275.3 L40.6,275.0 L41.3,274.7 L42.0,274.4 L43.0,274.3 L44.0,274.4 L44.2,275.1 L43.9,275.8 L43.6,276.6 L43.3,277.3 L42.9,277.8 L42.2,278.1Z" stroke="#1e1e1e" fill="#000" fill-opacity="0.05"/>
<path d="M42.3,277.8 L41.5,277.8 L40.9,277.4 L40.3,276.8 L40.0,276.1 L40.6,275.5 L41.2,275.1 L42.0,274.8 L42.6,274.7 L43.5,274.8 L43.7,275.4 L43.5,276.1 L43.3,276.8 L42.9,277.4 L42.3,277.8Z" stroke="#1a1a1a" fill="#000" fill-opacity="0.05"/>
<path d="M42.3,277.5 L41.4,277.4 L41.0,277.1 L40.6,276.4 L40.8,275.8 L41.3,275.4 L42.0,275.1 L43.0,275.1 L43.3,275.4 L43.3,276.1 L43.0,276.9 L42.4,277.4Z" stroke="#161616" fill="#000" fill-opacity="0.05"/>
<path d="M42.3,277.3 L41.3,277.1 L41.0,276.6 L41.0,276.1 L41.6,275.4 L42.3,275.3 L43.0,275.6 L43.0,276.4 L42.6,277.0Z" stroke="#141414" fill="#000" fill-opacity="0.05"/>
<path d="M42.0,277.1 L41.3,276.8 L41.3,276.1 L41.6,275.7 L42.6,275.7 L42.8,276.4 L42.3,277.0Z" stroke="#121212" fill="#000" fill-opacity="0.05"/>
<path d="M42.3,276.8 L41.6,276.8 L41.6,276.0 L42.6,276.1 L42.3,276.8Z" stroke="#101010" fill="#000" fill-opacity="0.05"/>
</g>
<g clip-path="url(#cb11)" fill="none" stroke-width="0.8">
<path d="M118.0,289.1 L117.0,289.1 L116.4,289.1 L115.4,288.8 L114.7,288.6 L114.0,288.2 L113.4,287.8 L112.8,287.4 L112.4,287.1 L111.7,286.5 L111.3,286.1 L110.7,285.4 L110.4,284.9 L110.0,284.4 L109.7,283.7 L109.6,282.8 L109.5,281.8 L109.5,280.8 L109.5,279.8 L109.5,278.8 L109.5,277.8 L109.5,276.8 L109.5,275.8 L109.6,274.8 L109.7,273.8 L110.0,273.1 L110.4,272.4 L110.7,271.8 L111.0,271.3 L111.5,270.8 L112.0,270.2 L112.5,269.8 L113.0,269.4 L113.7,268.9 L114.4,268.5 L114.8,268.1 L114.4,267.7 L113.7,267.4 L113.0,267.0 L112.4,266.7 L111.7,266.3 L111.1,265.8 L110.7,265.3 L110.4,264.7 L110.2,263.8 L110.4,263.0 L110.7,262.4 L111.4,261.8 L111.9,261.4 L112.5,261.1 L113.3,260.8 L114.0,260.5 L114.7,260.3 L115.7,260.1 L116.4,260.0 L117.4,259.9 L118.4,259.9 L119.4,259.9 L120.4,260.0 L121.1,260.1 L122.0,260.2 L122.7,260.4 L123.7,260.7 L124.4,261.0 L125.0,261.3 L125.7,261.7 L126.2,262.1 L126.7,262.5 L127.1,263.1 L127.3,264.1 L127.0,265.0 L126.7,265.5 L126.2,266.1 L125.7,266.4 L125.0,266.8 L124.4,267.2 L123.7,267.4 L122.7,267.8 L122.0,268.1 L121.7,268.4 L122.0,268.8 L122.7,269.3 L123.3,269.8 L123.7,270.1 L124.4,270.8 L124.7,271.1 L125.2,271.8 L125.7,272.3 L126.1,272.8 L126.7,273.4 L127.1,273.8 L127.8,274.1 L128.7,274.2 L129.7,274.1 L130.4,274.1 L131.4,274.0 L132.4,273.9 L133.4,273.8 L134.0,273.7 L135.0,273.6 L136.0,273.5 L137.0,273.5 L138.0,273.5 L139.0,273.4 L139.7,273.4 L140.7,273.3 L141.7,273.3 L142.7,273.4 L143.4,273.5 L144.0,273.8 L144.7,274.1 L145.4,274.6 L145.8,275.1 L146.1,275.8 L146.4,276.5 L146.4,277.4 L146.3,278.1 L146.0,278.8 L145.6,279.4 L145.0,279.9 L144.4,280.4 L143.7,280.7 L143.0,280.9 L142.4,281.1 L141.4,281.4 L140.7,281.6 L140.0,281.8 L139.0,282.0 L138.4,282.1 L137.4,282.3 L136.4,282.3 L135.6,282.4 L134.7,282.6 L133.7,282.7 L133.0,282.9 L132.0,283.0 L131.4,283.1 L130.4,283.2 L129.4,283.3 L128.4,283.4 L127.7,283.5 L127.0,283.8 L126.4,284.2 L125.8,284.8 L125.4,285.2 L124.9,285.8 L124.4,286.3 L123.8,286.8 L123.4,287.1 L122.7,287.6 L122.0,288.0 L121.4,288.3 L120.7,288.5 L120.0,288.8 L119.0,289.0 L118.3,289.1Z" stroke="#666" fill="#000" fill-opacity="0.05"/>
<path d="M121.0,267.4 L120.0,267.6 L119.0,267.7 L118.0,267.7 L117.0,267.5 L116.4,267.4 L115.4,267.2 L114.7,267.0 L114.0,266.7 L113.3,266.4 L112.7,266.1 L112.0,265.5 L111.6,265.1 L111.3,264.4 L111.3,263.4 L111.6,262.8 L112.0,262.2 L112.7,261.8 L113.3,261.4 L114.0,261.1 L114.7,260.9 L115.4,260.8 L116.4,260.6 L117.4,260.5 L118.4,260.4 L119.4,260.4 L120.4,260.5 L121.4,260.7 L122.0,260.8 L122.7,261.1 L123.6,261.4 L124.2,261.8 L124.7,262.1 L125.4,262.6 L125.8,263.1 L126.0,263.8 L126.0,264.4 L125.7,265.2 L125.2,265.8 L124.7,266.1 L124.0,266.5 L123.4,266.8 L122.5,267.1 L121.7,267.3 L121.0,267.4Z" stroke="#5a5a5a" fill="#000" fill-opacity="0.05"/>
<path d="M118.4,288.1 L117.4,288.2 L116.4,288.1 L115.7,287.9 L115.0,287.7 L114.4,287.3 L113.7,286.9 L113.1,286.4 L112.7,286.1 L112.0,285.5 L111.6,285.1 L111.1,284.4 L110.7,283.8 L110.4,283.1 L110.1,282.4 L109.8,281.8 L109.7,281.1 L109.6,280.1 L109.6,279.1 L109.6,278.1 L109.7,277.1 L109.8,276.4 L110.0,275.6 L110.3,274.8 L110.6,274.1 L110.9,273.4 L111.2,272.8 L111.6,272.1 L112.0,271.5 L112.4,271.1 L113.0,270.5 L113.7,270.1 L114.3,269.8 L115.0,269.4 L115.7,269.2 L116.4,269.0 L117.4,268.9 L118.4,268.9 L119.4,269.0 L120.0,269.2 L120.8,269.4 L121.5,269.8 L122.1,270.1 L122.7,270.5 L123.3,271.1 L123.7,271.5 L124.2,272.1 L124.7,272.6 L125.1,273.1 L125.6,273.8 L126.0,274.3 L126.5,274.8 L127.0,275.2 L127.7,275.5 L128.7,275.6 L129.7,275.5 L130.7,275.4 L131.4,275.4 L132.4,275.3 L133.4,275.2 L134.4,275.1 L135.1,275.1 L136.0,275.0 L137.0,275.0 L138.0,275.0 L139.0,275.0 L140.0,274.9 L141.0,274.9 L142.0,275.0 L142.7,275.2 L143.4,275.5 L144.0,276.1 L144.3,276.8 L144.1,277.8 L143.7,278.3 L143.2,278.8 L142.6,279.1 L141.9,279.4 L141.1,279.8 L140.4,280.1 L139.7,280.3 L139.0,280.5 L138.0,280.7 L137.4,280.8 L136.4,280.9 L135.4,281.0 L134.4,281.1 L133.7,281.2 L132.7,281.4 L132.0,281.5 L131.0,281.6 L130.0,281.7 L129.3,281.8 L128.4,281.9 L127.7,282.1 L127.0,282.4 L126.4,282.8 L125.7,283.4 L125.4,283.8 L124.8,284.4 L124.4,284.9 L123.9,285.4 L123.4,286.0 L122.8,286.4 L122.3,286.8 L121.7,287.1 L121.0,287.4 L120.1,287.8 L119.4,288.0 L118.7,288.1Z" stroke="#5a5a5a" fill="#000" fill-opacity="0.05"/>
<path d="M120.4,266.8 L119.4,266.9 L118.4,266.9 L117.4,266.8 L116.7,266.7 L115.7,266.5 L115.0,266.3 L114.4,266.1 L113.7,265.8 L113.0,265.3 L112.6,264.8 L112.3,264.1 L112.4,263.4 L112.8,262.8 L113.4,262.3 L114.0,261.9 L114.7,261.6 L115.4,261.4 L116.4,261.2 L117.3,261.1 L118.0,261.0 L119.0,261.0 L119.9,261.1 L120.7,261.2 L121.6,261.4 L122.4,261.7 L123.0,262.1 L123.6,262.4 L124.0,262.8 L124.5,263.4 L124.7,264.1 L124.6,264.8 L124.0,265.4 L123.6,265.8 L122.9,266.1 L122.0,266.4 L121.4,266.6 L120.6,266.8Z" stroke="#4e4e4e" fill="#000" fill-opacity="0.05"/>
<path d="M118.7,287.1 L117.7,287.2 L116.7,287.2 L116.0,287.1 L115.2,286.8 L114.6,286.4 L114.0,286.0 L113.4,285.5 L112.9,285.1 L112.4,284.6 L111.9,284.1 L111.4,283.4 L111.1,282.8 L110.8,282.1 L110.6,281.4 L110.4,280.6 L110.2,279.8 L110.2,278.8 L110.4,277.8 L110.5,277.1 L110.7,276.4 L111.0,275.4 L111.3,274.8 L111.5,274.1 L111.8,273.4 L112.2,272.8 L112.7,272.1 L113.0,271.7 L113.7,271.1 L114.4,270.8 L115.0,270.5 L115.7,270.2 L116.4,270.0 L117.4,269.9 L118.4,269.9 L119.4,270.0 L120.0,270.2 L120.7,270.4 L121.4,270.8 L122.0,271.2 L122.6,271.8 L123.0,272.2 L123.5,272.8 L124.0,273.4 L124.4,273.8 L124.9,274.4 L125.4,275.1 L125.7,275.6 L126.1,276.1 L126.6,276.8 L127.0,277.1 L127.7,277.6 L128.4,277.9 L129.0,278.1 L130.0,278.2 L130.7,278.0 L131.4,277.7 L132.4,277.7 L132.8,278.1 L132.4,278.6 L131.7,278.8 L130.7,278.9 L129.7,278.9 L129.0,279.3 L128.4,279.7 L127.9,280.1 L127.4,280.4 L126.7,281.0 L126.2,281.4 L125.7,281.9 L125.3,282.4 L124.7,283.1 L124.4,283.6 L124.0,284.1 L123.4,284.8 L123.0,285.1 L122.4,285.6 L121.7,286.1 L121.0,286.4 L120.4,286.7 L119.7,286.9 L118.9,287.1Z" stroke="#4e4e4e" fill="#000" fill-opacity="0.05"/>
<path d="M136.4,278.2 L135.4,278.2 L134.9,277.8 L135.7,277.7 L136.4,277.9Z" stroke="#4e4e4e" fill="#000" fill-opacity="0.05"/>
<path d="M119.7,266.1 L118.7,266.1 L118.0,266.1 L117.0,266.0 L116.0,265.8 L115.4,265.6 L114.7,265.3 L114.0,264.9 L113.6,264.4 L113.7,263.4 L114.0,263.0 L114.7,262.6 L115.4,262.3 L116.0,262.1 L117.0,261.8 L117.7,261.7 L118.7,261.7 L119.7,261.7 L120.4,261.9 L121.2,262.1 L122.0,262.4 L122.5,262.8 L123.0,263.4 L123.2,264.1 L123.0,264.8 L122.4,265.3 L121.7,265.6 L121.0,265.8 L120.0,266.0Z" stroke="#444" fill="#000" fill-opacity="0.05"/>
<path d="M119.4,286.1 L118.4,286.3 L117.4,286.4 L116.4,286.3 L115.6,286.1 L115.0,285.8 L114.4,285.3 L113.7,284.8 L113.3,284.4 L112.7,283.9 L112.2,283.4 L111.8,282.8 L111.6,282.1 L111.4,281.4 L111.1,280.4 L110.9,279.8 L110.9,278.8 L111.0,277.9 L111.3,277.1 L111.5,276.4 L111.7,275.8 L112.0,274.8 L112.2,274.1 L112.6,273.4 L113.0,272.8 L113.4,272.4 L114.0,271.9 L114.7,271.5 L115.4,271.2 L116.0,271.0 L116.9,270.8 L117.7,270.7 L118.5,270.8 L119.4,270.9 L120.0,271.1 L120.7,271.4 L121.4,271.9 L122.0,272.4 L122.4,272.8 L122.9,273.4 L123.4,273.9 L123.9,274.4 L124.4,275.0 L124.7,275.6 L125.0,276.2 L125.4,277.0 L125.7,277.8 L125.9,278.4 L126.1,279.1 L126.0,279.8 L125.7,280.4 L125.2,281.1 L124.8,281.8 L124.4,282.3 L124.0,282.8 L123.6,283.4 L123.0,284.1 L122.7,284.4 L122.0,284.9 L121.4,285.3 L120.7,285.6 L120.0,285.9 L119.4,286.1Z" stroke="#444" fill="#000" fill-opacity="0.05"/>
<path d="M119.0,265.1 L118.4,265.1 L117.4,264.9 L116.4,264.8 L115.7,264.6 L115.1,264.1 L115.5,263.4 L116.3,263.1 L117.0,262.9 L118.0,262.8 L119.0,262.8 L120.0,263.1 L120.6,263.4 L120.9,264.1 L120.4,264.7 L119.7,265.0 L119.0,265.1Z" stroke="#3a3a3a" fill="#000" fill-opacity="0.05"/>
<path d="M118.4,285.4 L117.4,285.5 L116.4,285.6 L115.7,285.4 L115.0,285.0 L114.4,284.4 L114.0,284.1 L113.4,283.6 L112.8,283.1 L112.4,282.4 L112.1,281.8 L111.9,281.1 L111.7,280.1 L111.6,279.4 L111.6,278.4 L111.8,277.8 L112.0,277.0 L112.3,276.1 L112.5,275.4 L112.7,274.6 L113.0,273.9 L113.4,273.4 L114.0,272.9 L114.7,272.4 L115.3,272.1 L116.0,271.8 L116.7,271.5 L117.4,271.4 L118.0,271.5 L119.0,271.7 L119.7,271.9 L120.4,272.3 L121.0,272.7 L121.5,273.1 L122.0,273.6 L122.4,274.1 L123.0,274.6 L123.6,275.1 L124.0,275.7 L124.4,276.3 L124.6,277.1 L124.8,277.8 L125.0,278.8 L124.9,279.8 L124.6,280.4 L124.3,281.1 L124.0,281.8 L123.6,282.4 L123.1,283.1 L122.7,283.5 L122.1,284.1 L121.6,284.4 L120.9,284.8 L120.0,285.0 L119.4,285.2 L118.4,285.4Z" stroke="#3a3a3a" fill="#000" fill-opacity="0.05"/>
<path d="M122.3,278.4 L121.7,277.9 L121.7,278.5Z" stroke="#3a3a3a" fill="#000" fill-opacity="0.05"/>
<path d="M116.7,284.8 L115.8,284.8 L115.2,284.4 L114.7,284.0 L114.1,283.4 L113.7,283.1 L113.1,282.4 L112.7,281.8 L112.5,281.1 L112.4,280.1 L112.4,279.1 L112.6,278.1 L112.7,277.3 L112.9,276.4 L113.0,275.4 L113.2,274.8 L113.6,274.1 L114.0,273.6 L114.7,273.2 L115.4,272.8 L116.0,272.4 L116.7,272.2 L117.7,272.1 L118.7,272.4 L119.4,272.7 L120.0,273.1 L120.7,273.4 L121.2,273.8 L121.7,274.2 L122.2,274.8 L122.7,275.1 L123.4,275.7 L123.7,276.1 L124.0,277.1 L124.1,277.8 L123.9,278.4 L123.9,279.4 L123.9,280.4 L123.7,281.1 L123.4,281.9 L123.0,282.5 L122.5,283.1 L122.0,283.5 L121.4,283.9 L120.4,284.1 L119.7,284.1 L118.7,284.4 L117.7,284.3 L117.0,284.7Z" stroke="#333" fill="#000" fill-opacity="0.05"/>
<path d="M123.3,278.8 L122.8,278.1 L122.4,277.7 L121.4,277.6 L121.2,278.4 L121.7,278.9 L122.7,279.1Z" stroke="#333" fill="#000" fill-opacity="0.05"/>
<path d="M116.4,284.1 L115.7,284.1 L115.0,283.6 L114.6,283.1 L114.0,282.5 L113.6,282.1 L113.2,281.4 L113.1,280.4 L113.6,279.8 L113.9,279.1 L113.7,278.2 L113.4,277.4 L113.4,276.4 L113.6,275.4 L113.8,274.8 L114.3,274.1 L114.8,273.8 L115.4,273.4 L116.0,273.0 L116.8,272.8 L117.7,272.7 L118.4,272.9 L119.0,273.2 L119.7,273.6 L120.4,273.9 L121.0,274.3 L121.6,274.8 L122.0,275.2 L122.7,275.7 L123.1,276.1 L123.4,276.8 L123.4,277.4 L122.6,277.4 L121.7,277.1 L121.0,277.5 L120.9,278.4 L121.4,278.9 L122.0,279.2 L122.7,279.5 L123.2,280.1 L123.2,281.1 L123.0,281.8 L122.6,282.4 L122.0,283.0 L121.4,283.3 L120.4,283.2 L119.9,282.8 L119.4,282.1 L119.2,282.4 L118.7,283.0 L118.0,283.1 L117.1,283.4 L116.7,283.9Z" stroke="#2c2c2c" fill="#000" fill-opacity="0.05"/>
<path d="M115.1,281.4 L115.4,280.8 L115.2,280.1 L114.7,279.7 L114.1,280.1 L114.4,280.9 L115.0,281.4Z" stroke="#2c2c2c" fill="#000" fill-opacity="0.05"/>
<path d="M121.4,282.9 L120.7,282.8 L120.1,282.1 L119.8,281.4 L119.4,280.8 L119.0,280.4 L118.2,280.4 L118.4,281.3 L118.4,282.1 L118.0,282.4 L117.0,282.5 L116.2,282.4 L116.0,281.4 L115.8,280.8 L115.6,280.1 L115.7,279.1 L116.4,278.8 L116.4,278.4 L115.8,278.8 L115.0,278.9 L114.4,278.4 L114.1,277.8 L113.9,277.1 L114.0,276.1 L114.2,275.4 L114.5,274.8 L115.0,274.2 L115.7,273.8 L116.4,273.4 L117.0,273.3 L118.0,273.4 L118.7,273.6 L119.4,274.0 L120.0,274.3 L120.7,274.7 L121.2,275.1 L121.7,275.7 L122.0,276.4 L121.3,276.8 L120.7,277.4 L120.5,278.1 L120.8,278.8 L121.4,279.2 L122.0,279.5 L122.7,280.1 L122.9,280.8 L122.7,281.6 L122.4,282.2 L121.7,282.7Z" stroke="#262626" fill="#000" fill-opacity="0.05"/>
<path d="M116.0,283.1 L115.6,282.8 L116.2,282.8Z" stroke="#262626" fill="#000" fill-opacity="0.05"/>
<path d="M121.4,282.5 L120.7,282.3 L120.3,281.8 L119.9,281.1 L119.4,280.4 L119.0,280.0 L118.4,279.5 L117.7,280.1 L117.8,281.1 L117.7,281.8 L117.0,281.8 L116.4,281.2 L116.0,280.6 L116.0,279.8 L116.4,279.4 L117.4,279.1 L117.4,278.4 L117.0,278.1 L116.0,277.9 L115.4,278.2 L114.7,278.1 L114.4,277.3 L114.4,276.4 L114.6,275.8 L114.9,275.1 L115.4,274.5 L115.9,274.1 L116.6,273.8 L117.4,273.7 L118.0,273.8 L118.7,274.1 L119.4,274.5 L120.0,274.9 L120.7,275.4 L121.0,276.1 L120.7,276.8 L120.4,277.5 L120.3,278.4 L120.7,278.9 L121.4,279.3 L122.0,279.7 L122.4,280.1 L122.6,281.1 L122.4,281.8 L121.7,282.4Z" stroke="#222" fill="#000" fill-opacity="0.05"/>
<path d="M121.4,282.2 L120.7,281.9 L120.3,281.4 L119.9,280.8 L119.5,280.1 L119.1,279.4 L118.7,278.9 L118.1,278.4 L117.7,278.1 L117.0,277.8 L116.0,277.6 L115.0,277.6 L114.8,276.8 L115.0,275.8 L115.4,275.2 L115.7,274.7 L116.4,274.2 L117.0,274.0 L117.7,274.1 L118.5,274.4 L119.0,274.8 L119.7,275.4 L120.0,275.8 L120.2,276.8 L120.0,277.6 L119.9,278.4 L120.4,279.0 L121.0,279.4 L121.7,279.7 L122.1,280.1 L122.3,281.1 L122.0,281.8 L121.4,282.2Z" stroke="#1e1e1e" fill="#000" fill-opacity="0.05"/>
<path d="M117.0,281.1 L116.4,280.5 L116.4,279.9 L117.0,279.7 L117.3,280.4Z" stroke="#1e1e1e" fill="#000" fill-opacity="0.05"/>
<path d="M119.0,278.2 L118.4,278.0 L117.6,277.8 L116.8,277.4 L116.0,277.2 L115.4,276.9 L115.3,276.1 L115.6,275.4 L116.0,274.8 L116.7,274.4 L117.4,274.3 L118.0,274.6 L118.7,275.1 L119.0,275.4 L119.6,276.1 L119.8,276.8 L119.7,277.5 L119.3,278.1Z" stroke="#1a1a1a" fill="#000" fill-opacity="0.05"/>
<path d="M121.7,281.8 L120.9,281.8 L120.4,281.2 L120.0,280.6 L119.7,279.9 L119.7,279.2 L120.7,279.4 L121.4,279.7 L121.9,280.1 L122.2,280.8 L122.0,281.4Z" stroke="#1a1a1a" fill="#000" fill-opacity="0.05"/>
<path d="M119.0,277.6 L118.0,277.6 L117.4,277.4 L116.5,277.1 L115.9,276.8 L115.8,275.8 L116.2,275.1 L116.7,274.7 L117.5,274.8 L118.1,275.1 L118.7,275.7 L119.1,276.1 L119.4,276.8 L119.3,277.4Z" stroke="#161616" fill="#000" fill-opacity="0.05"/>
<path d="M121.7,281.4 L120.9,281.4 L120.4,280.8 L120.0,280.1 L120.0,279.7 L121.0,279.7 L121.7,280.1 L121.9,280.8 L121.7,281.4Z" stroke="#161616" fill="#000" fill-opacity="0.05"/>
<path d="M118.7,277.3 L117.7,277.3 L117.0,277.1 L116.4,276.7 L116.0,276.1 L116.2,275.4 L116.7,275.0 L117.5,275.1 L118.0,275.5 L118.7,276.1 L119.0,276.7 L119.0,277.1Z" stroke="#141414" fill="#000" fill-opacity="0.05"/>
<path d="M121.4,281.4 L120.7,281.0 L120.3,280.4 L120.7,279.8 L121.4,280.1 L121.8,280.8 L121.4,281.4Z" stroke="#141414" fill="#000" fill-opacity="0.05"/>
<path d="M118.4,277.1 L117.6,277.1 L116.8,276.8 L116.4,276.3 L116.4,275.7 L117.0,275.2 L117.7,275.5 L118.3,276.1 L118.7,276.8Z" stroke="#121212" fill="#000" fill-opacity="0.05"/>
<path d="M121.4,281.1 L120.7,280.8 L120.6,280.1 L121.1,280.1 L121.6,280.8Z" stroke="#121212" fill="#000" fill-opacity="0.05"/>
<path d="M118.0,276.8 L117.2,276.8 L116.7,276.4 L116.7,275.7 L117.6,275.8 L118.0,276.2 L118.0,276.8Z" stroke="#101010" fill="#000" fill-opacity="0.05"/>
<path d="M121.4,280.8 L120.7,280.4 L121.0,280.2 L121.4,280.8Z" stroke="#101010" fill="#000" fill-opacity="0.05"/>
</g>
<g clip-path="url(#cb20)" fill="none" stroke-width="0.8">
<path d="M41.3,355.7 L40.3,355.9 L39.4,355.7 L38.8,355.3 L38.3,354.9 L37.9,354.3 L37.6,353.7 L37.3,352.7 L37.2,352.0 L37.1,351.0 L37.0,350.2 L36.9,349.3 L36.7,348.3 L36.5,347.7 L36.3,346.7 L36.1,346.0 L36.0,345.2 L35.8,344.3 L35.6,343.3 L35.5,342.7 L35.5,341.7 L35.4,340.7 L35.4,339.7 L35.4,338.7 L35.4,337.7 L35.6,336.7 L35.7,336.0 L36.0,335.2 L36.3,334.3 L36.6,333.7 L37.0,333.0 L37.3,332.5 L37.7,332.0 L38.2,331.3 L38.6,330.9 L39.2,330.3 L39.6,330.0 L40.3,329.5 L41.0,329.1 L41.6,328.8 L42.3,328.6 L43.3,328.4 L44.0,328.3 L45.0,328.3 L45.6,328.4 L46.3,328.7 L47.0,329.0 L47.6,329.4 L48.3,330.0 L48.7,330.3 L49.2,331.0 L49.6,331.6 L50.0,332.2 L50.3,332.9 L50.6,333.7 L50.9,334.3 L51.1,335.0 L51.3,335.9 L51.5,336.7 L51.6,337.6 L51.7,338.3 L51.8,339.3 L51.8,340.3 L51.8,341.3 L51.6,342.3 L51.6,343.0 L51.3,344.0 L51.2,344.7 L51.0,345.5 L50.7,346.3 L50.4,347.0 L50.1,347.7 L49.7,348.3 L49.3,349.0 L49.0,349.4 L48.5,350.0 L48.0,350.5 L47.4,351.0 L47.0,351.4 L46.3,351.9 L45.6,352.3 L45.2,352.7 L44.6,353.1 L44.0,353.7 L43.6,354.0 L43.0,354.7 L42.6,355.0 L42.0,355.4 L41.3,355.7Z" stroke="#666" fill="#000" fill-opacity="0.05"/>
<path d="M41.6,352.1 L40.8,352.0 L40.2,351.7 L39.6,351.0 L39.3,350.5 L39.0,349.8 L38.6,349.1 L38.3,348.3 L38.0,347.7 L37.7,347.0 L37.4,346.3 L37.2,345.7 L37.0,345.0 L36.7,344.0 L36.5,343.3 L36.4,342.3 L36.3,341.7 L36.2,340.7 L36.2,339.7 L36.2,338.7 L36.3,337.7 L36.3,337.0 L36.6,336.0 L36.8,335.3 L37.0,334.7 L37.4,334.0 L37.8,333.3 L38.3,332.7 L38.7,332.3 L39.3,331.8 L39.9,331.3 L40.4,331.0 L41.0,330.6 L41.6,330.3 L42.3,329.9 L43.1,329.7 L44.0,329.5 L45.0,329.5 L45.8,329.7 L46.6,330.0 L47.2,330.3 L47.6,330.7 L48.2,331.3 L48.6,331.8 L49.0,332.3 L49.4,333.0 L49.7,333.7 L50.0,334.4 L50.3,335.3 L50.5,336.0 L50.7,336.7 L50.9,337.7 L51.0,338.5 L51.0,339.3 L51.0,340.3 L51.0,341.3 L50.9,342.0 L50.7,343.0 L50.6,343.7 L50.3,344.7 L50.2,345.3 L49.9,346.0 L49.6,346.7 L49.3,347.3 L48.8,348.0 L48.3,348.7 L48.0,349.0 L47.3,349.6 L46.8,350.0 L46.3,350.3 L45.6,350.7 L44.8,351.0 L44.0,351.3 L43.3,351.6 L42.6,351.8 L42.0,352.0Z" stroke="#5a5a5a" fill="#000" fill-opacity="0.05"/>
<path d="M44.3,349.7 L43.3,349.9 L42.3,349.9 L41.5,349.7 L40.8,349.3 L40.3,348.9 L39.8,348.3 L39.4,347.7 L39.0,347.0 L38.6,346.4 L38.3,345.8 L38.0,345.1 L37.7,344.3 L37.4,343.7 L37.3,343.0 L37.1,342.0 L37.0,341.0 L37.0,340.3 L37.0,339.3 L37.0,338.7 L37.1,337.7 L37.2,336.7 L37.4,336.0 L37.6,335.3 L38.0,334.7 L38.4,334.0 L39.0,333.3 L39.3,333.0 L40.0,332.5 L40.6,332.2 L41.3,331.8 L42.0,331.4 L42.6,331.1 L43.3,330.8 L44.0,330.6 L45.0,330.7 L45.6,330.8 L46.3,331.1 L47.0,331.6 L47.4,332.0 L48.0,332.6 L48.3,333.1 L48.6,333.7 L49.0,334.4 L49.3,335.2 L49.6,336.0 L49.8,336.7 L50.0,337.3 L50.2,338.3 L50.3,339.3 L50.2,340.3 L50.2,341.3 L50.1,342.3 L49.9,343.0 L49.7,344.0 L49.5,344.7 L49.2,345.3 L48.9,346.0 L48.5,346.7 L48.0,347.3 L47.6,347.8 L47.1,348.3 L46.6,348.7 L46.0,349.1 L45.3,349.4 L44.5,349.7Z" stroke="#4e4e4e" fill="#000" fill-opacity="0.05"/>
<path d="M44.3,348.7 L43.3,348.7 L42.6,348.6 L41.8,348.3 L41.2,348.0 L40.6,347.6 L40.1,347.0 L39.7,346.3 L39.3,345.8 L39.0,345.3 L38.6,344.7 L38.3,344.0 L38.0,343.0 L37.9,342.3 L37.8,341.3 L37.7,340.3 L37.7,339.3 L37.8,338.3 L37.9,337.3 L38.0,336.4 L38.2,335.7 L38.6,335.0 L39.0,334.5 L39.4,334.0 L40.0,333.5 L40.6,333.1 L41.3,332.7 L42.0,332.4 L42.6,332.1 L43.3,331.9 L44.3,331.7 L45.2,332.0 L45.7,332.3 L46.3,332.9 L46.7,333.3 L47.3,333.8 L47.8,334.3 L48.2,335.0 L48.5,335.7 L48.8,336.3 L49.1,337.0 L49.4,337.7 L49.6,338.7 L49.6,339.7 L49.5,340.7 L49.5,341.7 L49.3,342.7 L49.1,343.3 L48.8,344.0 L48.6,344.7 L48.3,345.3 L47.8,346.0 L47.3,346.6 L47.0,347.1 L46.5,347.7 L46.0,348.1 L45.3,348.4 L44.4,348.7Z" stroke="#444" fill="#000" fill-opacity="0.05"/>
<path d="M45.0,347.8 L44.0,347.8 L43.3,347.6 L42.6,347.3 L41.9,347.0 L41.1,346.7 L40.6,346.3 L40.0,345.7 L39.6,345.2 L39.3,344.7 L39.0,344.0 L38.7,343.0 L38.6,342.3 L38.5,341.3 L38.4,340.3 L38.4,339.3 L38.6,338.3 L38.6,337.3 L38.6,336.5 L39.0,335.7 L39.3,335.3 L39.9,334.7 L40.3,334.2 L41.0,333.7 L41.5,333.3 L42.3,333.0 L43.0,332.9 L44.0,332.9 L44.6,333.1 L45.2,333.7 L45.6,334.3 L46.0,334.9 L46.3,335.4 L47.0,335.9 L47.6,336.3 L48.0,336.7 L48.4,337.3 L48.8,338.0 L49.0,339.0 L48.9,340.0 L48.9,341.0 L48.9,342.0 L48.6,342.9 L48.3,343.6 L48.0,344.2 L47.6,344.7 L47.1,345.3 L46.8,346.0 L46.4,346.7 L46.0,347.2 L45.3,347.6Z" stroke="#3a3a3a" fill="#000" fill-opacity="0.05"/>
<path d="M45.0,347.0 L44.3,347.0 L43.6,346.6 L43.0,346.2 L42.0,346.1 L41.3,345.9 L40.6,345.6 L40.1,345.0 L39.7,344.3 L39.4,343.7 L39.3,343.0 L39.2,342.0 L39.2,341.0 L39.1,340.0 L39.0,339.0 L39.2,338.0 L39.3,337.0 L39.5,336.3 L39.9,335.7 L40.3,335.2 L40.8,334.7 L41.3,334.2 L42.0,333.8 L42.6,333.7 L43.3,333.7 L44.2,334.0 L44.7,334.3 L45.2,335.0 L45.5,335.7 L45.7,336.3 L46.2,337.0 L47.0,337.1 L47.6,337.5 L48.0,338.0 L48.2,339.0 L48.1,340.0 L48.3,341.0 L48.3,341.7 L48.3,342.3 L48.0,343.1 L47.6,343.7 L47.0,344.3 L46.6,344.7 L46.3,345.6 L46.0,346.3 L45.6,346.7 L45.0,347.0Z" stroke="#333" fill="#000" fill-opacity="0.05"/>
<path d="M45.3,346.0 L44.4,346.0 L43.9,345.7 L43.0,345.4 L42.0,345.4 L41.3,345.3 L40.6,344.9 L40.2,344.3 L40.0,343.6 L39.8,342.7 L39.7,341.7 L39.7,340.7 L39.6,340.0 L39.5,339.0 L39.6,338.1 L39.9,337.3 L40.1,336.7 L40.4,336.0 L40.9,335.3 L41.3,335.0 L42.0,334.5 L42.6,334.3 L43.5,334.3 L44.2,334.7 L44.6,335.0 L45.1,335.7 L45.3,336.5 L45.6,337.3 L46.2,337.7 L47.0,337.9 L47.3,338.3 L47.3,339.0 L47.1,340.0 L47.5,340.7 L47.8,341.3 L47.8,342.3 L47.5,343.0 L47.0,343.5 L46.3,344.0 L46.0,344.6 L45.7,345.3 L45.3,346.0Z" stroke="#2c2c2c" fill="#000" fill-opacity="0.05"/>
<path d="M45.0,341.0 L45.6,340.7 L45.3,340.2 L44.6,340.3 L44.9,341.0Z" stroke="#2c2c2c" fill="#000" fill-opacity="0.05"/>
<path d="M45.0,344.7 L44.0,344.9 L43.0,344.7 L42.0,344.7 L41.3,344.5 L40.8,344.0 L40.6,343.3 L40.4,342.3 L40.3,341.7 L40.3,340.7 L40.0,339.7 L39.9,339.0 L40.0,338.3 L40.3,337.7 L40.6,336.9 L41.0,336.2 L41.4,335.7 L42.0,335.2 L42.6,334.8 L43.6,334.8 L44.3,335.2 L44.7,335.7 L45.0,336.4 L45.1,337.3 L45.6,338.0 L46.1,338.3 L46.3,339.0 L46.0,339.4 L45.0,339.6 L44.3,339.9 L43.6,340.0 L43.0,339.9 L42.3,339.7 L41.9,340.0 L42.0,340.7 L42.3,341.5 L43.0,342.0 L44.0,341.7 L44.7,341.7 L45.6,341.5 L46.3,341.2 L47.0,341.3 L47.2,342.3 L46.6,342.9 L46.0,343.3 L45.6,343.8 L45.3,344.3Z" stroke="#262626" fill="#000" fill-opacity="0.05"/>
<path d="M41.3,342.2 L40.9,341.7 L40.9,340.7 L40.6,339.7 L40.4,339.0 L40.6,338.1 L41.0,337.4 L41.3,336.7 L41.6,336.0 L42.0,335.7 L42.6,335.2 L43.6,335.2 L44.3,335.6 L44.6,336.2 L44.8,337.0 L45.0,337.7 L45.3,338.4 L45.3,339.0 L44.6,339.3 L43.6,339.6 L42.8,339.3 L42.0,339.1 L41.3,339.6 L41.0,340.3 L41.4,341.0 L41.5,342.0Z" stroke="#222" fill="#000" fill-opacity="0.05"/>
<path d="M44.6,344.0 L43.6,344.1 L43.0,343.9 L42.5,343.3 L43.0,343.0 L43.8,342.7 L44.6,342.3 L45.3,342.2 L46.0,342.3 L45.6,342.8 L45.2,343.3 L44.6,344.0Z" stroke="#222" fill="#000" fill-opacity="0.05"/>
<path d="M44.3,339.1 L43.3,339.2 L42.6,338.9 L42.0,338.5 L41.5,338.0 L41.6,337.0 L41.9,336.3 L42.3,335.8 L43.0,335.4 L44.0,335.7 L44.3,336.0 L44.6,337.0 L44.7,337.7 L44.8,338.7 L44.3,339.1Z" stroke="#1e1e1e" fill="#000" fill-opacity="0.05"/>
<path d="M44.0,338.9 L43.0,338.8 L42.3,338.3 L42.0,337.8 L42.0,337.0 L42.2,336.3 L42.6,335.9 L43.6,335.7 L44.2,336.3 L44.4,337.0 L44.5,338.0 L44.3,338.7Z" stroke="#1a1a1a" fill="#000" fill-opacity="0.05"/>
<path d="M43.6,338.7 L43.0,338.5 L42.4,338.0 L42.2,337.3 L42.4,336.7 L43.0,336.0 L43.6,336.0 L44.0,336.3 L44.2,337.3 L44.1,338.3 L43.6,338.7Z" stroke="#161616" fill="#000" fill-opacity="0.05"/>
<path d="M43.6,338.4 L43.0,338.3 L42.5,337.7 L42.6,336.7 L43.0,336.3 L43.7,336.3 L44.0,337.0 L44.0,338.0 L43.6,338.4Z" stroke="#141414" fill="#000" fill-opacity="0.05"/>
<path d="M43.6,338.1 L43.0,338.0 L42.7,337.0 L43.3,336.4 L43.8,337.0 L43.7,338.0Z" stroke="#121212" fill="#000" fill-opacity="0.05"/>
<path d="M43.6,337.7 L43.0,337.7 L43.0,336.9 L43.4,336.7 L43.7,337.3Z" stroke="#101010" fill="#000" fill-opacity="0.05"/>
</g>
<g clip-path="url(#cb21)" fill="none" stroke-width="0.8">
<path d="M116.4,358.7 L115.4,358.7 L114.7,358.6 L113.7,358.4 L113.0,358.1 L112.4,357.7 L112.0,357.3 L111.4,356.7 L111.0,356.1 L110.7,355.3 L110.6,354.7 L110.5,353.7 L110.4,352.7 L110.2,352.0 L110.0,351.3 L109.7,350.6 L109.6,349.7 L109.6,348.7 L109.6,347.7 L109.6,346.7 L109.6,345.7 L109.6,344.7 L109.6,343.7 L109.6,342.7 L109.6,341.7 L109.6,340.7 L109.5,339.7 L109.5,338.7 L109.6,337.7 L109.6,336.7 L109.7,335.7 L109.9,335.0 L110.1,334.3 L110.4,333.6 L110.7,332.8 L111.0,332.2 L111.4,331.5 L111.7,331.0 L112.2,330.3 L112.7,329.7 L113.0,329.3 L113.7,328.7 L114.2,328.3 L114.8,328.0 L115.5,327.7 L116.4,327.4 L117.0,327.2 L118.0,327.1 L119.0,327.2 L120.0,327.3 L120.7,327.5 L121.4,327.8 L122.0,328.1 L122.7,328.6 L123.3,329.0 L123.7,329.4 L124.3,330.0 L124.7,330.4 L125.2,331.0 L125.6,331.7 L126.0,332.2 L126.4,332.8 L126.7,333.3 L127.1,334.0 L127.4,334.7 L127.7,335.5 L128.0,336.3 L128.4,336.9 L128.9,337.3 L129.5,337.3 L130.4,337.1 L131.0,336.8 L131.7,336.6 L132.4,336.3 L133.2,336.0 L134.0,335.7 L134.7,335.4 L135.4,335.2 L136.3,335.0 L137.0,334.8 L137.7,334.6 L138.4,334.3 L139.2,334.0 L140.0,333.7 L140.7,333.5 L141.4,333.3 L142.4,333.1 L143.1,333.0 L144.0,332.9 L145.0,332.9 L146.0,332.9 L147.0,333.0 L147.7,333.1 L148.4,333.4 L149.0,333.7 L149.7,334.1 L150.4,334.7 L150.7,335.0 L151.1,335.7 L151.4,336.3 L151.6,337.3 L151.5,338.3 L151.4,339.0 L151.0,339.9 L150.7,340.5 L150.3,341.0 L149.7,341.7 L149.3,342.0 L148.7,342.4 L148.0,342.8 L147.4,343.1 L146.6,343.3 L145.7,343.6 L145.0,343.7 L144.0,343.9 L143.0,344.0 L142.4,344.1 L141.4,344.2 L140.5,344.3 L139.7,344.5 L139.0,344.7 L138.0,345.0 L137.4,345.2 L136.7,345.4 L136.0,345.7 L135.4,346.0 L134.7,346.4 L134.0,346.7 L133.4,347.1 L132.7,347.3 L132.0,347.7 L131.2,348.0 L130.4,348.3 L129.7,348.6 L129.0,348.8 L128.3,349.0 L127.4,349.3 L126.7,349.6 L126.2,350.0 L125.7,350.5 L125.3,351.0 L124.8,351.7 L124.4,352.2 L124.0,352.8 L123.7,353.3 L123.3,354.0 L123.0,354.7 L122.5,355.3 L122.0,356.0 L121.7,356.3 L121.0,356.9 L120.4,357.3 L119.7,357.7 L119.0,358.0 L118.4,358.2 L117.7,358.4 L116.7,358.6Z" stroke="#666" fill="#000" fill-opacity="0.05"/>
<path d="M117.0,356.3 L116.1,356.3 L115.4,356.2 L114.7,355.9 L114.0,355.5 L113.6,355.0 L113.2,354.3 L112.9,353.7 L112.7,353.0 L112.4,352.1 L112.1,351.3 L111.8,350.7 L111.5,350.0 L111.3,349.3 L111.0,348.5 L110.8,347.7 L110.7,347.0 L110.6,346.0 L110.5,345.0 L110.4,344.0 L110.4,343.0 L110.3,342.3 L110.1,341.3 L110.0,340.3 L110.0,339.7 L110.0,338.7 L110.0,338.0 L110.2,337.0 L110.4,336.1 L110.6,335.3 L110.8,334.7 L111.1,334.0 L111.4,333.3 L111.7,332.7 L112.1,332.0 L112.5,331.3 L113.0,330.7 L113.4,330.3 L114.0,329.7 L114.6,329.3 L115.1,329.0 L115.9,328.7 L116.7,328.4 L117.4,328.3 L118.4,328.3 L119.1,328.3 L120.0,328.5 L120.7,328.7 L121.4,329.0 L122.0,329.4 L122.7,329.9 L123.2,330.3 L123.7,330.8 L124.2,331.3 L124.7,332.0 L125.0,332.4 L125.4,333.0 L125.9,333.7 L126.3,334.3 L126.6,335.0 L126.9,335.7 L127.1,336.3 L127.4,337.2 L127.6,338.0 L128.0,338.7 L128.7,339.0 L129.7,338.8 L130.4,338.5 L131.0,338.2 L131.7,337.9 L132.4,337.7 L133.1,337.3 L133.9,337.0 L134.7,336.7 L135.4,336.4 L136.0,336.2 L136.8,336.0 L137.7,335.7 L138.4,335.5 L139.0,335.2 L139.7,334.9 L140.5,334.7 L141.4,334.4 L142.0,334.2 L143.0,334.1 L143.7,334.0 L144.7,333.9 L145.7,333.9 L146.4,334.0 L147.4,334.2 L148.0,334.5 L148.7,334.9 L149.2,335.3 L149.7,335.9 L150.0,336.5 L150.3,337.3 L150.2,338.3 L150.0,339.0 L149.7,339.7 L149.3,340.3 L148.7,341.0 L148.2,341.3 L147.7,341.7 L147.0,342.0 L146.1,342.3 L145.4,342.5 L144.6,342.7 L143.7,342.8 L142.7,342.9 L141.7,343.0 L141.0,343.0 L140.0,343.2 L139.3,343.3 L138.4,343.6 L137.7,343.7 L136.8,344.0 L136.0,344.3 L135.4,344.6 L134.7,344.9 L134.0,345.3 L133.4,345.6 L132.7,346.0 L132.0,346.3 L131.4,346.6 L130.7,346.9 L130.0,347.1 L129.4,347.4 L128.6,347.7 L127.7,347.9 L127.0,348.2 L126.4,348.5 L125.7,349.0 L125.4,349.3 L124.8,350.0 L124.4,350.4 L123.9,351.0 L123.4,351.6 L123.0,352.0 L122.4,352.7 L122.0,353.2 L121.6,353.7 L121.0,354.3 L120.7,354.7 L120.0,355.2 L119.4,355.6 L118.7,355.9 L118.0,356.1 L117.1,356.3Z" stroke="#5a5a5a" fill="#000" fill-opacity="0.05"/>
<path d="M118.7,353.7 L117.7,353.9 L116.7,353.9 L116.0,353.6 L115.4,353.1 L114.9,352.7 L114.4,352.1 L114.0,351.6 L113.6,351.0 L113.2,350.3 L112.9,349.7 L112.5,349.0 L112.3,348.3 L112.0,347.7 L111.7,346.7 L111.5,346.0 L111.4,345.0 L111.3,344.3 L111.2,343.3 L111.1,342.3 L111.0,341.7 L110.8,340.7 L110.7,339.7 L110.7,338.7 L110.8,337.7 L111.0,336.7 L111.2,336.0 L111.4,335.3 L111.7,334.6 L112.0,333.9 L112.4,333.2 L112.7,332.7 L113.1,332.0 L113.7,331.3 L114.1,331.0 L114.7,330.5 L115.4,330.1 L116.0,329.8 L116.7,329.6 L117.7,329.4 L118.7,329.5 L119.7,329.6 L120.4,329.8 L121.0,330.1 L121.7,330.5 L122.4,330.9 L122.9,331.3 L123.4,331.8 L123.8,332.3 L124.4,333.0 L124.7,333.5 L125.1,334.0 L125.5,334.7 L125.8,335.3 L126.1,336.0 L126.4,336.7 L126.6,337.7 L126.7,338.3 L126.9,339.3 L127.2,340.0 L127.7,340.6 L128.4,340.9 L129.4,340.7 L130.0,340.4 L130.7,340.0 L131.3,339.7 L131.9,339.3 L132.7,339.0 L133.4,338.7 L134.0,338.4 L134.7,338.1 L135.4,337.8 L136.0,337.5 L136.7,337.3 L137.5,337.0 L138.4,336.7 L139.0,336.4 L139.7,336.1 L140.4,335.9 L141.0,335.6 L142.0,335.4 L142.7,335.2 L143.7,335.1 L144.7,335.0 L145.0,335.0 L146.0,335.1 L146.8,335.3 L147.5,335.7 L148.0,336.0 L148.6,336.7 L148.8,337.3 L148.8,338.3 L148.6,339.0 L148.2,339.7 L147.7,340.2 L147.0,340.7 L146.4,341.0 L145.7,341.3 L145.0,341.4 L144.0,341.6 L143.0,341.7 L142.4,341.7 L141.4,341.7 L140.4,341.7 L139.4,341.9 L138.7,342.1 L138.0,342.3 L137.0,342.6 L136.4,342.7 L135.6,343.0 L134.8,343.3 L134.1,343.7 L133.5,344.0 L132.8,344.3 L132.0,344.7 L131.4,345.0 L130.7,345.3 L130.0,345.5 L129.4,345.8 L128.7,346.2 L128.0,346.4 L127.4,346.7 L126.7,347.0 L126.0,347.4 L125.4,348.0 L125.0,348.4 L124.5,349.0 L124.0,349.5 L123.6,350.0 L123.0,350.5 L122.5,351.0 L122.0,351.5 L121.4,352.0 L121.0,352.4 L120.4,352.8 L119.7,353.2 L119.0,353.5Z" stroke="#4e4e4e" fill="#000" fill-opacity="0.05"/>
<path d="M118.7,346.0 L118.7,345.0 L118.4,345.2 L118.4,345.7 L118.7,346.0Z" stroke="#4e4e4e" fill="#000" fill-opacity="0.05"/>
<path d="M119.0,352.1 L118.0,352.2 L117.0,352.0 L116.4,351.7 L115.9,351.3 L115.3,351.0 L114.7,350.5 L114.2,350.0 L113.7,349.3 L113.4,348.8 L113.0,348.1 L112.7,347.3 L112.5,346.7 L112.3,346.0 L112.2,345.0 L112.1,344.0 L112.0,343.3 L111.8,342.3 L111.6,341.7 L111.5,340.7 L111.4,339.7 L111.4,339.0 L111.4,338.3 L111.5,337.3 L111.7,336.7 L112.0,335.8 L112.4,335.0 L112.6,334.3 L113.0,333.7 L113.4,333.1 L113.7,332.6 L114.3,332.0 L114.7,331.6 L115.4,331.2 L116.0,330.9 L116.7,330.7 L117.7,330.5 L118.7,330.6 L119.4,330.7 L120.4,330.9 L121.0,331.1 L121.7,331.4 L122.4,331.9 L122.8,332.3 L123.4,332.9 L123.7,333.3 L124.2,334.0 L124.7,334.7 L125.0,335.3 L125.4,336.0 L125.6,336.7 L125.8,337.3 L126.0,338.3 L126.0,339.3 L126.2,340.0 L126.4,340.7 L126.7,341.4 L127.0,342.0 L127.5,342.7 L127.9,343.3 L128.1,344.0 L127.9,344.7 L127.4,345.2 L126.7,345.7 L126.2,346.0 L125.7,346.5 L125.2,347.0 L124.7,347.5 L124.3,348.0 L123.8,348.7 L123.4,349.2 L122.9,349.7 L122.4,350.2 L121.7,350.7 L121.3,351.0 L120.7,351.4 L120.0,351.7 L119.2,352.0Z" stroke="#444" fill="#000" fill-opacity="0.05"/>
<path d="M134.0,341.7 L133.0,341.8 L132.7,341.3 L133.0,340.9 L133.7,340.5 L134.4,340.2 L135.0,339.9 L135.7,339.4 L136.2,339.0 L136.8,338.7 L137.6,338.3 L138.4,338.1 L139.0,337.9 L139.7,337.6 L140.6,337.3 L141.4,337.1 L142.0,336.8 L142.7,336.5 L143.4,336.2 L144.4,336.1 L145.4,336.2 L146.0,336.4 L146.7,336.8 L147.3,337.3 L147.5,338.0 L147.3,338.7 L146.9,339.3 L146.4,339.8 L145.7,340.2 L145.0,340.3 L144.0,340.4 L143.0,340.4 L142.0,340.4 L141.3,340.3 L140.4,340.1 L139.7,340.0 L139.0,340.1 L138.4,340.6 L137.7,341.0 L137.0,341.1 L136.0,341.2 L135.0,341.3 L134.4,341.5Z" stroke="#444" fill="#000" fill-opacity="0.05"/>
<path d="M118.8,346.3 L119.0,345.7 L119.0,345.0 L118.4,344.7 L118.1,345.3 L118.4,346.2 L118.8,346.3Z" stroke="#444" fill="#000" fill-opacity="0.05"/>
<path d="M119.4,351.0 L118.4,351.1 L117.7,350.9 L117.0,350.5 L116.4,350.2 L115.7,350.0 L115.0,349.6 L114.4,349.0 L114.0,348.5 L113.7,347.8 L113.4,347.0 L113.1,346.3 L113.0,345.7 L112.9,344.7 L112.7,343.7 L112.6,343.0 L112.4,342.1 L112.2,341.3 L112.0,340.5 L112.0,339.7 L112.0,338.7 L112.1,338.0 L112.4,337.1 L112.7,336.3 L112.9,335.7 L113.1,335.0 L113.5,334.3 L113.9,333.7 L114.4,333.2 L114.9,332.7 L115.4,332.3 L116.1,332.0 L117.0,331.7 L117.7,331.5 L118.7,331.4 L119.7,331.5 L120.4,331.7 L121.3,332.0 L121.9,332.3 L122.4,332.7 L122.9,333.3 L123.4,333.8 L123.8,334.3 L124.2,335.0 L124.5,335.7 L124.8,336.3 L125.0,337.0 L125.3,338.0 L125.4,339.0 L125.4,339.7 L125.5,340.7 L125.7,341.3 L126.0,342.2 L126.3,343.0 L126.3,344.0 L126.0,344.7 L125.5,345.3 L125.0,345.9 L124.7,346.3 L124.1,347.0 L123.7,347.7 L123.4,348.2 L123.0,348.7 L122.4,349.3 L122.0,349.7 L121.4,350.1 L120.7,350.5 L120.0,350.8 L119.4,351.0Z" stroke="#3a3a3a" fill="#000" fill-opacity="0.05"/>
<path d="M119.2,346.3 L119.2,345.3 L119.1,344.3 L118.4,344.3 L118.0,344.8 L118.0,345.7 L118.2,346.3 L119.0,346.6Z" stroke="#3a3a3a" fill="#000" fill-opacity="0.05"/>
<path d="M119.4,350.4 L118.7,350.3 L117.9,350.0 L117.3,349.7 L116.4,349.4 L115.7,349.2 L115.0,348.8 L114.7,348.3 L114.4,347.7 L114.0,346.9 L113.7,346.0 L113.5,345.3 L113.4,344.3 L113.4,343.7 L113.2,342.7 L113.0,342.0 L112.7,341.1 L112.6,340.3 L112.5,339.3 L112.6,338.3 L112.9,337.7 L113.2,337.0 L113.4,336.3 L113.7,335.3 L114.0,334.7 L114.4,334.3 L115.0,333.8 L115.6,333.3 L116.0,333.0 L116.7,332.6 L117.4,332.3 L118.4,332.0 L119.0,332.0 L119.7,332.0 L120.7,332.3 L121.4,332.6 L121.9,333.0 L122.4,333.4 L122.9,334.0 L123.4,334.6 L123.7,335.2 L124.0,336.0 L124.2,336.7 L124.5,337.3 L124.7,338.0 L124.8,339.0 L124.9,340.0 L124.9,341.0 L125.0,341.9 L125.3,342.7 L125.3,343.7 L125.0,344.5 L124.7,345.1 L124.3,345.7 L123.7,346.3 L123.4,346.8 L123.0,347.6 L122.7,348.1 L122.2,348.7 L121.7,349.2 L121.2,349.7 L120.6,350.0 L119.7,350.3Z" stroke="#333" fill="#000" fill-opacity="0.05"/>
<path d="M121.7,338.7 L122.1,338.0 L121.4,337.7 L121.4,338.6 L121.7,338.7Z" stroke="#333" fill="#000" fill-opacity="0.05"/>
<path d="M119.3,346.7 L119.4,346.0 L119.4,345.0 L119.4,344.2 L118.7,343.9 L118.1,344.3 L117.8,345.0 L117.9,346.0 L118.2,346.7 L119.0,346.8Z" stroke="#333" fill="#000" fill-opacity="0.05"/>
<path d="M120.4,349.7 L119.4,349.9 L118.6,349.7 L118.0,349.3 L117.4,349.0 L116.4,348.7 L115.7,348.5 L115.2,348.0 L114.9,347.3 L114.5,346.7 L114.2,346.0 L114.0,345.3 L114.0,344.3 L113.9,343.3 L113.8,342.3 L113.7,341.7 L113.4,340.9 L113.1,340.0 L113.0,339.3 L113.0,338.6 L113.4,337.8 L113.7,337.0 L113.8,336.3 L114.0,335.6 L114.5,335.0 L115.0,334.6 L115.7,334.1 L116.2,333.7 L116.7,333.3 L117.4,332.9 L118.0,332.6 L119.0,332.4 L120.0,332.5 L120.7,332.7 L121.4,333.1 L122.0,333.7 L122.4,334.1 L122.9,334.7 L123.3,335.3 L123.5,336.0 L123.6,337.0 L124.0,337.7 L124.2,338.3 L124.4,339.3 L124.4,340.0 L124.4,340.9 L124.4,341.7 L124.4,342.3 L124.5,343.3 L124.4,344.0 L124.0,344.8 L123.6,345.3 L123.0,345.8 L122.7,346.3 L122.6,347.3 L122.2,348.0 L121.7,348.7 L121.4,349.0 L120.7,349.5Z" stroke="#2c2c2c" fill="#000" fill-opacity="0.05"/>
<path d="M122.1,339.0 L122.7,338.3 L122.4,337.6 L121.7,337.3 L121.0,337.5 L120.8,338.3 L121.3,339.0 L122.0,339.1Z" stroke="#2c2c2c" fill="#000" fill-opacity="0.05"/>
<path d="M119.2,347.0 L119.7,346.3 L119.5,345.3 L119.6,344.3 L119.3,343.7 L118.7,343.7 L118.0,344.2 L117.7,344.7 L117.6,345.7 L117.8,346.3 L118.2,347.0 L119.0,347.1Z" stroke="#2c2c2c" fill="#000" fill-opacity="0.05"/>
<path d="M120.0,349.4 L119.0,349.4 L118.4,349.0 L118.0,348.7 L117.4,348.3 L116.4,348.0 L115.8,347.7 L115.4,347.1 L115.0,346.7 L114.6,346.0 L114.5,345.0 L114.6,344.0 L114.7,343.3 L115.0,342.5 L115.6,342.0 L116.0,341.3 L116.0,341.0 L115.4,340.5 L114.4,340.4 L113.8,340.0 L113.5,339.3 L113.6,338.3 L114.0,337.7 L114.2,337.0 L114.4,336.0 L114.7,335.5 L115.4,335.1 L116.0,334.7 L116.4,334.3 L117.0,333.8 L117.7,333.3 L118.3,333.0 L119.0,332.8 L120.0,332.9 L120.7,333.1 L121.4,333.6 L121.8,334.0 L122.3,334.7 L122.7,335.2 L123.0,336.0 L122.7,336.8 L121.7,336.9 L121.0,337.0 L120.6,337.7 L120.6,338.7 L121.0,339.3 L121.7,339.5 L122.6,339.3 L123.4,339.1 L123.8,339.7 L123.9,340.7 L123.8,341.7 L123.9,342.7 L123.8,343.7 L123.6,344.3 L123.2,345.0 L122.7,345.5 L122.2,346.0 L122.1,347.0 L121.9,347.7 L121.5,348.3 L121.0,348.8 L120.4,349.3Z" stroke="#262626" fill="#000" fill-opacity="0.05"/>
<path d="M119.0,347.3 L119.7,347.0 L119.9,346.3 L119.7,345.5 L119.7,345.0 L119.8,344.0 L119.4,343.4 L118.9,343.3 L118.3,343.7 L117.7,344.2 L117.4,345.0 L117.5,346.0 L117.7,347.0 L118.0,347.3 L119.0,347.3Z" stroke="#262626" fill="#000" fill-opacity="0.05"/>
<path d="M120.0,349.1 L119.1,349.0 L118.6,348.7 L118.3,348.0 L118.8,347.7 L119.6,347.3 L120.1,347.0 L120.0,346.1 L119.8,345.3 L120.0,344.3 L119.7,343.4 L119.0,343.0 L118.4,343.4 L117.7,344.0 L117.4,344.4 L117.3,345.3 L117.3,346.3 L117.2,347.3 L116.4,347.4 L115.8,347.0 L115.4,346.5 L115.0,346.0 L114.8,345.0 L115.1,344.3 L115.5,343.7 L115.7,343.0 L116.0,342.2 L116.4,341.7 L116.7,340.7 L116.0,340.1 L115.4,339.9 L114.4,339.7 L114.0,339.3 L114.0,338.5 L114.4,338.0 L114.8,337.3 L114.7,336.7 L114.9,336.0 L115.7,335.7 L116.4,335.4 L116.7,334.9 L117.1,334.3 L117.7,333.9 L118.4,333.4 L119.0,333.2 L120.0,333.3 L120.7,333.5 L121.3,334.0 L121.7,334.5 L122.1,335.0 L122.5,335.7 L122.3,336.3 L121.4,336.6 L120.7,337.0 L120.4,337.5 L120.2,338.3 L120.4,339.0 L121.0,339.7 L121.7,339.9 L122.7,339.8 L123.4,340.3 L123.5,341.0 L123.4,342.0 L123.4,343.0 L123.4,343.9 L123.0,344.7 L122.7,345.0 L122.1,345.7 L121.7,346.3 L121.6,347.0 L121.4,347.9 L121.0,348.4 L120.4,348.9Z" stroke="#222" fill="#000" fill-opacity="0.05"/>
<path d="M116.4,337.0 L116.3,336.7 L116.4,337.0Z" stroke="#222" fill="#000" fill-opacity="0.05"/>
<path d="M121.0,346.9 L120.4,346.3 L120.0,345.7 L120.0,345.0 L120.2,344.3 L120.0,343.5 L119.6,343.0 L118.7,342.9 L118.2,343.3 L117.7,343.7 L117.1,344.3 L117.1,345.3 L117.1,346.3 L116.7,346.9 L116.0,346.7 L115.4,346.0 L115.1,345.3 L115.4,344.7 L115.9,344.0 L116.1,343.3 L116.3,342.3 L116.7,341.8 L117.0,341.3 L117.3,340.3 L116.7,339.8 L116.0,339.4 L115.6,339.0 L116.0,338.4 L116.5,338.0 L117.0,337.6 L117.1,336.7 L117.0,336.0 L117.0,335.3 L117.4,334.7 L118.0,334.2 L118.7,333.8 L119.4,333.6 L120.0,333.7 L120.7,334.1 L121.2,334.7 L121.7,335.3 L121.7,335.9 L121.0,336.3 L120.6,336.7 L120.2,337.3 L119.9,338.0 L120.0,338.8 L120.4,339.5 L120.7,340.0 L121.7,340.3 L122.5,340.3 L123.0,341.0 L123.0,341.4 L122.9,342.3 L123.0,343.3 L122.9,344.3 L122.4,345.0 L122.0,345.3 L121.6,346.0 L121.1,346.7Z" stroke="#1e1e1e" fill="#000" fill-opacity="0.05"/>
<path d="M120.0,348.7 L119.3,348.7 L119.0,348.0 L119.6,347.7 L120.3,347.3 L121.0,347.3 L120.7,348.2 L120.1,348.7Z" stroke="#1e1e1e" fill="#000" fill-opacity="0.05"/>
<path d="M116.7,346.4 L116.0,346.3 L115.5,345.7 L115.7,344.8 L116.2,344.3 L116.4,343.7 L116.5,342.7 L116.9,342.0 L117.4,341.4 L117.7,341.0 L117.7,340.0 L117.4,339.3 L116.9,339.0 L117.2,338.3 L117.6,337.7 L117.4,336.7 L117.3,336.0 L117.4,335.3 L118.0,334.7 L118.7,334.3 L119.4,334.2 L120.0,334.4 L120.6,335.0 L120.9,335.7 L120.5,336.3 L120.1,337.0 L119.8,337.7 L119.5,338.3 L119.7,339.0 L120.1,339.7 L120.4,340.3 L121.4,340.7 L122.0,340.7 L122.6,341.3 L122.4,342.2 L122.4,343.0 L122.6,343.7 L122.4,344.6 L122.0,345.0 L121.5,345.7 L121.0,346.2 L120.4,345.9 L120.2,345.0 L120.4,344.0 L120.0,343.1 L119.6,342.7 L118.7,342.5 L118.3,343.0 L117.7,343.5 L117.0,344.0 L116.8,344.7 L116.9,345.7 L116.7,346.4Z" stroke="#1a1a1a" fill="#000" fill-opacity="0.05"/>
<path d="M119.0,337.8 L118.4,337.6 L117.9,337.0 L117.6,336.3 L117.7,335.5 L118.2,335.0 L119.0,334.8 L119.7,335.1 L120.2,335.7 L120.1,336.7 L119.7,337.3 L119.3,337.7Z" stroke="#161616" fill="#000" fill-opacity="0.05"/>
<path d="M121.0,345.9 L120.4,345.6 L120.4,344.7 L120.6,344.0 L120.4,343.2 L119.9,342.7 L119.4,342.0 L118.7,341.9 L118.4,342.4 L118.0,343.0 L117.4,343.5 L116.7,343.0 L116.8,342.7 L117.2,342.0 L117.7,341.6 L118.2,341.0 L118.1,340.0 L118.4,339.1 L119.0,338.9 L119.5,339.3 L119.8,340.0 L120.1,340.7 L120.7,341.0 L121.7,341.2 L121.9,342.0 L121.8,343.0 L122.1,343.7 L122.0,344.6 L121.7,345.1 L121.2,345.7Z" stroke="#161616" fill="#000" fill-opacity="0.05"/>
<path d="M116.4,346.1 L115.8,345.7 L116.0,344.9 L116.7,345.3 L116.4,346.1Z" stroke="#161616" fill="#000" fill-opacity="0.05"/>
<path d="M119.0,337.4 L118.4,337.2 L118.0,336.7 L117.9,335.7 L118.4,335.2 L119.4,335.3 L119.8,335.7 L119.8,336.7 L119.4,337.3Z" stroke="#141414" fill="#000" fill-opacity="0.05"/>
<path d="M119.4,341.2 L118.7,340.9 L118.5,340.0 L119.0,339.5 L119.5,340.0 L119.6,341.0Z" stroke="#141414" fill="#000" fill-opacity="0.05"/>
<path d="M121.0,345.6 L120.5,345.0 L120.7,344.3 L120.8,343.3 L120.4,342.9 L120.0,342.3 L119.7,341.7 L120.0,341.3 L120.7,341.4 L121.4,341.7 L121.4,342.6 L121.4,343.2 L121.7,343.8 L121.7,344.7 L121.4,345.2Z" stroke="#141414" fill="#000" fill-opacity="0.05"/>
<path d="M117.7,343.0 L117.0,343.0 L117.2,342.3 L118.0,342.1 L118.0,342.7Z" stroke="#141414" fill="#000" fill-opacity="0.05"/>
<path d="M119.0,337.1 L118.4,336.9 L118.0,336.0 L118.7,335.4 L119.4,335.7 L119.7,336.3 L119.4,336.9Z" stroke="#121212" fill="#000" fill-opacity="0.05"/>
<path d="M120.7,342.8 L120.3,342.3 L120.7,341.8 L121.0,342.3 L120.7,342.8Z" stroke="#121212" fill="#000" fill-opacity="0.05"/>
<path d="M120.7,345.3 L120.7,344.8 L121.0,344.3 L121.4,344.7 L121.0,345.3Z" stroke="#121212" fill="#000" fill-opacity="0.05"/>
<path d="M119.0,336.8 L118.4,336.5 L118.4,335.9 L119.4,336.0 L119.4,336.6Z" stroke="#101010" fill="#000" fill-opacity="0.05"/>
</g>
<g clip-path="url(#cb30)" fill="none" stroke-width="0.8">
<path d="M41.3,431.9 L40.3,432.2 L39.3,432.2 L38.3,432.1 L37.6,431.8 L37.0,431.5 L36.4,430.9 L36.0,430.4 L35.6,429.6 L35.4,428.9 L35.3,428.2 L35.0,427.2 L34.7,426.6 L34.3,425.9 L34.0,425.3 L33.6,424.8 L33.3,424.1 L33.2,423.2 L33.1,422.2 L33.1,421.2 L33.1,420.2 L33.1,419.2 L33.1,418.2 L33.1,417.2 L33.2,416.2 L33.3,415.2 L33.3,414.6 L33.3,413.9 L33.2,412.9 L33.1,411.9 L33.1,410.9 L33.1,409.9 L33.1,408.9 L33.2,407.9 L33.3,407.1 L33.8,406.6 L34.3,406.1 L35.0,405.7 L35.6,405.3 L36.3,404.9 L37.0,404.7 L37.6,404.5 L38.6,404.2 L39.3,404.1 L40.3,404.0 L41.3,404.0 L42.3,404.1 L43.3,404.2 L44.0,404.3 L45.0,404.5 L45.6,404.7 L46.3,404.9 L47.0,405.3 L47.6,405.6 L48.3,406.1 L48.8,406.6 L49.3,407.1 L49.6,407.6 L50.0,408.2 L50.3,408.9 L50.6,409.9 L50.7,410.6 L50.6,411.4 L50.5,412.2 L50.2,412.9 L49.9,413.6 L49.7,414.6 L50.0,415.5 L50.3,416.2 L50.5,416.9 L50.7,417.6 L50.9,418.6 L51.0,419.2 L51.0,420.2 L51.0,420.9 L50.8,421.9 L50.5,422.6 L50.2,423.2 L49.8,423.9 L49.3,424.6 L49.0,424.9 L48.3,425.6 L48.0,425.9 L47.3,426.5 L46.7,426.9 L46.3,427.2 L45.6,427.7 L45.0,428.2 L44.6,428.6 L44.0,429.2 L43.6,429.7 L43.3,430.2 L42.7,430.9 L42.3,431.3 L41.6,431.8Z" stroke="#666" fill="#000" fill-opacity="0.05"/>
<path d="M41.3,428.6 L40.3,428.9 L39.3,428.8 L38.6,428.6 L38.0,428.0 L37.5,427.6 L37.0,427.2 L36.4,426.6 L36.0,426.2 L35.4,425.6 L35.0,425.0 L34.6,424.5 L34.3,423.9 L33.9,423.2 L33.6,422.5 L33.4,421.6 L33.3,420.9 L33.3,419.9 L33.3,418.9 L33.3,418.1 L33.5,417.2 L33.7,416.6 L34.0,415.9 L34.3,415.0 L34.4,414.2 L34.2,413.6 L33.9,412.9 L33.6,412.2 L33.3,411.4 L33.3,410.6 L33.3,409.6 L33.3,408.9 L33.6,408.2 L34.0,407.6 L34.6,406.9 L35.0,406.6 L35.6,406.1 L36.3,405.7 L37.0,405.4 L37.6,405.2 L38.6,404.9 L39.3,404.8 L40.3,404.7 L41.3,404.7 L42.3,404.7 L43.3,404.9 L44.0,405.0 L44.9,405.2 L45.6,405.5 L46.3,405.8 L47.0,406.2 L47.6,406.6 L48.0,406.9 L48.6,407.6 L49.0,408.2 L49.3,408.8 L49.6,409.6 L49.7,410.2 L49.7,411.2 L49.6,411.9 L49.3,412.7 L49.0,413.4 L48.8,414.2 L48.9,415.2 L49.2,415.9 L49.4,416.6 L49.7,417.2 L49.9,418.2 L50.1,418.9 L50.1,419.9 L50.0,420.9 L49.9,421.6 L49.6,422.4 L49.3,423.0 L48.9,423.6 L48.4,424.2 L48.0,424.7 L47.4,425.2 L47.0,425.6 L46.3,426.1 L45.6,426.5 L45.0,426.9 L44.4,427.2 L43.7,427.6 L43.0,427.9 L42.3,428.2 L41.6,428.5Z" stroke="#5a5a5a" fill="#000" fill-opacity="0.05"/>
<path d="M42.3,427.0 L41.3,427.1 L40.3,427.1 L39.4,426.9 L38.6,426.6 L38.0,426.3 L37.3,425.9 L36.8,425.6 L36.3,425.1 L35.8,424.6 L35.3,423.9 L35.0,423.2 L34.7,422.6 L34.4,421.9 L34.3,421.2 L34.1,420.2 L34.1,419.2 L34.2,418.2 L34.4,417.6 L34.6,416.8 L35.0,415.9 L35.2,415.2 L35.3,414.6 L35.3,413.9 L35.0,413.1 L34.6,412.5 L34.3,411.6 L34.1,410.9 L34.1,409.9 L34.3,409.0 L34.6,408.2 L35.0,407.7 L35.4,407.2 L36.0,406.7 L36.6,406.3 L37.3,406.0 L38.0,405.8 L38.7,405.6 L39.6,405.4 L40.6,405.4 L41.6,405.4 L42.6,405.4 L43.5,405.6 L44.3,405.8 L45.0,406.1 L45.6,406.3 L46.3,406.7 L47.0,407.2 L47.4,407.6 L48.0,408.2 L48.3,408.8 L48.6,409.6 L48.8,410.2 L48.8,411.2 L48.6,411.9 L48.3,412.6 L48.0,413.4 L47.8,414.2 L47.9,415.2 L48.2,415.9 L48.5,416.6 L48.8,417.2 L49.0,418.0 L49.2,418.9 L49.2,419.9 L49.2,420.9 L49.0,421.7 L48.6,422.5 L48.3,423.0 L47.8,423.6 L47.3,424.1 L46.8,424.6 L46.3,425.0 L45.6,425.5 L45.0,425.9 L44.4,426.2 L43.7,426.6 L43.0,426.8 L42.3,427.0Z" stroke="#4e4e4e" fill="#000" fill-opacity="0.05"/>
<path d="M43.0,426.0 L42.0,426.1 L41.0,426.2 L40.0,426.0 L39.3,425.8 L38.6,425.6 L37.8,425.2 L37.3,424.9 L36.6,424.3 L36.3,423.9 L35.9,423.2 L35.5,422.6 L35.2,421.9 L35.0,420.9 L34.9,420.2 L34.9,419.2 L35.0,418.5 L35.2,417.6 L35.4,416.9 L35.7,416.2 L36.0,415.4 L36.1,414.6 L36.0,413.6 L35.7,412.9 L35.4,412.2 L35.1,411.6 L35.0,410.9 L35.0,410.0 L35.1,409.2 L35.4,408.6 L35.8,407.9 L36.3,407.3 L36.9,406.9 L37.6,406.6 L38.3,406.3 L39.0,406.2 L40.0,406.0 L41.0,406.0 L42.0,405.9 L43.0,406.1 L43.6,406.3 L44.5,406.6 L45.2,406.9 L45.8,407.2 L46.3,407.7 L46.9,408.2 L47.3,408.7 L47.6,409.3 L47.9,410.2 L48.0,410.9 L47.8,411.6 L47.6,412.2 L47.3,413.0 L47.0,413.8 L46.9,414.6 L47.0,415.2 L47.3,415.9 L47.6,416.7 L48.0,417.6 L48.1,418.2 L48.3,419.1 L48.4,419.9 L48.3,420.9 L48.2,421.6 L47.9,422.2 L47.4,422.9 L47.0,423.4 L46.4,423.9 L46.0,424.3 L45.3,424.8 L44.6,425.2 L44.0,425.6 L43.3,425.9Z" stroke="#444" fill="#000" fill-opacity="0.05"/>
<path d="M42.3,425.3 L41.3,425.4 L40.6,425.2 L40.0,424.8 L39.3,424.2 L38.6,424.2 L37.6,424.0 L37.1,423.6 L36.6,423.0 L36.3,422.6 L35.9,421.9 L35.6,421.2 L35.5,420.2 L35.6,419.2 L35.7,418.6 L36.0,417.9 L36.3,416.9 L36.5,416.2 L36.6,415.6 L36.8,414.6 L36.7,413.6 L36.4,412.9 L36.1,412.2 L35.8,411.6 L35.6,410.8 L35.6,410.2 L35.9,409.2 L36.2,408.6 L36.6,407.9 L37.0,407.6 L37.6,407.2 L38.6,406.9 L39.3,406.7 L40.0,406.5 L41.0,406.5 L42.0,406.5 L42.7,406.6 L43.6,406.9 L44.3,407.2 L45.0,407.6 L45.4,407.9 L46.0,408.5 L46.4,408.9 L46.8,409.6 L47.0,410.2 L47.1,411.2 L46.9,411.9 L46.6,412.7 L46.3,413.3 L46.0,413.9 L46.0,414.9 L46.3,415.6 L46.6,416.2 L47.0,416.8 L47.2,417.6 L47.4,418.2 L47.5,419.2 L47.4,420.2 L47.3,420.9 L47.0,421.9 L46.6,422.5 L46.3,422.9 L45.6,423.5 L45.0,423.9 L44.5,424.2 L44.0,424.7 L43.3,425.0 L42.4,425.2Z" stroke="#3a3a3a" fill="#000" fill-opacity="0.05"/>
<path d="M42.3,424.7 L41.3,424.8 L40.6,424.6 L40.0,424.0 L39.6,423.6 L39.2,422.9 L38.6,422.5 L38.0,422.8 L37.1,422.6 L36.6,422.1 L36.3,421.6 L36.0,420.6 L36.1,419.6 L36.3,418.9 L36.6,417.9 L36.8,417.2 L37.0,416.6 L37.3,415.6 L37.4,414.9 L37.4,413.9 L37.2,413.2 L36.9,412.6 L36.6,411.9 L36.3,411.2 L36.2,410.2 L36.4,409.6 L36.8,408.9 L37.2,408.2 L37.6,407.9 L38.6,407.6 L39.3,407.3 L40.0,407.0 L40.6,406.9 L41.6,406.9 L42.3,407.0 L43.2,407.2 L43.9,407.6 L44.3,407.9 L45.0,408.6 L45.3,409.0 L45.8,409.6 L46.2,410.2 L46.3,410.9 L46.3,411.6 L46.0,412.6 L45.6,413.0 L45.1,413.6 L44.9,414.2 L45.1,414.9 L45.5,415.6 L46.0,416.2 L46.3,416.7 L46.6,417.4 L46.8,418.2 L46.9,419.2 L46.7,420.2 L46.5,420.9 L46.3,421.6 L45.9,422.2 L45.3,422.9 L44.8,423.2 L44.2,423.6 L43.6,424.1 L43.0,424.5 L42.3,424.7Z" stroke="#333" fill="#000" fill-opacity="0.05"/>
<path d="M42.0,424.3 L41.0,424.3 L40.4,423.9 L40.0,423.4 L39.6,422.8 L39.3,422.1 L38.6,421.9 L38.0,422.1 L37.1,421.9 L36.6,421.4 L36.4,420.6 L36.6,419.6 L36.8,418.9 L37.0,418.2 L37.2,417.2 L37.4,416.6 L37.7,415.9 L37.9,414.9 L38.0,414.2 L37.9,413.6 L37.6,412.9 L37.2,412.2 L36.9,411.6 L36.7,410.6 L37.0,409.7 L37.3,409.1 L37.7,408.6 L38.6,408.3 L39.2,407.9 L39.7,407.6 L40.6,407.3 L41.6,407.3 L42.6,407.5 L43.3,407.8 L43.9,408.2 L44.3,408.8 L44.6,409.3 L45.1,409.9 L45.5,410.6 L45.6,411.2 L45.6,411.9 L45.0,412.6 L44.3,412.9 L44.0,413.6 L44.2,414.6 L44.5,415.2 L45.0,415.9 L45.3,416.3 L45.8,416.9 L46.2,417.6 L46.4,418.2 L46.4,419.2 L46.3,420.1 L46.0,420.9 L45.8,421.6 L45.4,422.2 L45.0,422.6 L44.3,423.0 L43.6,423.4 L43.0,423.9 L42.3,424.2Z" stroke="#2c2c2c" fill="#000" fill-opacity="0.05"/>
<path d="M42.0,423.9 L41.2,423.9 L40.6,423.6 L40.1,422.9 L39.7,422.2 L39.3,421.6 L38.6,421.5 L38.0,421.6 L37.3,421.4 L36.9,420.9 L36.9,419.9 L37.2,419.2 L37.3,418.6 L37.5,417.6 L37.7,416.9 L38.0,416.2 L38.3,415.4 L38.6,414.6 L38.8,413.9 L38.6,413.2 L38.0,412.6 L37.6,412.1 L37.3,411.2 L37.3,410.8 L37.6,409.9 L38.0,409.5 L38.6,409.1 L39.3,408.6 L39.6,408.2 L40.3,407.7 L41.3,407.6 L42.3,407.9 L43.0,408.2 L43.4,408.6 L43.9,409.2 L44.3,409.9 L44.6,410.6 L44.8,411.2 L44.3,411.7 L43.3,411.7 L42.3,411.7 L41.6,412.2 L42.2,412.9 L42.7,413.2 L43.2,413.9 L43.4,414.6 L43.6,415.4 L44.0,415.9 L44.5,416.6 L44.7,417.2 L45.3,417.8 L45.7,418.2 L46.0,419.2 L45.9,420.2 L45.6,420.9 L45.3,421.6 L44.7,422.2 L44.0,422.6 L43.4,422.9 L43.0,423.3 L42.3,423.8Z" stroke="#262626" fill="#000" fill-opacity="0.05"/>
<path d="M43.0,421.6 L42.6,421.0 L42.2,421.6 L43.0,421.7Z" stroke="#262626" fill="#000" fill-opacity="0.05"/>
<path d="M41.6,423.6 L41.0,423.4 L40.4,422.9 L40.1,422.2 L39.7,421.6 L39.3,421.2 L38.3,421.2 L37.4,420.9 L37.3,420.2 L37.4,419.6 L37.6,418.7 L37.7,417.9 L38.0,417.0 L38.3,416.3 L38.6,415.6 L39.0,414.9 L39.3,414.5 L40.0,414.0 L40.3,413.6 L40.0,413.1 L39.3,412.9 L38.6,412.6 L38.0,411.9 L37.8,411.2 L38.0,410.5 L38.5,409.9 L39.0,409.6 L39.6,409.0 L40.0,408.5 L40.6,408.0 L41.6,408.1 L42.3,408.3 L43.0,408.8 L43.3,409.3 L43.6,409.9 L43.7,410.9 L43.0,411.1 L42.0,411.2 L41.3,411.5 L40.9,411.9 L40.8,412.9 L41.3,413.2 L42.1,413.6 L42.6,414.2 L42.7,414.9 L42.9,415.9 L43.3,416.2 L43.8,416.9 L43.8,417.9 L43.6,418.6 L44.3,418.8 L45.3,418.9 L45.6,419.6 L45.4,420.6 L45.0,421.2 L44.6,421.6 L43.9,421.6 L43.6,420.7 L43.0,420.4 L42.3,420.6 L41.8,421.2 L41.9,422.2 L42.3,422.6 L42.3,423.3 L41.6,423.6Z" stroke="#222" fill="#000" fill-opacity="0.05"/>
<path d="M41.5,418.9 L41.8,418.2 L41.4,417.6 L41.0,417.7 L40.7,418.6 L41.3,419.0Z" stroke="#222" fill="#000" fill-opacity="0.05"/>
<path d="M39.6,412.3 L39.0,412.2 L38.3,411.6 L38.3,411.0 L38.6,410.5 L39.3,410.1 L40.0,409.6 L40.3,408.9 L40.6,408.5 L41.6,408.5 L42.3,408.9 L42.6,409.2 L43.0,409.9 L42.7,410.6 L42.0,410.7 L41.0,410.8 L40.5,411.2 L40.2,411.9 L39.6,412.3Z" stroke="#1e1e1e" fill="#000" fill-opacity="0.05"/>
<path d="M41.3,422.6 L40.6,422.5 L40.3,421.9 L39.9,421.2 L39.3,420.8 L38.3,420.8 L37.7,420.2 L37.8,419.2 L37.9,418.2 L38.0,417.6 L38.3,416.9 L38.7,416.2 L39.2,415.6 L39.6,415.2 L40.3,415.6 L40.4,416.2 L40.6,417.2 L40.4,418.2 L40.4,419.2 L41.3,419.5 L42.0,419.2 L42.7,419.2 L42.6,419.9 L42.0,420.3 L41.5,420.9 L41.3,421.6 L41.3,422.5Z" stroke="#1e1e1e" fill="#000" fill-opacity="0.05"/>
<path d="M42.6,418.3 L42.3,417.9 L42.2,416.9 L43.0,416.8 L43.3,417.2 L43.1,417.9 L42.6,418.3Z" stroke="#1e1e1e" fill="#000" fill-opacity="0.05"/>
<path d="M44.6,420.6 L44.2,420.2 L44.4,419.6 L45.0,419.6 L45.0,420.3Z" stroke="#1e1e1e" fill="#000" fill-opacity="0.05"/>
<path d="M41.6,410.0 L41.1,409.6 L41.6,409.2 L42.0,409.6 L41.6,410.0Z" stroke="#1a1a1a" fill="#000" fill-opacity="0.05"/>
<path d="M39.6,411.6 L38.9,411.6 L39.0,410.9 L39.7,410.9 L39.6,411.6Z" stroke="#1a1a1a" fill="#000" fill-opacity="0.05"/>
<path d="M40.6,421.5 L40.1,420.9 L39.6,420.4 L38.6,420.5 L38.1,419.9 L38.1,418.9 L38.2,417.9 L38.3,417.2 L38.8,416.6 L39.3,416.1 L40.0,416.4 L40.3,417.2 L40.3,417.8 L40.1,418.6 L40.0,419.6 L40.6,420.0 L41.2,420.6 L41.0,421.2Z" stroke="#1a1a1a" fill="#000" fill-opacity="0.05"/>
<path d="M39.0,420.0 L38.5,419.6 L38.4,418.6 L38.4,417.6 L38.8,416.9 L39.3,416.6 L39.9,416.9 L40.1,417.6 L40.0,418.3 L39.6,419.2 L39.3,419.8Z" stroke="#161616" fill="#000" fill-opacity="0.05"/>
<path d="M39.0,419.3 L38.6,418.8 L38.5,417.9 L38.8,417.2 L39.3,416.8 L39.9,417.2 L39.8,418.2 L39.4,418.9 L39.0,419.3Z" stroke="#141414" fill="#000" fill-opacity="0.05"/>
<path d="M39.3,418.7 L38.7,418.2 L39.0,417.2 L39.6,417.2 L39.7,417.9 L39.4,418.6Z" stroke="#121212" fill="#000" fill-opacity="0.05"/>
<path d="M39.3,418.4 L38.9,417.9 L39.3,417.3 L39.4,418.2Z" stroke="#101010" fill="#000" fill-opacity="0.05"/>
</g>
<g clip-path="url(#cb31)" fill="none" stroke-width="0.8">
<path d="M116.4,432.6 L115.4,432.6 L114.7,432.5 L114.0,432.2 L113.4,431.7 L112.9,431.2 L112.4,430.6 L112.1,429.9 L111.9,429.2 L111.7,428.4 L111.5,427.6 L111.3,426.9 L110.9,426.2 L110.5,425.6 L110.1,424.9 L109.7,424.4 L109.6,423.6 L109.5,422.6 L109.5,421.6 L109.4,420.6 L109.4,419.6 L109.4,418.6 L109.5,417.6 L109.5,416.6 L109.6,415.6 L109.7,414.6 L109.6,413.6 L109.5,412.6 L109.5,411.6 L109.5,410.6 L109.5,409.6 L109.5,408.6 L109.6,407.6 L109.9,406.9 L110.4,406.5 L111.0,406.0 L111.6,405.6 L112.2,405.2 L113.0,404.9 L113.7,404.6 L114.4,404.4 L115.1,404.2 L116.0,404.1 L117.0,404.0 L118.0,404.0 L119.0,404.1 L120.0,404.2 L120.7,404.4 L121.4,404.6 L122.4,404.9 L123.0,405.2 L123.7,405.5 L124.3,405.9 L124.7,406.2 L125.4,406.8 L125.8,407.2 L126.2,407.9 L126.6,408.6 L126.8,409.2 L127.0,410.2 L126.9,411.2 L126.7,412.1 L126.4,412.9 L126.1,413.6 L125.9,414.2 L126.0,415.0 L126.4,415.9 L126.7,416.6 L126.9,417.2 L127.1,417.9 L127.2,418.9 L127.3,419.9 L127.2,420.9 L127.0,421.7 L126.7,422.6 L126.4,423.2 L126.0,423.9 L125.7,424.3 L125.2,424.9 L124.7,425.4 L124.2,425.9 L123.7,426.3 L123.0,426.8 L122.4,427.2 L122.0,427.6 L121.4,428.1 L120.8,428.6 L120.4,429.1 L120.0,429.6 L119.5,430.2 L119.0,430.9 L118.7,431.3 L118.0,431.9 L117.5,432.2 L116.7,432.6Z" stroke="#666" fill="#000" fill-opacity="0.05"/>
<path d="M117.0,429.0 L116.0,429.2 L115.0,428.9 L114.6,428.6 L114.0,428.0 L113.7,427.6 L113.1,426.9 L112.7,426.5 L112.1,425.9 L111.7,425.4 L111.3,424.9 L110.7,424.2 L110.4,423.7 L110.0,423.2 L109.7,422.5 L109.6,421.6 L109.5,420.6 L109.5,419.6 L109.6,418.6 L109.7,417.6 L109.8,416.9 L110.1,416.2 L110.4,415.6 L110.6,414.6 L110.4,413.6 L110.1,412.9 L109.8,412.2 L109.7,411.6 L109.6,410.6 L109.7,409.6 L109.8,408.9 L110.0,408.2 L110.5,407.6 L111.0,407.0 L111.5,406.6 L112.0,406.2 L112.7,405.8 L113.4,405.5 L114.0,405.2 L115.0,404.9 L115.7,404.8 L116.7,404.7 L117.7,404.6 L118.7,404.7 L119.7,404.9 L120.4,405.0 L121.2,405.2 L122.0,405.6 L122.7,405.9 L123.4,406.2 L123.9,406.6 L124.4,407.0 L124.9,407.6 L125.4,408.2 L125.7,408.9 L125.9,409.6 L126.0,410.6 L125.9,411.6 L125.7,412.2 L125.4,412.9 L125.0,413.6 L124.9,414.6 L125.1,415.2 L125.4,415.9 L125.7,416.7 L126.0,417.6 L126.2,418.2 L126.4,419.2 L126.4,419.9 L126.4,420.6 L126.2,421.6 L125.9,422.2 L125.6,422.9 L125.1,423.6 L124.7,424.1 L124.3,424.6 L123.7,425.2 L123.2,425.6 L122.7,425.9 L122.0,426.4 L121.4,426.8 L120.7,427.2 L120.0,427.5 L119.4,427.9 L118.7,428.2 L118.0,428.5 L117.4,428.9Z" stroke="#5a5a5a" fill="#000" fill-opacity="0.05"/>
<path d="M118.7,426.9 L117.7,427.1 L116.7,427.1 L115.9,426.9 L115.0,426.6 L114.4,426.2 L113.8,425.9 L113.3,425.6 L112.7,425.1 L112.2,424.6 L111.7,424.0 L111.4,423.6 L110.9,422.9 L110.5,422.2 L110.2,421.6 L110.0,420.9 L109.9,419.9 L110.0,418.9 L110.2,418.2 L110.5,417.6 L110.8,416.9 L111.1,416.2 L111.4,415.6 L111.6,414.6 L111.5,413.6 L111.1,412.9 L110.8,412.2 L110.6,411.6 L110.4,410.6 L110.5,409.6 L110.7,408.9 L111.0,408.2 L111.5,407.6 L112.0,407.1 L112.7,406.6 L113.4,406.3 L114.0,405.9 L114.7,405.7 L115.4,405.5 L116.4,405.4 L117.4,405.4 L118.4,405.3 L119.4,405.4 L120.0,405.6 L121.0,405.9 L121.7,406.2 L122.4,406.5 L123.0,406.9 L123.5,407.2 L124.0,407.8 L124.4,408.2 L124.7,408.9 L125.0,409.9 L125.1,410.6 L125.0,411.3 L124.7,412.2 L124.4,412.9 L124.1,413.6 L123.9,414.2 L124.0,415.2 L124.4,415.9 L124.7,416.6 L125.0,417.2 L125.2,417.9 L125.4,418.6 L125.5,419.6 L125.5,420.6 L125.3,421.2 L125.0,422.1 L124.7,422.7 L124.4,423.2 L123.8,423.9 L123.4,424.3 L122.7,424.9 L122.1,425.2 L121.6,425.6 L121.0,425.9 L120.4,426.3 L119.7,426.6 L118.8,426.9Z" stroke="#4e4e4e" fill="#000" fill-opacity="0.05"/>
<path d="M119.4,425.9 L118.4,426.2 L117.4,426.2 L116.4,426.0 L115.7,425.9 L115.0,425.6 L114.3,425.2 L113.7,424.8 L113.0,424.3 L112.7,423.9 L112.1,423.2 L111.7,422.7 L111.4,422.2 L111.0,421.6 L110.7,420.8 L110.6,419.9 L110.7,419.2 L111.0,418.3 L111.3,417.6 L111.6,416.9 L111.9,416.2 L112.2,415.6 L112.4,414.9 L112.4,413.9 L112.1,413.2 L111.8,412.6 L111.5,411.9 L111.3,411.2 L111.2,410.2 L111.4,409.3 L111.6,408.6 L112.0,408.0 L112.5,407.6 L113.0,407.2 L113.7,406.8 L114.4,406.4 L115.0,406.1 L116.0,406.0 L117.0,406.0 L118.0,406.0 L119.0,406.0 L120.0,406.1 L120.7,406.3 L121.4,406.7 L122.0,407.2 L122.6,407.6 L123.0,407.9 L123.6,408.6 L123.9,409.2 L124.2,409.9 L124.3,410.9 L124.0,411.9 L123.7,412.6 L123.4,413.2 L123.1,413.9 L123.0,414.6 L123.1,415.2 L123.5,415.9 L123.8,416.6 L124.1,417.2 L124.4,418.1 L124.6,418.9 L124.7,419.9 L124.7,420.9 L124.4,421.9 L124.0,422.5 L123.7,423.0 L123.1,423.6 L122.7,424.0 L122.0,424.5 L121.4,424.9 L120.8,425.2 L120.1,425.6 L119.4,425.9Z" stroke="#444" fill="#000" fill-opacity="0.05"/>
<path d="M120.1,420.6 L120.4,420.2 L119.7,419.7 L119.0,419.9 L118.6,420.6 L119.4,420.7 L120.1,420.6Z" stroke="#444" fill="#000" fill-opacity="0.05"/>
<path d="M119.0,425.3 L118.0,425.4 L117.0,425.4 L116.1,425.2 L115.4,425.0 L114.7,424.6 L114.3,424.2 L113.9,423.6 L114.1,422.9 L113.7,422.6 L113.0,422.7 L112.4,422.2 L112.0,421.8 L111.7,421.2 L111.4,420.4 L111.4,419.6 L111.5,418.9 L111.7,418.2 L112.0,417.5 L112.4,416.7 L112.7,416.0 L113.0,415.3 L113.2,414.6 L113.0,413.7 L112.7,413.0 L112.4,412.4 L112.1,411.6 L111.9,410.9 L111.9,409.9 L112.1,409.2 L112.4,408.6 L113.0,407.9 L113.7,407.6 L114.2,407.2 L114.7,406.9 L115.4,406.6 L116.4,406.5 L117.0,406.6 L118.0,406.6 L118.7,406.5 L119.7,406.5 L120.4,406.8 L121.0,407.2 L121.4,407.6 L121.8,408.2 L122.4,408.8 L122.9,409.2 L123.3,409.9 L123.4,410.6 L123.3,411.2 L123.0,412.1 L122.7,412.8 L122.4,413.5 L122.1,414.2 L122.2,415.2 L122.5,415.9 L122.9,416.6 L123.1,417.2 L123.4,418.1 L123.7,418.9 L123.9,419.6 L124.0,420.6 L123.8,421.6 L123.5,422.2 L123.0,422.8 L122.6,423.2 L122.0,423.7 L121.4,424.2 L120.7,424.6 L120.1,424.9 L119.4,425.2Z" stroke="#3a3a3a" fill="#000" fill-opacity="0.05"/>
<path d="M120.1,420.9 L120.7,420.4 L120.7,419.9 L120.0,419.4 L119.0,419.5 L118.4,419.9 L117.9,420.2 L117.6,420.9 L118.4,421.1 L119.4,421.0 L120.1,420.9Z" stroke="#3a3a3a" fill="#000" fill-opacity="0.05"/>
<path d="M119.4,424.6 L118.4,424.8 L117.4,424.8 L116.4,424.7 L115.7,424.4 L115.1,423.9 L115.0,423.2 L115.1,422.6 L115.0,421.8 L114.4,421.4 L113.4,421.5 L112.7,421.2 L112.3,420.6 L112.1,419.6 L112.2,418.6 L112.4,417.9 L112.7,417.2 L113.0,416.5 L113.4,415.9 L113.8,415.2 L113.9,414.2 L113.6,413.6 L113.2,412.9 L112.8,412.2 L112.6,411.6 L112.5,410.6 L112.6,409.6 L112.9,408.9 L113.4,408.4 L114.0,408.1 L114.7,407.7 L115.3,407.2 L116.0,407.1 L116.9,407.2 L117.5,407.6 L118.0,407.6 L118.7,407.1 L119.7,407.1 L120.4,407.4 L120.9,407.9 L121.3,408.6 L121.7,409.0 L122.3,409.6 L122.6,410.2 L122.5,411.2 L122.2,411.9 L121.7,412.6 L121.4,413.2 L121.2,413.9 L121.3,414.9 L121.6,415.6 L121.9,416.2 L122.2,416.9 L122.5,417.6 L122.7,418.2 L123.0,418.9 L123.3,419.9 L123.4,420.6 L123.4,421.2 L123.0,422.0 L122.5,422.6 L122.0,423.0 L121.4,423.4 L120.7,423.8 L120.1,424.2 L119.4,424.6Z" stroke="#333" fill="#000" fill-opacity="0.05"/>
<path d="M120.1,421.2 L120.8,420.9 L121.1,420.2 L120.8,419.6 L120.3,419.2 L119.4,419.1 L118.7,419.3 L118.0,419.6 L117.4,420.1 L117.0,420.6 L117.1,421.2 L118.0,421.4 L119.0,421.4 L120.0,421.3Z" stroke="#333" fill="#000" fill-opacity="0.05"/>
<path d="M118.4,424.3 L117.4,424.3 L116.7,424.2 L116.0,423.9 L115.6,423.2 L115.6,422.2 L115.5,421.2 L114.7,420.9 L114.0,420.8 L113.4,420.6 L112.9,419.9 L112.7,418.9 L113.0,417.9 L113.2,417.2 L113.5,416.6 L114.0,415.9 L114.4,415.6 L115.0,414.9 L114.7,414.2 L114.1,413.6 L113.7,413.0 L113.4,412.4 L113.0,411.6 L112.9,410.9 L113.0,410.1 L113.3,409.2 L113.7,408.9 L114.4,408.5 L115.0,408.1 L115.7,407.7 L116.7,407.8 L117.2,408.2 L117.6,408.9 L118.0,409.4 L118.4,408.9 L118.7,408.1 L119.2,407.6 L119.7,407.6 L120.4,407.9 L120.9,408.6 L121.4,409.2 L121.7,409.6 L122.1,410.2 L122.0,410.9 L121.7,411.6 L121.1,412.2 L120.7,412.9 L120.5,413.6 L120.5,414.6 L120.8,415.2 L121.1,415.9 L121.5,416.6 L121.8,417.2 L122.1,417.9 L122.4,418.6 L122.7,419.5 L122.8,420.2 L122.8,421.2 L122.4,421.9 L122.0,422.3 L121.4,422.7 L120.7,423.0 L120.0,423.5 L119.5,423.9 L118.7,424.2Z" stroke="#2c2c2c" fill="#000" fill-opacity="0.05"/>
<path d="M120.4,421.6 L121.1,421.2 L121.6,420.6 L121.4,419.8 L120.8,419.2 L120.3,418.9 L119.4,418.8 L118.7,418.9 L117.7,419.1 L117.2,419.6 L116.7,420.2 L116.4,420.9 L116.4,421.3 L117.0,421.7 L118.0,421.8 L119.0,421.7 L120.0,421.6Z" stroke="#2c2c2c" fill="#000" fill-opacity="0.05"/>
<path d="M119.0,414.4 L118.0,414.5 L117.1,414.2 L116.4,414.1 L115.4,414.0 L114.7,413.6 L114.4,413.2 L113.9,412.6 L113.5,411.9 L113.4,411.2 L113.4,410.5 L113.7,409.6 L114.1,409.2 L114.7,408.9 L115.4,408.4 L116.0,408.2 L116.7,408.4 L117.1,408.9 L117.5,409.6 L117.7,410.3 L118.4,410.6 L118.7,410.2 L118.8,409.2 L119.0,408.6 L119.7,408.1 L120.4,408.5 L120.7,408.9 L121.2,409.6 L121.5,410.2 L121.4,411.1 L121.0,411.6 L120.6,412.2 L120.2,412.9 L119.8,413.6 L119.4,414.2Z" stroke="#262626" fill="#000" fill-opacity="0.05"/>
<path d="M121.7,419.1 L121.0,418.9 L120.4,418.6 L119.4,418.4 L118.7,418.2 L118.3,417.6 L118.3,416.6 L118.6,415.9 L119.0,415.4 L119.7,415.1 L120.2,415.6 L120.7,416.2 L121.0,416.9 L121.4,417.5 L121.6,418.2 L121.8,418.9Z" stroke="#262626" fill="#000" fill-opacity="0.05"/>
<path d="M115.7,420.3 L115.0,420.2 L114.3,419.9 L113.8,419.2 L113.9,418.2 L113.9,417.2 L114.2,416.6 L114.7,416.1 L115.7,416.0 L116.4,416.5 L116.4,417.2 L116.5,418.2 L116.6,419.2 L116.3,419.9 L115.7,420.3Z" stroke="#262626" fill="#000" fill-opacity="0.05"/>
<path d="M118.7,423.7 L117.7,423.8 L116.7,423.7 L116.2,423.2 L116.4,422.3 L117.0,422.2 L118.0,422.1 L119.0,422.1 L119.7,422.4 L119.6,422.9 L119.0,423.5Z" stroke="#262626" fill="#000" fill-opacity="0.05"/>
<path d="M119.0,413.6 L118.1,413.6 L117.6,413.2 L116.7,413.1 L116.0,413.5 L115.0,413.4 L114.5,412.9 L114.0,412.3 L113.7,411.6 L113.6,410.9 L113.7,410.2 L114.2,409.6 L114.7,409.2 L115.4,408.8 L116.4,408.6 L117.0,409.2 L117.2,409.9 L117.5,410.6 L118.0,411.0 L118.7,410.9 L119.1,410.2 L119.2,409.2 L119.7,408.6 L120.4,409.0 L120.8,409.6 L121.1,410.2 L120.9,410.9 L120.5,411.6 L120.2,412.2 L119.8,412.9 L119.4,413.4Z" stroke="#222" fill="#000" fill-opacity="0.05"/>
<path d="M120.7,417.9 L119.7,417.9 L119.0,417.7 L118.8,416.9 L119.3,416.2 L119.9,416.2 L120.4,416.8 L120.7,417.5 L120.7,417.9Z" stroke="#222" fill="#000" fill-opacity="0.05"/>
<path d="M115.4,417.7 L115.0,417.2 L115.4,416.8 L115.7,417.2 L115.4,417.7Z" stroke="#222" fill="#000" fill-opacity="0.05"/>
<path d="M117.7,423.3 L117.1,422.9 L118.0,422.6 L118.4,423.1 L117.7,423.3Z" stroke="#222" fill="#000" fill-opacity="0.05"/>
<path d="M119.4,413.0 L118.4,413.2 L117.7,412.7 L117.0,412.6 L116.4,412.9 L115.7,413.2 L115.0,412.9 L114.4,412.3 L114.0,411.6 L113.9,410.9 L114.0,410.2 L114.7,409.6 L115.3,409.2 L116.0,409.0 L116.7,409.5 L117.0,410.2 L117.4,410.9 L117.7,411.2 L118.7,411.3 L119.4,411.0 L119.6,410.2 L119.7,409.3 L120.4,409.7 L120.4,410.6 L120.1,411.2 L120.0,411.9 L119.7,412.6Z" stroke="#1e1e1e" fill="#000" fill-opacity="0.05"/>
<path d="M119.0,412.8 L118.1,412.6 L117.7,412.0 L116.9,412.2 L116.3,412.6 L115.4,412.8 L114.7,412.3 L114.4,411.8 L114.1,410.9 L114.4,410.2 L115.0,409.7 L115.7,409.4 L116.4,409.6 L116.8,410.2 L117.1,410.9 L117.5,411.6 L118.4,411.7 L119.0,411.5 L119.6,411.9 L119.3,412.6Z" stroke="#1a1a1a" fill="#000" fill-opacity="0.05"/>
<path d="M116.0,412.4 L115.0,412.3 L114.7,411.9 L114.4,411.0 L114.4,410.6 L115.0,409.9 L115.7,409.8 L116.4,410.1 L116.7,410.7 L117.0,411.6 L116.4,412.2Z" stroke="#161616" fill="#000" fill-opacity="0.05"/>
<path d="M115.7,412.3 L115.0,412.0 L114.7,411.5 L114.7,410.6 L115.0,410.2 L116.0,410.2 L116.4,410.6 L116.7,411.6 L116.0,412.1Z" stroke="#141414" fill="#000" fill-opacity="0.05"/>
<path d="M115.7,412.0 L115.0,411.7 L114.8,410.9 L115.4,410.3 L116.1,410.6 L116.4,411.2 L116.0,411.9Z" stroke="#121212" fill="#000" fill-opacity="0.05"/>
<path d="M116.0,411.6 L115.3,411.6 L115.0,410.9 L115.4,410.5 L116.0,410.8 L116.1,411.6Z" stroke="#101010" fill="#000" fill-opacity="0.05"/>
</g>
<g clip-path="url(#cb40)" fill="none" stroke-width="0.8">
<path d="M43.0,511.5 L42.0,511.6 L41.3,511.5 L40.3,511.3 L39.6,511.0 L39.0,510.7 L38.3,510.3 L37.7,509.8 L37.3,509.4 L36.8,508.8 L36.3,508.2 L36.0,507.8 L35.6,507.2 L35.2,506.5 L34.8,505.8 L34.5,505.2 L34.2,504.5 L34.0,503.7 L33.8,502.8 L33.6,501.8 L33.6,501.2 L33.6,500.2 L33.6,499.2 L33.6,498.5 L33.7,497.5 L33.7,496.5 L33.8,495.5 L33.8,494.5 L33.8,493.5 L33.8,492.5 L33.9,491.5 L34.0,490.6 L34.1,489.8 L34.2,488.8 L34.3,488.2 L34.6,487.2 L34.8,486.5 L35.0,485.8 L35.3,485.0 L35.6,484.3 L36.0,483.6 L36.3,482.9 L36.6,482.4 L37.0,481.8 L37.5,481.2 L38.0,480.6 L38.4,480.2 L39.0,479.7 L39.6,479.3 L40.3,478.9 L41.0,478.7 L41.6,478.5 L42.6,478.3 L43.6,478.2 L44.3,478.1 L45.3,478.2 L46.0,478.3 L46.7,478.5 L47.4,478.8 L48.0,479.2 L48.6,479.6 L49.2,480.2 L49.6,480.5 L50.2,481.2 L50.6,481.7 L51.0,482.2 L51.5,482.8 L51.9,483.5 L52.2,484.2 L52.5,484.8 L52.8,485.5 L53.0,486.2 L53.3,487.1 L53.5,487.8 L53.6,488.8 L53.7,489.5 L53.8,490.5 L53.9,491.5 L53.9,492.5 L53.9,493.5 L53.8,494.5 L53.7,495.5 L53.6,496.2 L53.3,497.2 L53.2,497.8 L53.0,498.6 L52.7,499.5 L52.5,500.2 L52.2,500.8 L51.9,501.5 L51.6,502.2 L51.3,502.8 L50.9,503.5 L50.5,504.2 L50.1,504.8 L49.7,505.5 L49.3,506.2 L49.0,506.7 L48.6,507.3 L48.3,507.8 L47.8,508.5 L47.3,509.1 L46.9,509.5 L46.3,510.0 L45.6,510.5 L45.1,510.8 L44.3,511.2 L43.6,511.4 L43.0,511.5Z" stroke="#666" fill="#000" fill-opacity="0.05"/>
<path d="M41.4,494.5 L40.9,494.5 L41.4,494.5Z" stroke="#666" fill="#000" fill-opacity="0.05"/>
<path d="M44.0,509.2 L43.0,509.5 L42.0,509.5 L41.0,509.4 L40.3,509.2 L39.5,508.8 L39.0,508.5 L38.3,508.0 L37.8,507.5 L37.3,507.0 L37.0,506.5 L36.5,505.8 L36.1,505.2 L35.7,504.5 L35.5,503.8 L35.3,503.2 L35.0,502.2 L34.9,501.5 L34.8,500.5 L34.8,499.5 L34.8,498.5 L34.9,497.5 L34.9,496.5 L34.8,495.5 L34.8,494.5 L34.8,493.5 L34.8,492.5 L34.9,491.5 L35.0,490.8 L35.1,489.8 L35.3,488.8 L35.4,488.2 L35.6,487.3 L35.9,486.5 L36.2,485.8 L36.4,485.2 L36.7,484.5 L37.1,483.8 L37.5,483.2 L37.9,482.5 L38.3,482.0 L38.8,481.5 L39.3,481.1 L40.0,480.6 L40.6,480.3 L41.3,480.0 L42.3,479.8 L43.0,479.8 L44.0,479.7 L45.0,479.8 L45.6,479.9 L46.4,480.2 L47.1,480.5 L47.6,480.8 L48.3,481.3 L48.9,481.8 L49.3,482.2 L49.9,482.8 L50.3,483.4 L50.6,483.8 L51.1,484.5 L51.4,485.2 L51.7,485.8 L52.0,486.5 L52.3,487.5 L52.5,488.2 L52.6,488.8 L52.8,489.8 L52.9,490.8 L53.0,491.8 L53.0,492.5 L53.0,493.4 L52.9,494.2 L52.8,495.2 L52.6,495.9 L52.4,496.8 L52.3,497.5 L52.0,498.5 L51.8,499.2 L51.6,499.8 L51.3,500.6 L51.0,501.3 L50.6,501.9 L50.3,502.5 L49.8,503.2 L49.4,503.8 L49.0,504.4 L48.6,504.9 L48.2,505.5 L47.7,506.2 L47.3,506.7 L46.9,507.2 L46.3,507.8 L45.9,508.2 L45.3,508.6 L44.6,509.0 L44.0,509.2Z" stroke="#5a5a5a" fill="#000" fill-opacity="0.05"/>
<path d="M41.6,494.5 L41.1,494.2 L41.0,494.7Z" stroke="#5a5a5a" fill="#000" fill-opacity="0.05"/>
<path d="M44.0,507.2 L43.0,507.4 L42.0,507.4 L41.0,507.2 L40.3,506.9 L39.7,506.5 L39.1,506.2 L38.6,505.8 L38.1,505.2 L37.6,504.6 L37.3,504.1 L37.0,503.5 L36.6,502.8 L36.3,501.8 L36.2,501.2 L36.1,500.2 L36.0,499.2 L36.0,498.2 L36.0,497.4 L35.9,496.5 L35.8,495.5 L35.8,494.5 L35.8,493.5 L35.8,492.5 L35.9,491.5 L36.0,490.7 L36.1,489.8 L36.3,488.8 L36.4,488.2 L36.7,487.5 L37.0,486.7 L37.3,486.0 L37.6,485.3 L38.0,484.6 L38.3,484.0 L38.6,483.5 L39.1,482.8 L39.6,482.4 L40.3,481.9 L41.0,481.5 L41.6,481.3 L42.6,481.2 L43.6,481.2 L44.6,481.3 L45.3,481.5 L46.1,481.8 L46.8,482.2 L47.3,482.5 L48.0,483.0 L48.6,483.5 L49.0,483.8 L49.6,484.5 L50.0,485.1 L50.3,485.7 L50.6,486.4 L50.9,487.2 L51.2,487.8 L51.5,488.5 L51.7,489.2 L51.9,490.2 L52.0,490.8 L52.0,491.8 L52.1,492.8 L52.1,493.8 L52.0,494.6 L51.8,495.5 L51.6,496.3 L51.4,497.2 L51.2,497.8 L51.0,498.8 L50.8,499.5 L50.5,500.2 L50.2,500.8 L49.8,501.5 L49.4,502.2 L49.0,502.7 L48.6,503.2 L48.1,503.8 L47.6,504.3 L47.1,504.8 L46.6,505.3 L46.1,505.8 L45.6,506.3 L45.0,506.7 L44.3,507.1Z" stroke="#4e4e4e" fill="#000" fill-opacity="0.05"/>
<path d="M41.6,494.8 L41.7,494.2 L41.0,494.0 L40.6,494.5 L41.0,494.9Z" stroke="#4e4e4e" fill="#000" fill-opacity="0.05"/>
<path d="M44.0,505.2 L43.0,505.3 L42.0,505.4 L41.1,505.2 L40.5,504.8 L40.0,504.3 L39.5,503.8 L39.0,503.4 L38.3,502.8 L38.0,502.4 L37.6,501.8 L37.3,500.8 L37.1,500.2 L37.0,499.3 L36.9,498.5 L36.8,497.5 L36.7,496.5 L36.6,495.8 L36.5,494.8 L36.6,493.8 L36.6,492.8 L36.6,492.1 L36.7,491.2 L36.9,490.2 L37.0,489.5 L37.3,488.5 L37.5,487.8 L37.7,487.2 L38.1,486.5 L38.4,485.8 L38.8,485.2 L39.2,484.5 L39.6,483.8 L40.0,483.4 L40.6,482.9 L41.3,482.5 L42.0,482.4 L43.0,482.4 L44.0,482.5 L44.6,482.6 L45.5,482.8 L46.1,483.2 L46.6,483.5 L47.3,484.1 L47.8,484.5 L48.3,484.9 L48.9,485.5 L49.3,486.1 L49.6,486.8 L49.9,487.5 L50.1,488.2 L50.5,488.8 L50.8,489.5 L51.0,490.2 L51.2,491.2 L51.3,492.2 L51.3,492.8 L51.3,493.8 L51.2,494.5 L51.0,495.5 L50.9,496.2 L50.6,497.1 L50.4,497.8 L50.2,498.5 L50.0,499.5 L49.7,500.2 L49.3,500.8 L49.0,501.4 L48.6,501.8 L48.1,502.5 L47.6,503.0 L47.2,503.5 L46.6,504.0 L46.0,504.5 L45.3,504.8 L44.6,505.1 L44.0,505.2Z" stroke="#444" fill="#000" fill-opacity="0.05"/>
<path d="M41.9,494.8 L42.0,494.3 L41.6,493.8 L40.9,493.8 L40.3,494.5 L40.4,494.8 L41.3,495.1Z" stroke="#444" fill="#000" fill-opacity="0.05"/>
<path d="M43.6,503.6 L42.6,503.7 L41.6,503.6 L41.1,503.2 L40.6,502.8 L40.0,502.2 L39.4,501.8 L39.0,501.4 L38.6,500.8 L38.2,500.2 L37.9,499.5 L37.6,498.6 L37.6,497.8 L37.5,496.8 L37.3,495.9 L37.2,495.2 L37.2,494.2 L37.3,493.5 L37.4,492.5 L37.4,491.5 L37.5,490.5 L37.7,489.8 L38.0,489.2 L38.2,488.2 L38.5,487.5 L38.8,486.8 L39.2,486.2 L39.6,485.6 L40.0,485.2 L40.4,484.5 L41.0,483.8 L41.6,483.5 L42.3,483.4 L43.0,483.5 L44.0,483.6 L44.8,483.8 L45.4,484.2 L46.0,484.6 L46.6,485.1 L47.3,485.5 L47.6,485.8 L48.3,486.5 L48.6,487.0 L49.0,487.7 L49.3,488.5 L49.6,489.2 L50.0,489.7 L50.3,490.4 L50.5,491.2 L50.6,492.2 L50.6,493.2 L50.5,494.2 L50.3,495.0 L50.1,495.8 L50.0,496.8 L49.7,497.5 L49.4,498.2 L49.2,498.8 L49.0,499.8 L48.7,500.5 L48.3,501.0 L47.9,501.5 L47.3,502.2 L47.0,502.5 L46.3,503.0 L45.6,503.3 L44.6,503.4 L43.9,503.5Z" stroke="#3a3a3a" fill="#000" fill-opacity="0.05"/>
<path d="M41.8,495.2 L42.2,494.5 L42.0,493.8 L41.0,493.6 L40.3,493.9 L40.1,494.8 L40.6,495.3 L41.6,495.3Z" stroke="#3a3a3a" fill="#000" fill-opacity="0.05"/>
<path d="M43.6,502.6 L42.6,502.8 L41.7,502.5 L41.2,502.2 L40.6,501.5 L40.3,501.1 L39.9,500.5 L39.3,500.0 L38.8,499.5 L38.4,498.8 L38.2,498.2 L38.2,497.2 L38.0,496.2 L37.9,495.5 L37.9,494.5 L38.0,493.8 L38.1,492.8 L38.1,491.8 L38.2,490.8 L38.4,490.2 L38.6,489.5 L38.9,488.5 L39.0,487.8 L39.4,487.2 L39.8,486.5 L40.3,486.0 L40.9,485.5 L41.5,485.2 L42.3,485.0 L43.2,485.2 L43.6,485.5 L44.3,486.0 L45.0,486.2 L46.0,486.2 L46.8,486.5 L47.3,486.9 L47.9,487.5 L48.3,488.1 L48.6,488.8 L48.9,489.5 L49.3,490.0 L49.6,490.6 L49.8,491.5 L49.9,492.5 L49.9,493.5 L49.8,494.5 L49.5,495.2 L49.3,496.2 L49.1,496.8 L48.6,497.3 L47.7,497.5 L47.5,498.2 L47.8,498.8 L48.0,499.5 L47.9,500.2 L47.5,500.8 L47.0,501.3 L46.3,501.8 L45.6,502.0 L44.6,502.2 L44.0,502.4Z" stroke="#333" fill="#000" fill-opacity="0.05"/>
<path d="M41.6,495.5 L42.2,495.2 L42.5,494.5 L42.3,493.8 L41.6,493.3 L40.6,493.5 L40.0,493.8 L39.6,494.3 L39.7,494.8 L40.3,495.5 L41.0,495.6Z" stroke="#333" fill="#000" fill-opacity="0.05"/>
<path d="M43.3,501.9 L42.3,501.8 L41.7,501.5 L41.3,500.9 L41.0,500.2 L40.6,499.8 L40.0,499.4 L39.3,499.0 L38.9,498.5 L38.8,497.5 L38.8,496.5 L38.8,495.5 L39.4,495.5 L40.3,495.8 L41.0,495.9 L41.6,495.7 L42.3,495.4 L42.7,494.8 L42.6,493.8 L42.3,493.3 L41.6,493.1 L40.9,493.2 L40.0,493.4 L39.1,493.2 L38.9,492.5 L38.7,491.5 L38.9,490.5 L39.1,489.8 L39.4,489.2 L39.6,488.2 L39.8,487.5 L40.2,486.8 L40.6,486.4 L41.3,486.1 L42.3,486.0 L43.1,486.2 L44.0,486.5 L44.6,486.7 L45.3,486.9 L46.2,487.2 L46.7,487.5 L47.3,488.0 L47.7,488.5 L48.0,489.2 L48.3,489.8 L48.8,490.5 L49.1,491.2 L49.3,492.0 L49.3,492.8 L49.3,493.8 L49.2,494.5 L48.9,495.2 L48.6,495.8 L48.1,496.5 L47.6,496.9 L47.1,497.5 L47.1,498.5 L47.2,499.5 L46.9,500.2 L46.3,500.6 L45.6,500.9 L44.8,501.2 L44.2,501.5 L43.4,501.8Z" stroke="#2c2c2c" fill="#000" fill-opacity="0.05"/>
<path d="M43.6,500.8 L42.6,500.9 L42.2,500.5 L41.9,499.8 L41.3,499.2 L40.6,498.9 L40.0,498.5 L39.6,498.1 L39.6,497.2 L39.9,496.5 L40.6,496.3 L41.3,496.2 L42.0,495.8 L42.6,495.4 L43.1,494.8 L43.0,493.8 L42.8,493.2 L42.3,492.8 L41.3,492.8 L40.6,492.9 L39.9,492.8 L39.4,492.2 L39.3,491.5 L39.3,490.8 L39.6,490.0 L40.0,489.5 L40.5,488.8 L40.5,487.8 L40.8,487.2 L41.3,486.8 L42.3,486.6 L43.3,486.8 L44.0,486.9 L44.6,487.2 L45.4,487.5 L46.0,487.9 L46.6,488.5 L47.0,488.9 L47.3,489.5 L47.6,490.2 L48.0,490.8 L48.4,491.5 L48.7,492.2 L48.8,493.2 L48.7,494.2 L48.5,494.8 L48.2,495.5 L47.8,496.2 L47.3,496.7 L46.9,497.2 L46.6,498.2 L46.6,498.8 L46.3,499.5 L45.6,500.0 L45.0,500.2 L44.2,500.5 L43.6,500.8Z" stroke="#262626" fill="#000" fill-opacity="0.05"/>
<path d="M45.6,499.2 L44.6,499.2 L44.0,499.2 L43.3,499.3 L42.6,499.0 L42.0,498.5 L41.3,498.2 L40.6,497.9 L40.5,497.2 L41.0,496.8 L41.6,496.5 L42.3,496.0 L42.9,495.5 L43.3,495.2 L44.3,495.1 L44.7,495.2 L44.6,494.3 L44.0,494.2 L43.5,493.5 L43.2,492.8 L42.6,492.4 L41.6,492.5 L41.0,492.6 L40.3,492.5 L39.8,491.8 L39.7,490.8 L40.0,490.2 L40.6,489.7 L41.3,489.3 L41.6,488.5 L41.6,487.8 L42.3,487.2 L43.0,487.1 L43.6,487.2 L44.4,487.5 L45.0,488.0 L45.0,488.5 L44.3,489.0 L44.3,489.6 L45.3,489.8 L46.3,489.8 L46.8,490.2 L47.2,490.8 L47.4,491.5 L47.3,492.2 L47.3,492.8 L47.6,492.8 L48.2,493.5 L48.2,494.5 L48.0,495.2 L47.6,495.9 L47.1,496.5 L46.6,497.0 L46.3,497.8 L46.2,498.5 L45.7,499.2Z" stroke="#222" fill="#000" fill-opacity="0.05"/>
<path d="M43.0,488.9 L42.5,488.5 L42.7,487.8 L43.6,487.7 L44.1,488.2 L43.6,488.6 L43.0,488.9Z" stroke="#1e1e1e" fill="#000" fill-opacity="0.05"/>
<path d="M45.3,492.8 L44.3,492.9 L43.6,492.5 L43.1,492.2 L42.3,491.9 L41.4,492.2 L40.7,492.2 L40.3,491.8 L40.2,490.8 L40.6,490.3 L41.6,490.2 L42.5,490.2 L43.3,489.9 L44.3,490.1 L45.0,490.2 L46.0,490.4 L46.5,490.8 L46.7,491.5 L46.5,492.2 L46.0,492.6 L45.3,492.8Z" stroke="#1e1e1e" fill="#000" fill-opacity="0.05"/>
<path d="M45.6,498.3 L44.6,498.5 L43.6,498.5 L42.6,498.2 L42.2,497.8 L41.9,497.2 L42.1,496.5 L42.6,496.0 L43.3,495.5 L44.0,495.5 L44.6,495.7 L45.3,495.3 L45.5,494.5 L46.0,493.9 L46.6,493.7 L47.6,493.8 L47.8,494.5 L47.6,495.3 L47.3,495.9 L46.7,496.5 L46.3,496.8 L46.0,497.5 L45.6,498.3Z" stroke="#1e1e1e" fill="#000" fill-opacity="0.05"/>
<path d="M45.6,492.3 L44.6,492.4 L43.8,492.2 L43.2,491.8 L42.6,491.2 L43.1,490.5 L44.0,490.3 L45.0,490.5 L45.6,490.7 L46.2,491.2 L46.0,492.1Z" stroke="#1a1a1a" fill="#000" fill-opacity="0.05"/>
<path d="M41.3,491.6 L40.7,491.2 L41.5,491.2Z" stroke="#1a1a1a" fill="#000" fill-opacity="0.05"/>
<path d="M45.0,497.9 L44.0,498.1 L43.0,498.0 L42.5,497.5 L42.5,496.5 L43.0,495.9 L43.6,495.7 L44.3,495.9 L45.0,496.2 L45.6,495.8 L45.6,495.2 L46.0,494.3 L46.6,494.0 L47.3,494.2 L47.4,495.2 L47.1,495.8 L46.6,496.2 L45.7,496.5 L45.5,497.2 L45.2,497.8Z" stroke="#1a1a1a" fill="#000" fill-opacity="0.05"/>
<path d="M45.6,491.9 L44.6,492.1 L43.8,491.8 L43.3,491.3 L43.4,490.8 L44.3,490.6 L45.1,490.8 L45.7,491.2 L45.6,491.9Z" stroke="#161616" fill="#000" fill-opacity="0.05"/>
<path d="M46.6,495.9 L46.0,495.8 L46.0,494.9 L46.3,494.5 L47.1,494.5 L47.1,495.5 L46.6,495.9Z" stroke="#161616" fill="#000" fill-opacity="0.05"/>
<path d="M44.0,497.9 L43.3,497.8 L42.7,497.2 L42.6,496.8 L43.0,496.2 L44.0,495.9 L44.6,496.4 L45.0,496.8 L44.8,497.5 L44.1,497.8Z" stroke="#161616" fill="#000" fill-opacity="0.05"/>
<path d="M45.3,491.5 L44.3,491.7 L43.7,491.2 L44.6,491.0 L45.3,491.5Z" stroke="#141414" fill="#000" fill-opacity="0.05"/>
<path d="M46.6,495.6 L46.2,495.2 L46.6,494.7 L46.8,495.5Z" stroke="#141414" fill="#000" fill-opacity="0.05"/>
<path d="M44.3,497.5 L43.3,497.6 L42.9,497.2 L43.0,496.5 L43.6,496.1 L44.3,496.3 L44.7,496.8 L44.4,497.5Z" stroke="#141414" fill="#000" fill-opacity="0.05"/>
<path d="M44.3,497.2 L43.3,497.3 L43.2,496.5 L44.0,496.3 L44.4,496.8Z" stroke="#121212" fill="#000" fill-opacity="0.05"/>
<path d="M44.0,497.2 L43.3,497.0 L43.5,496.5 L44.0,496.5 L44.0,497.2Z" stroke="#101010" fill="#000" fill-opacity="0.05"/>
</g>
<g clip-path="url(#cb41)" fill="none" stroke-width="0.8">
<path d="M117.7,511.5 L117.0,511.5 L116.0,511.3 L115.4,511.0 L114.7,510.6 L114.1,510.2 L113.7,509.8 L113.2,509.2 L112.7,508.5 L112.4,507.8 L112.1,507.2 L111.8,506.5 L111.5,505.8 L111.2,505.2 L110.9,504.5 L110.7,503.8 L110.4,503.0 L110.1,502.2 L110.0,501.5 L109.9,500.5 L109.8,499.5 L109.7,498.5 L109.7,497.5 L109.7,496.5 L109.8,495.5 L109.9,494.5 L110.0,493.5 L110.0,492.5 L110.0,491.5 L110.0,490.5 L110.0,489.5 L110.0,488.5 L110.1,487.8 L110.4,486.8 L110.6,486.2 L110.9,485.5 L111.2,484.8 L111.5,484.2 L111.9,483.5 L112.3,482.8 L112.7,482.2 L113.0,481.8 L113.5,481.2 L114.0,480.7 L114.6,480.2 L115.0,479.8 L115.7,479.3 L116.4,478.9 L117.0,478.5 L117.7,478.2 L118.4,478.0 L119.4,477.8 L120.0,477.8 L120.7,477.9 L121.7,478.1 L122.4,478.3 L123.0,478.7 L123.7,479.2 L124.1,479.5 L124.7,480.0 L125.2,480.5 L125.7,481.0 L126.1,481.5 L126.6,482.2 L127.0,482.8 L127.4,483.4 L127.7,484.0 L128.0,484.7 L128.4,485.4 L128.7,486.2 L128.9,486.8 L129.1,487.5 L129.3,488.5 L129.4,489.2 L129.5,490.2 L129.5,491.2 L129.5,492.2 L129.4,493.2 L129.4,493.8 L129.3,494.8 L129.2,495.8 L129.0,496.5 L128.9,497.5 L128.7,498.2 L128.4,499.2 L128.2,499.8 L127.9,500.5 L127.7,501.2 L127.4,501.8 L127.0,502.7 L126.7,503.4 L126.4,504.2 L126.1,504.8 L125.8,505.5 L125.4,506.2 L125.0,506.8 L124.7,507.3 L124.3,507.8 L123.7,508.4 L123.2,508.8 L122.7,509.2 L122.0,509.6 L121.4,510.1 L120.7,510.5 L120.0,510.8 L119.4,511.1 L118.7,511.4 L118.0,511.5Z" stroke="#666" fill="#000" fill-opacity="0.05"/>
<path d="M118.7,509.2 L117.7,509.3 L116.7,509.2 L116.0,509.0 L115.4,508.6 L114.8,508.2 L114.4,507.7 L114.0,507.2 L113.7,506.5 L113.3,505.8 L113.0,505.2 L112.6,504.5 L112.3,503.8 L112.0,503.2 L111.7,502.5 L111.4,501.5 L111.2,500.8 L111.1,499.8 L111.0,499.2 L110.9,498.2 L110.8,497.2 L110.8,496.2 L110.9,495.2 L111.0,494.2 L111.0,493.2 L111.0,492.2 L111.0,491.2 L111.0,490.2 L111.0,489.2 L111.1,488.5 L111.2,487.5 L111.4,486.8 L111.7,486.2 L112.0,485.5 L112.4,484.8 L112.8,484.2 L113.3,483.5 L113.7,483.0 L114.2,482.5 L114.7,482.0 L115.2,481.5 L115.7,481.1 L116.4,480.5 L116.8,480.2 L117.4,479.8 L118.1,479.5 L119.0,479.2 L119.7,479.1 L120.6,479.2 L121.4,479.3 L122.0,479.6 L122.7,479.9 L123.4,480.4 L123.9,480.8 L124.4,481.3 L124.8,481.8 L125.3,482.5 L125.7,483.0 L126.1,483.5 L126.5,484.2 L126.9,484.8 L127.3,485.5 L127.6,486.2 L127.8,486.8 L128.1,487.5 L128.3,488.5 L128.4,489.2 L128.4,490.2 L128.4,491.2 L128.4,492.2 L128.4,492.8 L128.3,493.8 L128.3,494.8 L128.1,495.8 L128.0,496.5 L127.8,497.5 L127.6,498.2 L127.4,499.0 L127.1,499.8 L126.8,500.5 L126.5,501.2 L126.2,501.8 L125.9,502.5 L125.5,503.2 L125.2,503.8 L124.8,504.5 L124.4,505.2 L124.0,505.7 L123.6,506.2 L123.0,506.7 L122.5,507.2 L122.0,507.5 L121.4,508.0 L120.7,508.4 L120.0,508.7 L119.4,509.0 L118.7,509.2Z" stroke="#5a5a5a" fill="#000" fill-opacity="0.05"/>
<path d="M118.7,507.2 L117.7,507.2 L117.0,507.1 L116.3,506.8 L115.7,506.4 L115.2,505.8 L114.7,505.2 L114.4,504.5 L114.0,503.8 L113.7,503.3 L113.4,502.8 L113.0,502.1 L112.7,501.3 L112.4,500.5 L112.2,499.8 L112.0,498.8 L112.0,498.2 L111.8,497.2 L111.8,496.2 L111.8,495.2 L111.9,494.2 L111.9,493.2 L111.8,492.2 L111.8,491.2 L111.9,490.2 L112.0,489.2 L112.1,488.5 L112.3,487.5 L112.5,486.8 L112.8,486.2 L113.2,485.5 L113.7,484.8 L114.0,484.4 L114.5,483.8 L115.0,483.3 L115.6,482.8 L116.0,482.4 L116.7,481.8 L117.1,481.5 L117.7,481.0 L118.4,480.7 L119.1,480.5 L120.0,480.4 L121.0,480.5 L121.7,480.7 L122.4,481.0 L123.0,481.5 L123.4,481.9 L123.8,482.5 L124.3,483.2 L124.7,483.6 L125.1,484.2 L125.5,484.8 L125.9,485.5 L126.3,486.2 L126.7,486.8 L127.0,487.5 L127.1,488.2 L127.3,489.2 L127.3,490.2 L127.3,491.2 L127.2,492.2 L127.3,493.2 L127.3,494.2 L127.2,495.2 L127.1,496.2 L126.9,496.8 L126.7,497.8 L126.5,498.5 L126.2,499.2 L125.9,499.8 L125.7,500.5 L125.3,501.2 L125.0,501.8 L124.6,502.5 L124.1,503.2 L123.7,503.7 L123.4,504.2 L122.7,504.8 L122.2,505.2 L121.7,505.5 L121.0,505.9 L120.4,506.4 L119.7,506.8 L119.0,507.1Z" stroke="#4e4e4e" fill="#000" fill-opacity="0.05"/>
<path d="M119.0,505.2 L118.0,505.4 L117.0,505.2 L116.4,504.8 L116.0,504.5 L115.5,503.8 L115.1,503.2 L114.7,502.5 L114.4,502.0 L114.0,501.5 L113.7,500.8 L113.4,500.2 L113.1,499.2 L112.9,498.5 L112.8,497.5 L112.7,496.8 L112.6,495.8 L112.6,494.8 L112.6,493.8 L112.5,492.8 L112.5,491.8 L112.5,490.8 L112.7,490.1 L112.9,489.2 L113.0,488.2 L113.2,487.5 L113.5,486.8 L113.9,486.2 L114.3,485.5 L114.7,485.1 L115.2,484.5 L115.7,484.0 L116.3,483.5 L116.7,483.1 L117.4,482.5 L117.8,482.2 L118.4,481.8 L119.2,481.5 L120.0,481.4 L120.8,481.5 L121.7,481.8 L122.3,482.2 L122.7,482.7 L123.1,483.2 L123.6,483.8 L124.0,484.4 L124.4,484.9 L124.7,485.6 L125.0,486.2 L125.4,486.8 L125.7,487.5 L126.0,488.5 L126.2,489.2 L126.4,490.2 L126.4,490.8 L126.4,491.6 L126.3,492.5 L126.3,493.5 L126.4,494.2 L126.4,495.2 L126.3,495.8 L126.1,496.8 L125.9,497.5 L125.6,498.2 L125.3,498.8 L125.0,499.5 L124.7,500.2 L124.3,500.8 L123.9,501.5 L123.4,502.0 L122.8,502.5 L122.4,502.9 L121.8,503.5 L121.4,503.9 L120.7,504.3 L120.0,504.7 L119.4,505.1Z" stroke="#444" fill="#000" fill-opacity="0.05"/>
<path d="M118.7,503.2 L117.7,503.4 L116.7,503.3 L116.2,502.8 L115.7,502.2 L115.4,501.5 L115.2,500.8 L114.9,500.2 L114.4,499.5 L114.3,498.8 L114.4,498.2 L115.0,497.8 L116.0,497.7 L116.7,497.2 L117.0,496.8 L117.0,495.9 L116.0,496.1 L115.4,496.4 L114.7,496.7 L113.9,496.5 L113.5,495.8 L113.4,494.8 L113.3,494.2 L113.2,493.2 L113.1,492.2 L113.1,491.2 L113.4,490.4 L113.7,489.7 L114.0,488.8 L114.0,488.2 L114.4,487.2 L114.7,486.7 L115.1,486.2 L115.6,485.5 L116.0,484.9 L116.4,484.5 L117.0,484.0 L117.7,483.5 L118.0,483.1 L118.7,482.6 L119.4,482.4 L120.4,482.4 L121.0,482.5 L121.7,482.9 L122.2,483.5 L122.7,484.1 L123.0,484.5 L123.5,485.2 L123.8,485.8 L124.1,486.5 L124.5,487.2 L124.8,487.8 L125.0,488.7 L125.3,489.5 L125.5,490.2 L125.6,491.2 L125.4,492.0 L125.2,492.8 L125.4,493.5 L125.5,494.5 L125.5,495.5 L125.4,496.4 L125.1,497.2 L124.7,497.8 L124.5,498.5 L124.1,499.2 L123.7,499.6 L122.7,499.8 L121.7,499.7 L121.4,500.5 L121.4,501.5 L121.2,502.2 L120.7,502.8 L120.0,503.0 L119.0,503.1Z" stroke="#3a3a3a" fill="#000" fill-opacity="0.05"/>
<path d="M120.0,501.6 L119.0,501.5 L118.0,501.7 L117.0,501.7 L116.6,501.2 L116.6,500.2 L116.4,499.2 L116.6,498.2 L117.0,497.6 L117.5,497.2 L118.0,496.7 L118.3,495.8 L118.0,495.1 L117.0,495.0 L116.4,495.4 L115.7,495.7 L114.7,495.6 L114.3,495.2 L114.0,494.5 L113.8,493.5 L113.6,492.8 L113.5,491.8 L113.7,491.0 L114.0,490.4 L114.4,489.8 L114.7,489.2 L115.0,488.2 L115.3,487.5 L115.7,486.8 L116.0,486.4 L116.5,485.8 L117.0,485.3 L117.7,484.9 L118.2,484.5 L118.7,483.9 L119.1,483.5 L120.0,483.2 L120.9,483.5 L121.4,484.0 L121.8,484.5 L122.4,485.1 L122.7,485.6 L123.0,486.2 L123.4,486.8 L123.9,487.5 L124.2,488.2 L124.4,488.8 L124.7,489.8 L124.8,490.5 L124.7,491.4 L124.4,492.1 L124.1,492.8 L124.5,493.5 L124.7,494.2 L124.7,495.2 L124.5,495.8 L124.2,496.5 L124.0,497.2 L123.7,498.2 L123.4,498.7 L122.7,498.9 L121.7,498.9 L121.0,498.7 L120.4,498.5 L119.7,498.6 L119.5,499.5 L119.9,500.2 L120.4,500.7 L120.4,501.3Z" stroke="#333" fill="#000" fill-opacity="0.05"/>
<path d="M121.5,488.2 L121.8,487.5 L121.4,486.9 L120.7,487.3 L120.4,488.2 L121.4,488.3Z" stroke="#333" fill="#000" fill-opacity="0.05"/>
<path d="M116.1,492.5 L116.5,491.8 L116.2,491.2 L115.7,491.5 L115.7,492.1 L116.0,492.5Z" stroke="#333" fill="#000" fill-opacity="0.05"/>
<path d="M121.1,495.2 L121.5,494.5 L121.4,493.8 L120.4,493.8 L119.7,494.2 L119.3,494.5 L119.6,495.2 L120.4,495.2 L121.1,495.2Z" stroke="#333" fill="#000" fill-opacity="0.05"/>
<path d="M122.4,498.2 L121.6,498.2 L120.7,497.8 L120.0,497.5 L119.6,497.2 L119.7,496.2 L120.4,496.0 L121.4,495.9 L121.8,495.5 L122.0,494.5 L122.0,493.5 L121.4,492.9 L120.7,493.2 L120.0,493.5 L119.4,493.8 L118.5,494.2 L117.7,494.3 L116.7,494.5 L116.2,494.8 L115.4,495.1 L114.7,494.5 L114.5,493.8 L114.2,493.2 L114.0,492.5 L114.0,491.5 L114.4,490.8 L114.7,490.5 L115.1,489.8 L115.4,488.8 L115.6,488.2 L116.0,487.5 L116.5,487.2 L117.4,487.0 L118.2,486.8 L118.6,486.2 L118.9,485.5 L119.4,484.9 L120.0,484.8 L120.4,485.2 L120.6,486.2 L120.4,486.9 L120.0,487.6 L119.9,488.5 L120.4,489.1 L121.2,488.8 L121.7,488.5 L122.4,487.8 L123.0,487.5 L123.7,488.2 L124.0,488.8 L124.2,489.5 L124.3,490.5 L124.0,491.5 L123.7,492.0 L123.4,492.5 L123.4,493.2 L123.8,493.8 L124.0,494.8 L123.6,495.5 L123.1,496.2 L123.0,496.8 L122.9,497.8 L122.4,498.2Z" stroke="#2c2c2c" fill="#000" fill-opacity="0.05"/>
<path d="M116.6,492.8 L116.8,492.2 L116.7,491.2 L116.4,490.7 L115.5,490.8 L115.3,491.5 L115.4,492.3 L115.7,492.9 L116.6,492.8Z" stroke="#2c2c2c" fill="#000" fill-opacity="0.05"/>
<path d="M118.0,500.2 L117.5,499.8 L117.2,499.2 L117.3,498.2 L117.7,497.8 L118.5,497.8 L118.8,498.5 L118.7,499.2 L118.4,500.0Z" stroke="#2c2c2c" fill="#000" fill-opacity="0.05"/>
<path d="M119.0,493.6 L118.0,493.7 L117.3,493.5 L117.1,492.5 L117.0,491.5 L116.9,490.8 L116.4,490.2 L115.8,489.8 L115.8,488.8 L116.2,488.2 L116.7,487.8 L117.7,487.8 L118.7,487.7 L119.3,487.5 L119.0,488.2 L119.1,488.8 L119.7,489.4 L120.4,489.7 L121.0,489.4 L121.7,489.0 L122.4,488.6 L123.0,488.5 L123.4,488.8 L123.7,489.6 L123.8,490.5 L123.7,491.2 L123.3,491.8 L122.7,492.3 L121.7,492.3 L121.0,492.5 L120.4,493.0 L119.7,493.4 L119.0,493.6Z" stroke="#262626" fill="#000" fill-opacity="0.05"/>
<path d="M119.4,493.2 L118.4,493.4 L117.7,493.2 L117.3,492.5 L117.2,491.5 L117.1,490.5 L116.7,489.9 L116.2,489.5 L116.4,488.6 L117.0,488.2 L117.8,488.5 L118.4,489.1 L119.0,489.4 L119.6,489.8 L120.3,490.2 L120.7,490.1 L121.4,489.5 L122.0,489.2 L122.7,489.0 L123.2,489.5 L123.4,490.2 L123.4,491.0 L123.0,491.6 L122.4,491.9 L121.4,491.9 L120.7,492.3 L120.1,492.8 L119.5,493.2Z" stroke="#222" fill="#000" fill-opacity="0.05"/>
<path d="M119.4,493.0 L118.4,493.0 L117.7,492.6 L117.5,491.8 L117.4,490.8 L117.7,489.8 L118.4,489.7 L119.0,489.9 L119.7,490.3 L120.4,490.7 L121.0,490.4 L121.5,489.8 L122.4,489.5 L123.0,490.2 L123.0,490.6 L122.7,491.3 L122.0,491.5 L121.4,491.4 L120.7,491.6 L120.4,492.2 L119.7,492.8Z" stroke="#1e1e1e" fill="#000" fill-opacity="0.05"/>
<path d="M119.7,492.6 L118.7,492.8 L117.9,492.5 L117.6,491.8 L117.7,490.8 L118.0,490.2 L118.7,490.1 L119.4,490.4 L119.9,490.8 L120.3,491.5 L120.0,492.2Z" stroke="#1a1a1a" fill="#000" fill-opacity="0.05"/>
<path d="M122.4,491.0 L121.6,490.8 L121.7,490.2 L122.5,490.2 L122.4,491.0Z" stroke="#1a1a1a" fill="#000" fill-opacity="0.05"/>
<path d="M119.4,492.5 L118.4,492.5 L118.0,492.2 L117.8,491.2 L118.2,490.5 L119.0,490.5 L119.5,490.8 L120.0,491.5 L119.7,492.3Z" stroke="#161616" fill="#000" fill-opacity="0.05"/>
<path d="M119.4,492.3 L118.4,492.3 L118.0,491.8 L118.0,491.1 L118.7,490.6 L119.4,491.0 L119.7,491.5 L119.5,492.2Z" stroke="#141414" fill="#000" fill-opacity="0.05"/>
<path d="M119.0,492.2 L118.4,492.0 L118.2,491.2 L119.0,491.0 L119.5,491.5 L119.2,492.2Z" stroke="#121212" fill="#000" fill-opacity="0.05"/>
<path d="M119.0,492.0 L118.4,491.8 L118.5,491.2 L119.0,491.2 L119.0,492.0Z" stroke="#101010" fill="#000" fill-opacity="0.05"/>
</g>
<line x1="266.80" y1="164.00" x2="266.80" y2="277.20" stroke="#262626" stroke-width="1.4"/>
<line x1="266.10" y1="276.60" x2="501.30" y2="276.60" stroke="#262626" stroke-width="1.4"/>
<line x1="263.50" y1="276.60" x2="266.80" y2="276.60" stroke="#262626" stroke-width="1.3"/>
<text x="262.3" y="280.0" font-size="11.8" text-anchor="end" stroke="#1a1a1a" stroke-width="0.2" fill="#1a1a1a">0</text>
<line x1="263.50" y1="254.08" x2="266.80" y2="254.08" stroke="#262626" stroke-width="1.3"/>
<text x="262.3" y="257.48" font-size="11.8" text-anchor="end" stroke="#1a1a1a" stroke-width="0.2" fill="#1a1a1a">10</text>
<line x1="263.50" y1="231.56" x2="266.80" y2="231.56" stroke="#262626" stroke-width="1.3"/>
<text x="262.3" y="234.96000000000004" font-size="11.8" text-anchor="end" stroke="#1a1a1a" stroke-width="0.2" fill="#1a1a1a">20</text>
<line x1="263.50" y1="209.04" x2="266.80" y2="209.04" stroke="#262626" stroke-width="1.3"/>
<text x="262.3" y="212.44000000000003" font-size="11.8" text-anchor="end" stroke="#1a1a1a" stroke-width="0.2" fill="#1a1a1a">30</text>
<line x1="263.50" y1="186.52" x2="266.80" y2="186.52" stroke="#262626" stroke-width="1.3"/>
<text x="262.3" y="189.92000000000004" font-size="11.8" text-anchor="end" stroke="#1a1a1a" stroke-width="0.2" fill="#1a1a1a">40</text>
<line x1="263.50" y1="164.00" x2="266.80" y2="164.00" stroke="#262626" stroke-width="1.3"/>
<text x="262.3" y="167.40000000000003" font-size="11.8" text-anchor="end" stroke="#1a1a1a" stroke-width="0.2" fill="#1a1a1a">50</text>
<text transform="translate(246.5,221.2) rotate(-90)" font-size="11.4" text-anchor="middle" stroke="#1a1a1a" stroke-width="0.2" fill="#1a1a1a">ΔCD107a<tspan font-size="65%" baseline-shift="42%">+</tspan> (%)</text>
<rect x="416.90" y="167.30" width="7.30" height="7.00" fill="#1e1e1e" stroke="#222" stroke-width="1.0"/>
<text x="426" y="174.4" font-size="9.8" text-anchor="start" stroke="#1a1a1a" stroke-width="0.2" fill="#1a1a1a">P815</text>
<rect x="416.90" y="180.00" width="7.30" height="7.00" fill="#ec1c27" stroke="#222" stroke-width="1.0"/>
<text x="426" y="187.1" font-size="9.8" text-anchor="start" stroke="#1a1a1a" stroke-width="0.2" fill="#1a1a1a">P815 + anti-CD16</text>
<rect x="416.90" y="192.70" width="7.30" height="7.00" fill="#24994a" stroke="#222" stroke-width="1.0"/>
<text x="426" y="199.8" font-size="9.8" text-anchor="start" stroke="#1a1a1a" stroke-width="0.2" fill="#1a1a1a">K562</text>
<polyline points="337.00,220.00 337.00,214.40 478.30,214.40 478.30,220.00" fill="none" stroke="#1a1a1a" stroke-width="1.3"/>
<text x="394.8" y="211.3" font-size="9.6" text-anchor="start" stroke="#1a1a1a" stroke-width="0.2" letter-spacing="-0.3" fill="#1a1a1a"><tspan font-style="italic">P</tspan> = .011</text>
<polyline points="353.00,232.50 353.00,226.70 493.80,226.70 493.80,233.80" fill="none" stroke="#1a1a1a" stroke-width="1.3"/>
<text x="402.3" y="223.8" font-size="9.6" text-anchor="start" stroke="#1a1a1a" stroke-width="0.2" fill="#1a1a1a"><tspan font-style="italic">P</tspan>&lt; .001</text>
<polyline points="274.30,282.70 274.30,286.30 306.60,286.30 306.60,282.70" fill="none" stroke="#1a1a1a" stroke-width="1.3"/>
<line x1="290.45" y1="286.30" x2="290.45" y2="282.70" stroke="#1a1a1a" stroke-width="1.3"/>
<text x="290.45000000000005" y="295.2" font-size="9.6" text-anchor="middle" stroke="#1a1a1a" stroke-width="0.2" fill="#1a1a1a">Adult</text>
<polyline points="321.20,282.70 321.20,286.30 353.70,286.30 353.70,282.70" fill="none" stroke="#1a1a1a" stroke-width="1.3"/>
<line x1="337.45" y1="286.30" x2="337.45" y2="282.70" stroke="#1a1a1a" stroke-width="1.3"/>
<text x="337.45" y="295.2" font-size="9.6" text-anchor="middle" stroke="#1a1a1a" stroke-width="0.2" fill="#1a1a1a">Inf.</text>
<polyline points="368.80,282.70 368.80,286.30 400.20,286.30 400.20,282.70" fill="none" stroke="#1a1a1a" stroke-width="1.3"/>
<line x1="384.50" y1="286.30" x2="384.50" y2="282.70" stroke="#1a1a1a" stroke-width="1.3"/>
<text x="384.5" y="295.2" font-size="9.6" text-anchor="middle" stroke="#1a1a1a" stroke-width="0.2" fill="#1a1a1a">FHL2</text>
<polyline points="415.80,282.70 415.80,286.30 447.20,286.30 447.20,282.70" fill="none" stroke="#1a1a1a" stroke-width="1.3"/>
<line x1="431.50" y1="286.30" x2="431.50" y2="282.70" stroke="#1a1a1a" stroke-width="1.3"/>
<text x="431.5" y="295.2" font-size="9.6" text-anchor="middle" stroke="#1a1a1a" stroke-width="0.2" fill="#1a1a1a">FHL3</text>
<polyline points="462.50,282.70 462.50,286.30 493.80,286.30 493.80,282.70" fill="none" stroke="#1a1a1a" stroke-width="1.3"/>
<line x1="478.15" y1="286.30" x2="478.15" y2="282.70" stroke="#1a1a1a" stroke-width="1.3"/>
<text x="478.15" y="295.2" font-size="9.6" text-anchor="middle" stroke="#1a1a1a" stroke-width="0.2" fill="#1a1a1a">FHL4</text>
<rect x="282.05" y="166.55" width="4.30" height="4.30" fill="#ec1c27" stroke="none" stroke-width="0"/>
<rect x="289.05" y="167.05" width="4.30" height="4.30" fill="#ec1c27" stroke="none" stroke-width="0"/>
<rect x="292.45" y="164.15" width="4.30" height="4.30" fill="#ec1c27" stroke="none" stroke-width="0"/>
<rect x="288.05" y="187.25" width="4.30" height="4.30" fill="#ec1c27" stroke="none" stroke-width="0"/>
<rect x="285.15" y="189.55" width="4.30" height="4.30" fill="#ec1c27" stroke="none" stroke-width="0"/>
<rect x="292.15" y="191.85" width="4.30" height="4.30" fill="#ec1c27" stroke="none" stroke-width="0"/>
<rect x="281.75" y="195.05" width="4.30" height="4.30" fill="#ec1c27" stroke="none" stroke-width="0"/>
<rect x="289.05" y="195.35" width="4.30" height="4.30" fill="#ec1c27" stroke="none" stroke-width="0"/>
<rect x="287.45" y="191.35" width="4.30" height="4.30" fill="#ec1c27" stroke="none" stroke-width="0"/>
<rect x="292.15" y="202.65" width="4.30" height="4.30" fill="#ec1c27" stroke="none" stroke-width="0"/>
<rect x="289.05" y="208.65" width="4.30" height="4.30" fill="#ec1c27" stroke="none" stroke-width="0"/>
<rect x="288.65" y="217.05" width="4.30" height="4.30" fill="#ec1c27" stroke="none" stroke-width="0"/>
<rect x="288.85" y="262.35" width="4.30" height="4.30" fill="#ec1c27" stroke="none" stroke-width="0"/>
<rect x="285.15" y="227.15" width="4.30" height="4.30" fill="#ec1c27" stroke="none" stroke-width="0"/>
<rect x="289.35" y="227.15" width="4.30" height="4.30" fill="#ec1c27" stroke="none" stroke-width="0"/>
<rect x="293.05" y="227.15" width="4.30" height="4.30" fill="#ec1c27" stroke="none" stroke-width="0"/>
<rect x="281.95" y="231.15" width="4.30" height="4.30" fill="#ec1c27" stroke="none" stroke-width="0"/>
<rect x="286.15" y="230.85" width="4.30" height="4.30" fill="#ec1c27" stroke="none" stroke-width="0"/>
<rect x="290.35" y="231.15" width="4.30" height="4.30" fill="#ec1c27" stroke="none" stroke-width="0"/>
<rect x="293.35" y="231.85" width="4.30" height="4.30" fill="#ec1c27" stroke="none" stroke-width="0"/>
<rect x="281.95" y="235.25" width="4.30" height="4.30" fill="#ec1c27" stroke="none" stroke-width="0"/>
<rect x="287.05" y="235.85" width="4.30" height="4.30" fill="#ec1c27" stroke="none" stroke-width="0"/>
<rect x="290.85" y="235.25" width="4.30" height="4.30" fill="#ec1c27" stroke="none" stroke-width="0"/>
<rect x="293.15" y="236.05" width="4.30" height="4.30" fill="#ec1c27" stroke="none" stroke-width="0"/>
<rect x="287.35" y="239.55" width="4.30" height="4.30" fill="#ec1c27" stroke="none" stroke-width="0"/>
<rect x="290.25" y="239.95" width="4.30" height="4.30" fill="#ec1c27" stroke="none" stroke-width="0"/>
<rect x="286.15" y="243.45" width="4.30" height="4.30" fill="#ec1c27" stroke="none" stroke-width="0"/>
<rect x="290.35" y="243.65" width="4.30" height="4.30" fill="#ec1c27" stroke="none" stroke-width="0"/>
<rect x="292.85" y="244.05" width="4.30" height="4.30" fill="#ec1c27" stroke="none" stroke-width="0"/>
<rect x="281.85" y="247.65" width="4.30" height="4.30" fill="#ec1c27" stroke="none" stroke-width="0"/>
<rect x="286.05" y="247.65" width="4.30" height="4.30" fill="#ec1c27" stroke="none" stroke-width="0"/>
<rect x="290.25" y="247.65" width="4.30" height="4.30" fill="#ec1c27" stroke="none" stroke-width="0"/>
<rect x="293.05" y="248.15" width="4.30" height="4.30" fill="#ec1c27" stroke="none" stroke-width="0"/>
<rect x="281.65" y="252.15" width="4.30" height="4.30" fill="#ec1c27" stroke="none" stroke-width="0"/>
<rect x="285.75" y="252.15" width="4.30" height="4.30" fill="#ec1c27" stroke="none" stroke-width="0"/>
<rect x="290.05" y="251.85" width="4.30" height="4.30" fill="#ec1c27" stroke="none" stroke-width="0"/>
<rect x="292.85" y="252.25" width="4.30" height="4.30" fill="#ec1c27" stroke="none" stroke-width="0"/>
<rect x="283.65" y="249.65" width="4.30" height="4.30" fill="#ec1c27" stroke="none" stroke-width="0"/>
<rect x="287.60" y="236.20" width="1.60" height="1.60" fill="#fff" stroke="none" stroke-width="0"/>
<rect x="291.00" y="235.60" width="1.40" height="1.40" fill="#fff" stroke="none" stroke-width="0"/>
<rect x="297.85" y="200.15" width="4.30" height="4.30" fill="#24994a" stroke="none" stroke-width="0"/>
<rect x="304.75" y="201.15" width="4.30" height="4.30" fill="#24994a" stroke="none" stroke-width="0"/>
<rect x="308.75" y="204.85" width="4.30" height="4.30" fill="#24994a" stroke="none" stroke-width="0"/>
<rect x="304.45" y="210.15" width="4.30" height="4.30" fill="#24994a" stroke="none" stroke-width="0"/>
<polygon points="304.4,217.8 309.6,217.8 310.5,222 312.9,224 312.9,234.2 298.1,234.2 298.6,230 301.3,226 301.6,222.5 303.6,221" fill="#24994a"/>
<rect x="300.15" y="238.35" width="4.30" height="4.30" fill="#24994a" stroke="none" stroke-width="0"/>
<rect x="304.35" y="238.05" width="4.30" height="4.30" fill="#24994a" stroke="none" stroke-width="0"/>
<rect x="308.45" y="238.85" width="4.30" height="4.30" fill="#24994a" stroke="none" stroke-width="0"/>
<rect x="303.35" y="242.35" width="4.30" height="4.30" fill="#24994a" stroke="none" stroke-width="0"/>
<rect x="308.45" y="242.85" width="4.30" height="4.30" fill="#24994a" stroke="none" stroke-width="0"/>
<rect x="298.15" y="246.15" width="4.30" height="4.30" fill="#24994a" stroke="none" stroke-width="0"/>
<rect x="302.35" y="246.05" width="4.30" height="4.30" fill="#24994a" stroke="none" stroke-width="0"/>
<rect x="306.35" y="246.45" width="4.30" height="4.30" fill="#24994a" stroke="none" stroke-width="0"/>
<rect x="308.85" y="246.85" width="4.30" height="4.30" fill="#24994a" stroke="none" stroke-width="0"/>
<rect x="298.45" y="250.15" width="4.30" height="4.30" fill="#24994a" stroke="none" stroke-width="0"/>
<rect x="304.35" y="250.65" width="4.30" height="4.30" fill="#24994a" stroke="none" stroke-width="0"/>
<rect x="308.35" y="250.45" width="4.30" height="4.30" fill="#24994a" stroke="none" stroke-width="0"/>
<rect x="303.85" y="252.45" width="4.30" height="4.30" fill="#24994a" stroke="none" stroke-width="0"/>
<rect x="300.85" y="258.85" width="4.30" height="4.30" fill="#24994a" stroke="none" stroke-width="0"/>
<rect x="304.85" y="258.45" width="4.30" height="4.30" fill="#24994a" stroke="none" stroke-width="0"/>
<rect x="308.45" y="259.65" width="4.30" height="4.30" fill="#24994a" stroke="none" stroke-width="0"/>
<rect x="304.45" y="262.65" width="4.30" height="4.30" fill="#24994a" stroke="none" stroke-width="0"/>
<rect x="300.45" y="262.05" width="4.30" height="4.30" fill="#24994a" stroke="none" stroke-width="0"/>
<rect x="304.65" y="265.45" width="4.30" height="4.30" fill="#24994a" stroke="none" stroke-width="0"/>
<rect x="305.40" y="242.00" width="1.60" height="1.60" fill="#fff" stroke="none" stroke-width="0"/>
<rect x="284.20" y="224.20" width="12.80" height="2.80" fill="#000" stroke="none" stroke-width="0"/>
<rect x="299.90" y="234.00" width="12.90" height="2.80" fill="#000" stroke="none" stroke-width="0"/>
<polygon points="335.30,189.98 340.70,189.98 338.00,185.22" fill="#ec1c27"/>
<polygon points="335.50,234.88 340.90,234.88 338.20,230.12" fill="#ec1c27"/>
<polygon points="329.30,245.98 334.70,245.98 332.00,241.22" fill="#ec1c27"/>
<polygon points="335.10,245.58 340.50,245.58 337.80,240.82" fill="#ec1c27"/>
<polygon points="339.60,245.58 345.00,245.58 342.30,240.82" fill="#ec1c27"/>
<polygon points="335.60,250.18 341.00,250.18 338.30,245.42" fill="#ec1c27"/>
<polygon points="339.10,262.38 344.50,262.38 341.80,257.62" fill="#ec1c27"/>
<polygon points="335.30,265.98 340.70,265.98 338.00,261.22" fill="#ec1c27"/>
<rect x="331.20" y="237.10" width="12.60" height="2.60" fill="#000" stroke="none" stroke-width="0"/>
<polygon points="347.30,237.38 352.70,237.38 350.00,232.62" fill="#24994a"/>
<polygon points="351.90,243.58 357.30,243.58 354.60,238.82" fill="#24994a"/>
<polygon points="355.20,243.58 360.60,243.58 357.90,238.82" fill="#24994a"/>
<polygon points="343.50,248.58 348.90,248.58 346.20,243.82" fill="#24994a"/>
<polygon points="351.10,253.58 356.50,253.58 353.80,248.82" fill="#24994a"/>
<polygon points="350.90,264.88 356.30,264.88 353.60,260.12" fill="#24994a"/>
<polygon points="354.90,264.88 360.30,264.88 357.60,260.12" fill="#24994a"/>
<rect x="347.00" y="246.80" width="13.00" height="2.60" fill="#000" stroke="none" stroke-width="0"/>
<polygon points="381.80,227.12 387.20,227.12 384.50,231.88" fill="#ec1c27"/>
<polygon points="381.80,263.92 387.20,263.92 384.50,268.68" fill="#ec1c27"/>
<rect x="378.00" y="245.80" width="13.30" height="2.60" fill="#000" stroke="none" stroke-width="0"/>
<polygon points="397.80,241.42 403.20,241.42 400.50,246.18" fill="#24994a"/>
<polygon points="397.80,263.92 403.20,263.92 400.50,268.68" fill="#24994a"/>
<rect x="393.80" y="252.00" width="12.50" height="2.60" fill="#000" stroke="none" stroke-width="0"/>
<polygon points="270,279.2 270.5,275 273.5,274.8 274.2,273.4 278.6,273.4 279.2,274.8 281.8,275 282.2,279.2" fill="#000"/>
<polygon points="315.8,279.3 318.5,275.5 320.5,274.2 324,274.0 326,275.5 328.6,279.3" fill="#000"/>
<polygon points="366.60,274.31 371.80,274.31 369.20,278.89" fill="#000"/>
<polygon points="370.70,274.31 375.90,274.31 373.30,278.89" fill="#000"/>
<polygon points="416.30,273.30 419.60,276.60 416.30,279.90 413.00,276.60" fill="#000"/>
<polygon points="432.00,273.30 435.30,276.60 432.00,279.90 428.70,276.60" fill="#ec1c27"/>
<polygon points="447.50,273.30 450.80,276.60 447.50,279.90 444.20,276.60" fill="#24994a"/>
<circle cx="463.80" cy="276.60" r="2.5" fill="#000"/>
<circle cx="467.60" cy="276.60" r="2.5" fill="#000"/>
<circle cx="481.20" cy="273.30" r="2.4" fill="#ec1c27"/>
<rect x="472.50" y="272.00" width="13.80" height="2.50" fill="#000" stroke="none" stroke-width="0"/>
<polygon points="495.00,273.40 498.20,276.60 495.00,279.80 491.80,276.60" fill="#24994a"/>
<polygon points="498.80,273.40 502.00,276.60 498.80,279.80 495.60,276.60" fill="#24994a"/>
<line x1="266.80" y1="316.00" x2="266.80" y2="388.20" stroke="#262626" stroke-width="1.4"/>
<line x1="266.10" y1="387.90" x2="461.30" y2="387.90" stroke="#262626" stroke-width="1.4"/>
<line x1="263.50" y1="387.60" x2="266.80" y2="387.60" stroke="#262626" stroke-width="1.3"/>
<text x="262.3" y="390.70000000000005" font-size="11.8" text-anchor="end" stroke="#1a1a1a" stroke-width="0.2" fill="#1a1a1a">0</text>
<line x1="263.50" y1="351.95" x2="266.80" y2="351.95" stroke="#262626" stroke-width="1.3"/>
<text x="262.3" y="355.05000000000007" font-size="11.8" text-anchor="end" stroke="#1a1a1a" stroke-width="0.2" fill="#1a1a1a">5</text>
<line x1="263.50" y1="316.30" x2="266.80" y2="316.30" stroke="#262626" stroke-width="1.3"/>
<text x="262.3" y="319.40000000000003" font-size="11.8" text-anchor="end" stroke="#1a1a1a" stroke-width="0.2" fill="#1a1a1a">10</text>
<text transform="translate(246.8,351.5) rotate(-90)" font-size="11.4" text-anchor="middle" stroke="#1a1a1a" stroke-width="0.2" fill="#1a1a1a">ΔCD107a<tspan font-size="65%" baseline-shift="42%">+</tspan> (%)</text>
<rect x="416.90" y="318.00" width="7.30" height="7.00" fill="#1e1e1e" stroke="#222" stroke-width="1.0"/>
<text x="426" y="325.1" font-size="9.8" text-anchor="start" stroke="#1a1a1a" stroke-width="0.2" fill="#1a1a1a">P815</text>
<rect x="416.90" y="330.50" width="7.30" height="7.00" fill="#3b5ba8" stroke="#222" stroke-width="1.0"/>
<text x="426" y="337.6" font-size="9.8" text-anchor="start" stroke="#1a1a1a" stroke-width="0.2" fill="#1a1a1a">P815 + anti-CD3</text>
<polyline points="276.30,393.10 276.30,396.30 296.30,396.30 296.30,393.10" fill="none" stroke="#1a1a1a" stroke-width="1.3"/>
<text x="286.3" y="405.2" font-size="9.6" text-anchor="middle" stroke="#1a1a1a" stroke-width="0.2" fill="#1a1a1a">Adult</text>
<polyline points="316.30,393.10 316.30,396.30 335.50,396.30 335.50,393.10" fill="none" stroke="#1a1a1a" stroke-width="1.3"/>
<text x="325.9" y="405.2" font-size="9.6" text-anchor="middle" stroke="#1a1a1a" stroke-width="0.2" fill="#1a1a1a">Inf.</text>
<polyline points="354.50,393.10 354.50,396.30 374.30,396.30 374.30,393.10" fill="none" stroke="#1a1a1a" stroke-width="1.3"/>
<text x="364.4" y="405.2" font-size="9.6" text-anchor="middle" stroke="#1a1a1a" stroke-width="0.2" fill="#1a1a1a">FHL2</text>
<polyline points="393.80,393.10 393.80,396.30 413.30,396.30 413.30,393.10" fill="none" stroke="#1a1a1a" stroke-width="1.3"/>
<text x="403.55" y="405.2" font-size="9.6" text-anchor="middle" stroke="#1a1a1a" stroke-width="0.2" fill="#1a1a1a">FHL3</text>
<polyline points="433.00,393.10 433.00,396.30 452.50,396.30 452.50,393.10" fill="none" stroke="#1a1a1a" stroke-width="1.3"/>
<text x="442.75" y="405.2" font-size="9.6" text-anchor="middle" stroke="#1a1a1a" stroke-width="0.2" fill="#1a1a1a">FHL4</text>
<rect x="294.85" y="315.95" width="4.30" height="4.30" fill="#3b5ba8" stroke="none" stroke-width="0"/>
<rect x="293.45" y="339.65" width="4.30" height="4.30" fill="#3b5ba8" stroke="none" stroke-width="0"/>
<rect x="297.65" y="339.45" width="4.30" height="4.30" fill="#3b5ba8" stroke="none" stroke-width="0"/>
<rect x="287.45" y="350.45" width="4.30" height="4.30" fill="#3b5ba8" stroke="none" stroke-width="0"/>
<rect x="291.05" y="347.85" width="4.30" height="4.30" fill="#3b5ba8" stroke="none" stroke-width="0"/>
<rect x="297.75" y="349.15" width="4.30" height="4.30" fill="#3b5ba8" stroke="none" stroke-width="0"/>
<rect x="294.25" y="354.85" width="4.30" height="4.30" fill="#3b5ba8" stroke="none" stroke-width="0"/>
<rect x="288.85" y="346.35" width="4.30" height="4.30" fill="#3b5ba8" stroke="none" stroke-width="0"/>
<rect x="289.35" y="366.85" width="4.30" height="4.30" fill="#3b5ba8" stroke="none" stroke-width="0"/>
<rect x="293.35" y="366.45" width="4.30" height="4.30" fill="#3b5ba8" stroke="none" stroke-width="0"/>
<rect x="297.45" y="367.35" width="4.30" height="4.30" fill="#3b5ba8" stroke="none" stroke-width="0"/>
<rect x="287.65" y="370.65" width="4.30" height="4.30" fill="#3b5ba8" stroke="none" stroke-width="0"/>
<rect x="291.65" y="370.35" width="4.30" height="4.30" fill="#3b5ba8" stroke="none" stroke-width="0"/>
<rect x="295.85" y="370.85" width="4.30" height="4.30" fill="#3b5ba8" stroke="none" stroke-width="0"/>
<rect x="298.85" y="371.65" width="4.30" height="4.30" fill="#3b5ba8" stroke="none" stroke-width="0"/>
<rect x="288.35" y="374.65" width="4.30" height="4.30" fill="#3b5ba8" stroke="none" stroke-width="0"/>
<rect x="292.45" y="374.35" width="4.30" height="4.30" fill="#3b5ba8" stroke="none" stroke-width="0"/>
<rect x="296.45" y="375.05" width="4.30" height="4.30" fill="#3b5ba8" stroke="none" stroke-width="0"/>
<rect x="289.85" y="378.45" width="4.30" height="4.30" fill="#3b5ba8" stroke="none" stroke-width="0"/>
<rect x="293.85" y="378.05" width="4.30" height="4.30" fill="#3b5ba8" stroke="none" stroke-width="0"/>
<rect x="297.85" y="378.85" width="4.30" height="4.30" fill="#3b5ba8" stroke="none" stroke-width="0"/>
<rect x="291.85" y="382.25" width="4.30" height="4.30" fill="#3b5ba8" stroke="none" stroke-width="0"/>
<rect x="296.05" y="382.45" width="4.30" height="4.30" fill="#3b5ba8" stroke="none" stroke-width="0"/>
<rect x="299.05" y="381.85" width="4.30" height="4.30" fill="#3b5ba8" stroke="none" stroke-width="0"/>
<rect x="288.20" y="363.80" width="15.70" height="2.90" fill="#000" stroke="none" stroke-width="0"/>
<rect x="271.65" y="385.85" width="4.30" height="4.30" fill="#000" stroke="none" stroke-width="0"/>
<rect x="275.45" y="384.65" width="4.30" height="4.30" fill="#000" stroke="none" stroke-width="0"/>
<rect x="279.25" y="385.85" width="4.30" height="4.30" fill="#000" stroke="none" stroke-width="0"/>
<rect x="275.35" y="381.85" width="4.30" height="4.30" fill="#000" stroke="none" stroke-width="0"/>
<polygon points="309.90,389.89 315.10,389.89 312.50,385.31" fill="#000"/>
<polygon points="313.40,388.89 318.60,388.89 316.00,384.31" fill="#000"/>
<polygon points="316.90,389.89 322.10,389.89 319.50,385.31" fill="#000"/>
<polygon points="332.60,374.29 337.80,374.29 335.20,369.71" fill="#3b5ba8"/>
<polygon points="325.70,378.29 330.90,378.29 328.30,373.71" fill="#3b5ba8"/>
<polygon points="331.00,381.29 336.20,381.29 333.60,376.71" fill="#3b5ba8"/>
<polygon points="330.10,387.49 335.30,387.49 332.70,382.91" fill="#3b5ba8"/>
<polygon points="335.20,387.49 340.40,387.49 337.80,382.91" fill="#3b5ba8"/>
<polygon points="337.90,386.29 343.10,386.29 340.50,381.71" fill="#3b5ba8"/>
<rect x="327.50" y="379.70" width="15.00" height="2.70" fill="#000" stroke="none" stroke-width="0"/>
<polygon points="352.90,384.91 358.10,384.91 355.50,389.49" fill="#000"/>
<polygon points="356.90,384.91 362.10,384.91 359.50,389.49" fill="#000"/>
<polygon points="374.00,389.20 379.00,389.20 376.50,384.80" fill="#3b5ba8"/>
<polygon points="377.00,389.20 382.00,389.20 379.50,384.80" fill="#3b5ba8"/>
<rect x="367.00" y="385.20" width="14.30" height="2.50" fill="#000" stroke="none" stroke-width="0"/>
<polygon points="394.50,384.70 397.70,387.90 394.50,391.10 391.30,387.90" fill="#000"/>
<polygon points="413.80,384.70 417.00,387.90 413.80,391.10 410.60,387.90" fill="#3b5ba8"/>
<circle cx="433.00" cy="387.90" r="2.5" fill="#000"/>
<circle cx="438.00" cy="387.90" r="2.5" fill="#000"/>
<polygon points="453.80,384.80 456.90,387.90 453.80,391.00 450.70,387.90" fill="#3b5ba8"/>
<polygon points="457.00,384.80 460.10,387.90 457.00,391.00 453.90,387.90" fill="#3b5ba8"/>
<line x1="267.00" y1="424.00" x2="267.00" y2="526.20" stroke="#262626" stroke-width="1.4"/>
<line x1="263.60" y1="525.80" x2="520.00" y2="525.80" stroke="#262626" stroke-width="1.4"/>
<line x1="263.60" y1="525.60" x2="267.00" y2="525.60" stroke="#262626" stroke-width="1.3"/>
<text x="261.2" y="529.6" font-size="11.8" text-anchor="end" stroke="#1a1a1a" stroke-width="0.2" fill="#1a1a1a">0</text>
<line x1="263.60" y1="511.17" x2="267.00" y2="511.17" stroke="#262626" stroke-width="1.3"/>
<text x="261.2" y="515.1700000000001" font-size="11.8" text-anchor="end" stroke="#1a1a1a" stroke-width="0.2" fill="#1a1a1a">10</text>
<line x1="263.60" y1="496.74" x2="267.00" y2="496.74" stroke="#262626" stroke-width="1.3"/>
<text x="261.2" y="500.74" font-size="11.8" text-anchor="end" stroke="#1a1a1a" stroke-width="0.2" fill="#1a1a1a">20</text>
<line x1="263.60" y1="482.31" x2="267.00" y2="482.31" stroke="#262626" stroke-width="1.3"/>
<text x="261.2" y="486.31" font-size="11.8" text-anchor="end" stroke="#1a1a1a" stroke-width="0.2" fill="#1a1a1a">30</text>
<line x1="263.60" y1="467.88" x2="267.00" y2="467.88" stroke="#262626" stroke-width="1.3"/>
<text x="261.2" y="471.88" font-size="11.8" text-anchor="end" stroke="#1a1a1a" stroke-width="0.2" fill="#1a1a1a">40</text>
<line x1="263.60" y1="453.45" x2="267.00" y2="453.45" stroke="#262626" stroke-width="1.3"/>
<text x="261.2" y="457.45000000000005" font-size="11.8" text-anchor="end" stroke="#1a1a1a" stroke-width="0.2" fill="#1a1a1a">50</text>
<line x1="263.60" y1="439.02" x2="267.00" y2="439.02" stroke="#262626" stroke-width="1.3"/>
<text x="261.2" y="443.02000000000004" font-size="11.8" text-anchor="end" stroke="#1a1a1a" stroke-width="0.2" fill="#1a1a1a">60</text>
<line x1="263.60" y1="424.59" x2="267.00" y2="424.59" stroke="#262626" stroke-width="1.3"/>
<text x="261.2" y="428.59000000000003" font-size="11.8" text-anchor="end" stroke="#1a1a1a" stroke-width="0.2" fill="#1a1a1a">70</text>
<text transform="translate(244.9,468.3) rotate(-90)" font-size="11.4" text-anchor="middle" stroke="#1a1a1a" stroke-width="0.2" fill="#1a1a1a">CD3<tspan font-size="65%" baseline-shift="42%">+</tspan> cells (%)</text>
<rect x="420.00" y="428.20" width="6.80" height="6.60" fill="#7a7a7a" stroke="#1a1a1a" stroke-width="1.2"/>
<text x="430.5" y="434.7" font-size="10.2" text-anchor="start" stroke="#1a1a1a" stroke-width="0.2" fill="#1a1a1a">Adult</text>
<rect x="420.00" y="440.80" width="6.80" height="6.60" fill="#d9d9d9" stroke="#1a1a1a" stroke-width="1.2"/>
<text x="430.5" y="447.2" font-size="10.2" text-anchor="start" stroke="#1a1a1a" stroke-width="0.2" fill="#1a1a1a">Infant</text>
<rect x="267.80" y="524.48" width="6.40" height="1.12" fill="#222" stroke="none" stroke-width="0"/>
<rect x="274.60" y="524.77" width="6.40" height="0.83" fill="#222" stroke="none" stroke-width="0"/>
<rect x="283.65" y="524.77" width="6.40" height="0.83" fill="#222" stroke="none" stroke-width="0"/>
<rect x="290.45" y="524.77" width="6.40" height="0.83" fill="#222" stroke="none" stroke-width="0"/>
<rect x="299.50" y="524.91" width="6.40" height="0.69" fill="#222" stroke="none" stroke-width="0"/>
<rect x="306.30" y="524.91" width="6.40" height="0.69" fill="#222" stroke="none" stroke-width="0"/>
<rect x="315.35" y="524.77" width="6.40" height="0.83" fill="#222" stroke="none" stroke-width="0"/>
<rect x="322.15" y="524.91" width="6.40" height="0.69" fill="#222" stroke="none" stroke-width="0"/>
<line x1="334.40" y1="441.91" x2="334.40" y2="456.34" stroke="#1a1a1a" stroke-width="1.2"/>
<line x1="332.00" y1="441.91" x2="336.80" y2="441.91" stroke="#1a1a1a" stroke-width="1.3"/>
<rect x="331.20" y="456.34" width="6.40" height="69.26" fill="#7a7a7a" stroke="#1a1a1a" stroke-width="1.2"/>
<line x1="334.40" y1="456.34" x2="334.40" y2="469.32" stroke="#1a1a1a" stroke-width="1.0"/>
<line x1="341.20" y1="438.59" x2="341.20" y2="446.24" stroke="#1a1a1a" stroke-width="1.2"/>
<line x1="338.80" y1="438.59" x2="343.60" y2="438.59" stroke="#1a1a1a" stroke-width="1.3"/>
<rect x="338.00" y="446.24" width="6.40" height="79.37" fill="#d9d9d9" stroke="#1a1a1a" stroke-width="1.2"/>
<line x1="341.20" y1="446.24" x2="341.20" y2="453.12" stroke="#1a1a1a" stroke-width="1.0"/>
<line x1="350.25" y1="503.09" x2="350.25" y2="509.01" stroke="#1a1a1a" stroke-width="1.2"/>
<line x1="347.85" y1="503.09" x2="352.65" y2="503.09" stroke="#1a1a1a" stroke-width="1.3"/>
<rect x="347.05" y="509.01" width="6.40" height="16.59" fill="#7a7a7a" stroke="#1a1a1a" stroke-width="1.2"/>
<line x1="350.25" y1="509.01" x2="350.25" y2="514.33" stroke="#1a1a1a" stroke-width="1.0"/>
<line x1="357.05" y1="512.32" x2="357.05" y2="515.50" stroke="#1a1a1a" stroke-width="1.2"/>
<line x1="354.65" y1="512.32" x2="359.45" y2="512.32" stroke="#1a1a1a" stroke-width="1.3"/>
<rect x="353.85" y="515.50" width="6.40" height="10.10" fill="#d9d9d9" stroke="#1a1a1a" stroke-width="1.2"/>
<line x1="357.05" y1="515.50" x2="357.05" y2="518.36" stroke="#1a1a1a" stroke-width="1.0"/>
<line x1="366.10" y1="519.11" x2="366.10" y2="521.27" stroke="#1a1a1a" stroke-width="1.2"/>
<line x1="363.70" y1="519.11" x2="368.50" y2="519.11" stroke="#1a1a1a" stroke-width="1.3"/>
<rect x="362.90" y="521.27" width="6.40" height="4.33" fill="#7a7a7a" stroke="#1a1a1a" stroke-width="1.2"/>
<line x1="366.10" y1="521.27" x2="366.10" y2="523.22" stroke="#1a1a1a" stroke-width="1.0"/>
<line x1="372.90" y1="522.14" x2="372.90" y2="523.00" stroke="#1a1a1a" stroke-width="1.2"/>
<line x1="370.50" y1="522.14" x2="375.30" y2="522.14" stroke="#1a1a1a" stroke-width="1.3"/>
<rect x="369.70" y="523.00" width="6.40" height="2.60" fill="#d9d9d9" stroke="#1a1a1a" stroke-width="1.2"/>
<line x1="372.90" y1="523.00" x2="372.90" y2="523.78" stroke="#1a1a1a" stroke-width="1.0"/>
<line x1="381.95" y1="520.98" x2="381.95" y2="521.99" stroke="#1a1a1a" stroke-width="1.2"/>
<line x1="379.55" y1="520.98" x2="384.35" y2="520.98" stroke="#1a1a1a" stroke-width="1.3"/>
<rect x="378.75" y="521.99" width="6.40" height="3.61" fill="#7a7a7a" stroke="#1a1a1a" stroke-width="1.2"/>
<line x1="381.95" y1="521.99" x2="381.95" y2="522.90" stroke="#1a1a1a" stroke-width="1.0"/>
<rect x="385.55" y="524.19" width="6.40" height="1.41" fill="#222" stroke="none" stroke-width="0"/>
<line x1="397.80" y1="492.41" x2="397.80" y2="502.51" stroke="#1a1a1a" stroke-width="1.2"/>
<line x1="395.40" y1="492.41" x2="400.20" y2="492.41" stroke="#1a1a1a" stroke-width="1.3"/>
<rect x="394.60" y="502.51" width="6.40" height="23.09" fill="#7a7a7a" stroke="#1a1a1a" stroke-width="1.2"/>
<line x1="397.80" y1="502.51" x2="397.80" y2="511.60" stroke="#1a1a1a" stroke-width="1.0"/>
<line x1="404.60" y1="486.21" x2="404.60" y2="494.29" stroke="#1a1a1a" stroke-width="1.2"/>
<line x1="402.20" y1="486.21" x2="407.00" y2="486.21" stroke="#1a1a1a" stroke-width="1.3"/>
<rect x="401.40" y="494.29" width="6.40" height="31.31" fill="#d9d9d9" stroke="#1a1a1a" stroke-width="1.2"/>
<line x1="404.60" y1="494.29" x2="404.60" y2="501.56" stroke="#1a1a1a" stroke-width="1.0"/>
<line x1="413.65" y1="508.28" x2="413.65" y2="514.63" stroke="#1a1a1a" stroke-width="1.2"/>
<line x1="411.25" y1="508.28" x2="416.05" y2="508.28" stroke="#1a1a1a" stroke-width="1.3"/>
<rect x="410.45" y="514.63" width="6.40" height="10.97" fill="#7a7a7a" stroke="#1a1a1a" stroke-width="1.2"/>
<line x1="413.65" y1="514.63" x2="413.65" y2="520.35" stroke="#1a1a1a" stroke-width="1.0"/>
<line x1="420.45" y1="515.93" x2="420.45" y2="517.66" stroke="#1a1a1a" stroke-width="1.2"/>
<line x1="418.05" y1="515.93" x2="422.85" y2="515.93" stroke="#1a1a1a" stroke-width="1.3"/>
<rect x="417.25" y="517.66" width="6.40" height="7.94" fill="#d9d9d9" stroke="#1a1a1a" stroke-width="1.2"/>
<line x1="420.45" y1="517.66" x2="420.45" y2="519.22" stroke="#1a1a1a" stroke-width="1.0"/>
<rect x="426.30" y="524.77" width="6.40" height="0.83" fill="#222" stroke="none" stroke-width="0"/>
<rect x="433.10" y="524.91" width="6.40" height="0.69" fill="#222" stroke="none" stroke-width="0"/>
<line x1="445.35" y1="511.17" x2="445.35" y2="516.94" stroke="#1a1a1a" stroke-width="1.2"/>
<line x1="442.95" y1="511.17" x2="447.75" y2="511.17" stroke="#1a1a1a" stroke-width="1.3"/>
<rect x="442.15" y="516.94" width="6.40" height="8.66" fill="#7a7a7a" stroke="#1a1a1a" stroke-width="1.2"/>
<line x1="445.35" y1="516.94" x2="445.35" y2="522.14" stroke="#1a1a1a" stroke-width="1.0"/>
<line x1="452.15" y1="521.27" x2="452.15" y2="522.28" stroke="#1a1a1a" stroke-width="1.2"/>
<line x1="449.75" y1="521.27" x2="454.55" y2="521.27" stroke="#1a1a1a" stroke-width="1.3"/>
<rect x="448.95" y="522.28" width="6.40" height="3.32" fill="#d9d9d9" stroke="#1a1a1a" stroke-width="1.2"/>
<line x1="452.15" y1="522.28" x2="452.15" y2="523.19" stroke="#1a1a1a" stroke-width="1.0"/>
<rect x="458.00" y="524.77" width="6.40" height="0.83" fill="#222" stroke="none" stroke-width="0"/>
<rect x="464.80" y="524.91" width="6.40" height="0.69" fill="#222" stroke="none" stroke-width="0"/>
<rect x="473.85" y="521.99" width="6.40" height="3.61" fill="#7a7a7a" stroke="#1a1a1a" stroke-width="1.2"/>
<line x1="483.85" y1="519.54" x2="483.85" y2="520.55" stroke="#1a1a1a" stroke-width="1.2"/>
<line x1="481.45" y1="519.54" x2="486.25" y2="519.54" stroke="#1a1a1a" stroke-width="1.3"/>
<rect x="480.65" y="520.55" width="6.40" height="5.05" fill="#d9d9d9" stroke="#1a1a1a" stroke-width="1.2"/>
<line x1="483.85" y1="520.55" x2="483.85" y2="521.46" stroke="#1a1a1a" stroke-width="1.0"/>
<rect x="489.70" y="524.91" width="6.40" height="0.69" fill="#222" stroke="none" stroke-width="0"/>
<rect x="496.50" y="524.91" width="6.40" height="0.69" fill="#222" stroke="none" stroke-width="0"/>
<rect x="505.55" y="523.29" width="6.40" height="2.31" fill="#7a7a7a" stroke="#1a1a1a" stroke-width="1.2"/>
<rect x="512.35" y="523.72" width="6.40" height="1.88" fill="#d9d9d9" stroke="#1a1a1a" stroke-width="1.2"/>
<polyline points="445.30,505.00 445.30,493.40 451.80,493.40 451.80,513.80" fill="none" stroke="#1a1a1a" stroke-width="1.3"/>
<text x="433.5" y="491.3" font-size="9.6" text-anchor="start" stroke="#1a1a1a" stroke-width="0.2" fill="#1a1a1a"><tspan font-style="italic">P</tspan>&lt; .01</text>
<text transform="translate(242.8,537.4) scale(0.93,1)" font-size="10.6" text-anchor="start" stroke="#1a1a1a" stroke-width="0.2" fill="#1a1a1a">CD3</text>
<line x1="272.70" y1="534.20" x2="277.50" y2="534.20" stroke="#333" stroke-width="1.0"/>
<line x1="275.10" y1="531.80" x2="275.10" y2="536.60" stroke="#333" stroke-width="1.0"/>
<line x1="288.55" y1="534.20" x2="293.35" y2="534.20" stroke="#333" stroke-width="1.0"/>
<line x1="290.95" y1="531.80" x2="290.95" y2="536.60" stroke="#333" stroke-width="1.0"/>
<line x1="304.40" y1="534.20" x2="309.20" y2="534.20" stroke="#333" stroke-width="1.0"/>
<line x1="306.80" y1="531.80" x2="306.80" y2="536.60" stroke="#333" stroke-width="1.0"/>
<line x1="320.25" y1="534.20" x2="325.05" y2="534.20" stroke="#333" stroke-width="1.0"/>
<line x1="322.65" y1="531.80" x2="322.65" y2="536.60" stroke="#333" stroke-width="1.0"/>
<line x1="336.10" y1="534.20" x2="340.90" y2="534.20" stroke="#333" stroke-width="1.0"/>
<line x1="338.50" y1="531.80" x2="338.50" y2="536.60" stroke="#333" stroke-width="1.0"/>
<line x1="351.95" y1="534.20" x2="356.75" y2="534.20" stroke="#333" stroke-width="1.0"/>
<line x1="354.35" y1="531.80" x2="354.35" y2="536.60" stroke="#333" stroke-width="1.0"/>
<line x1="367.80" y1="534.20" x2="372.60" y2="534.20" stroke="#333" stroke-width="1.0"/>
<line x1="370.20" y1="531.80" x2="370.20" y2="536.60" stroke="#333" stroke-width="1.0"/>
<line x1="383.65" y1="534.20" x2="388.45" y2="534.20" stroke="#333" stroke-width="1.0"/>
<line x1="386.05" y1="531.80" x2="386.05" y2="536.60" stroke="#333" stroke-width="1.0"/>
<line x1="399.50" y1="534.20" x2="404.30" y2="534.20" stroke="#333" stroke-width="1.0"/>
<line x1="401.90" y1="531.80" x2="401.90" y2="536.60" stroke="#333" stroke-width="1.0"/>
<line x1="415.35" y1="534.20" x2="420.15" y2="534.20" stroke="#333" stroke-width="1.0"/>
<line x1="417.75" y1="531.80" x2="417.75" y2="536.60" stroke="#333" stroke-width="1.0"/>
<line x1="431.20" y1="534.20" x2="436.00" y2="534.20" stroke="#333" stroke-width="1.0"/>
<line x1="433.60" y1="531.80" x2="433.60" y2="536.60" stroke="#333" stroke-width="1.0"/>
<line x1="447.05" y1="534.20" x2="451.85" y2="534.20" stroke="#333" stroke-width="1.0"/>
<line x1="449.45" y1="531.80" x2="449.45" y2="536.60" stroke="#333" stroke-width="1.0"/>
<line x1="462.90" y1="534.20" x2="467.70" y2="534.20" stroke="#333" stroke-width="1.0"/>
<line x1="465.30" y1="531.80" x2="465.30" y2="536.60" stroke="#333" stroke-width="1.0"/>
<line x1="478.75" y1="534.20" x2="483.55" y2="534.20" stroke="#333" stroke-width="1.0"/>
<line x1="481.15" y1="531.80" x2="481.15" y2="536.60" stroke="#333" stroke-width="1.0"/>
<line x1="494.60" y1="534.20" x2="499.40" y2="534.20" stroke="#333" stroke-width="1.0"/>
<line x1="497.00" y1="531.80" x2="497.00" y2="536.60" stroke="#333" stroke-width="1.0"/>
<line x1="510.45" y1="534.20" x2="515.25" y2="534.20" stroke="#333" stroke-width="1.0"/>
<line x1="512.85" y1="531.80" x2="512.85" y2="536.60" stroke="#333" stroke-width="1.0"/>
<text transform="translate(242.8,547.8) scale(0.93,1)" font-size="10.6" text-anchor="start" stroke="#1a1a1a" stroke-width="0.2" fill="#1a1a1a">CD4</text>
<line x1="272.70" y1="544.90" x2="277.50" y2="544.90" stroke="#333" stroke-width="1.0"/>
<line x1="275.10" y1="542.50" x2="275.10" y2="547.30" stroke="#333" stroke-width="1.0"/>
<line x1="288.55" y1="544.90" x2="293.35" y2="544.90" stroke="#333" stroke-width="1.0"/>
<line x1="290.95" y1="542.50" x2="290.95" y2="547.30" stroke="#333" stroke-width="1.0"/>
<line x1="304.40" y1="544.90" x2="309.20" y2="544.90" stroke="#333" stroke-width="1.0"/>
<line x1="306.80" y1="542.50" x2="306.80" y2="547.30" stroke="#333" stroke-width="1.0"/>
<line x1="320.25" y1="544.90" x2="325.05" y2="544.90" stroke="#333" stroke-width="1.0"/>
<line x1="322.65" y1="542.50" x2="322.65" y2="547.30" stroke="#333" stroke-width="1.0"/>
<line x1="336.10" y1="544.90" x2="340.90" y2="544.90" stroke="#333" stroke-width="1.0"/>
<line x1="338.50" y1="542.50" x2="338.50" y2="547.30" stroke="#333" stroke-width="1.0"/>
<line x1="351.95" y1="544.90" x2="356.75" y2="544.90" stroke="#333" stroke-width="1.0"/>
<line x1="354.35" y1="542.50" x2="354.35" y2="547.30" stroke="#333" stroke-width="1.0"/>
<line x1="367.80" y1="544.90" x2="372.60" y2="544.90" stroke="#333" stroke-width="1.0"/>
<line x1="370.20" y1="542.50" x2="370.20" y2="547.30" stroke="#333" stroke-width="1.0"/>
<line x1="383.65" y1="544.90" x2="388.45" y2="544.90" stroke="#333" stroke-width="1.0"/>
<line x1="386.05" y1="542.50" x2="386.05" y2="547.30" stroke="#333" stroke-width="1.0"/>
<text transform="translate(242.8,558.1999999999999) scale(0.93,1)" font-size="10.6" text-anchor="start" stroke="#1a1a1a" stroke-width="0.2" fill="#1a1a1a">CD8</text>
<line x1="272.70" y1="555.50" x2="277.50" y2="555.50" stroke="#333" stroke-width="1.0"/>
<line x1="275.10" y1="553.10" x2="275.10" y2="557.90" stroke="#333" stroke-width="1.0"/>
<line x1="288.55" y1="555.50" x2="293.35" y2="555.50" stroke="#333" stroke-width="1.0"/>
<line x1="290.95" y1="553.10" x2="290.95" y2="557.90" stroke="#333" stroke-width="1.0"/>
<line x1="304.40" y1="555.50" x2="309.20" y2="555.50" stroke="#333" stroke-width="1.0"/>
<line x1="306.80" y1="553.10" x2="306.80" y2="557.90" stroke="#333" stroke-width="1.0"/>
<line x1="320.25" y1="555.50" x2="325.05" y2="555.50" stroke="#333" stroke-width="1.0"/>
<line x1="322.65" y1="553.10" x2="322.65" y2="557.90" stroke="#333" stroke-width="1.0"/>
<line x1="399.50" y1="555.50" x2="404.30" y2="555.50" stroke="#333" stroke-width="1.0"/>
<line x1="401.90" y1="553.10" x2="401.90" y2="557.90" stroke="#333" stroke-width="1.0"/>
<line x1="415.35" y1="555.50" x2="420.15" y2="555.50" stroke="#333" stroke-width="1.0"/>
<line x1="417.75" y1="553.10" x2="417.75" y2="557.90" stroke="#333" stroke-width="1.0"/>
<line x1="431.20" y1="555.50" x2="436.00" y2="555.50" stroke="#333" stroke-width="1.0"/>
<line x1="433.60" y1="553.10" x2="433.60" y2="557.90" stroke="#333" stroke-width="1.0"/>
<line x1="447.05" y1="555.50" x2="451.85" y2="555.50" stroke="#333" stroke-width="1.0"/>
<line x1="449.45" y1="553.10" x2="449.45" y2="557.90" stroke="#333" stroke-width="1.0"/>
<text transform="translate(242.8,569.0999999999999) scale(0.93,1)" font-size="10.6" text-anchor="start" stroke="#1a1a1a" stroke-width="0.2" fill="#1a1a1a">CD62L</text>
<line x1="272.70" y1="565.70" x2="277.50" y2="565.70" stroke="#333" stroke-width="1.0"/>
<line x1="275.10" y1="563.30" x2="275.10" y2="568.10" stroke="#333" stroke-width="1.0"/>
<line x1="288.55" y1="565.70" x2="293.35" y2="565.70" stroke="#333" stroke-width="1.0"/>
<line x1="290.95" y1="563.30" x2="290.95" y2="568.10" stroke="#333" stroke-width="1.0"/>
<line x1="336.10" y1="565.70" x2="340.90" y2="565.70" stroke="#333" stroke-width="1.0"/>
<line x1="338.50" y1="563.30" x2="338.50" y2="568.10" stroke="#333" stroke-width="1.0"/>
<line x1="351.95" y1="565.70" x2="356.75" y2="565.70" stroke="#333" stroke-width="1.0"/>
<line x1="354.35" y1="563.30" x2="354.35" y2="568.10" stroke="#333" stroke-width="1.0"/>
<line x1="399.50" y1="565.70" x2="404.30" y2="565.70" stroke="#333" stroke-width="1.0"/>
<line x1="401.90" y1="563.30" x2="401.90" y2="568.10" stroke="#333" stroke-width="1.0"/>
<line x1="415.35" y1="565.70" x2="420.15" y2="565.70" stroke="#333" stroke-width="1.0"/>
<line x1="417.75" y1="563.30" x2="417.75" y2="568.10" stroke="#333" stroke-width="1.0"/>
<line x1="462.90" y1="565.70" x2="467.70" y2="565.70" stroke="#333" stroke-width="1.0"/>
<line x1="465.30" y1="563.30" x2="465.30" y2="568.10" stroke="#333" stroke-width="1.0"/>
<line x1="478.75" y1="565.70" x2="483.55" y2="565.70" stroke="#333" stroke-width="1.0"/>
<line x1="481.15" y1="563.30" x2="481.15" y2="568.10" stroke="#333" stroke-width="1.0"/>
<text transform="translate(242.8,579.5) scale(0.93,1)" font-size="10.6" text-anchor="start" stroke="#1a1a1a" stroke-width="0.2" fill="#1a1a1a">CCR7</text>
<line x1="272.70" y1="576.20" x2="277.50" y2="576.20" stroke="#333" stroke-width="1.0"/>
<line x1="275.10" y1="573.80" x2="275.10" y2="578.60" stroke="#333" stroke-width="1.0"/>
<line x1="304.40" y1="576.20" x2="309.20" y2="576.20" stroke="#333" stroke-width="1.0"/>
<line x1="306.80" y1="573.80" x2="306.80" y2="578.60" stroke="#333" stroke-width="1.0"/>
<line x1="336.10" y1="576.20" x2="340.90" y2="576.20" stroke="#333" stroke-width="1.0"/>
<line x1="338.50" y1="573.80" x2="338.50" y2="578.60" stroke="#333" stroke-width="1.0"/>
<line x1="367.80" y1="576.20" x2="372.60" y2="576.20" stroke="#333" stroke-width="1.0"/>
<line x1="370.20" y1="573.80" x2="370.20" y2="578.60" stroke="#333" stroke-width="1.0"/>
<line x1="399.50" y1="576.20" x2="404.30" y2="576.20" stroke="#333" stroke-width="1.0"/>
<line x1="401.90" y1="573.80" x2="401.90" y2="578.60" stroke="#333" stroke-width="1.0"/>
<line x1="431.20" y1="576.20" x2="436.00" y2="576.20" stroke="#333" stroke-width="1.0"/>
<line x1="433.60" y1="573.80" x2="433.60" y2="578.60" stroke="#333" stroke-width="1.0"/>
<line x1="462.90" y1="576.20" x2="467.70" y2="576.20" stroke="#333" stroke-width="1.0"/>
<line x1="465.30" y1="573.80" x2="465.30" y2="578.60" stroke="#333" stroke-width="1.0"/>
<line x1="494.60" y1="576.20" x2="499.40" y2="576.20" stroke="#333" stroke-width="1.0"/>
<line x1="497.00" y1="573.80" x2="497.00" y2="578.60" stroke="#333" stroke-width="1.0"/>
</svg></body></html>
